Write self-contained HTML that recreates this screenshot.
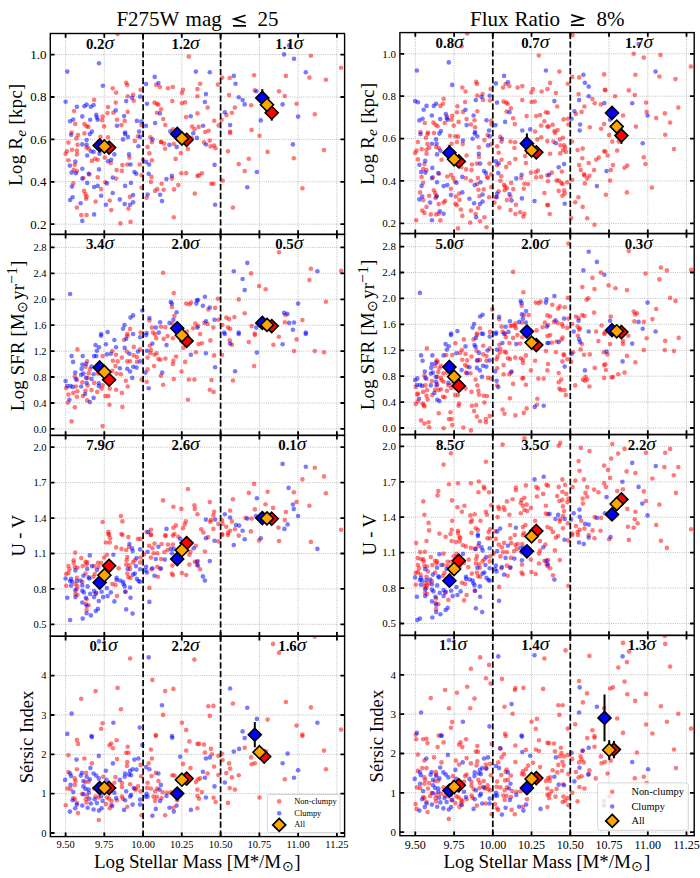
<!DOCTYPE html><html><head><meta charset="utf-8"><style>html,body{margin:0;padding:0;background:#fff}body{width:700px;height:878px;position:relative;overflow:hidden;font-family:"Liberation Serif",serif}</style></head><body><svg width="700" height="878" viewBox="0 0 700 878" style="position:absolute;left:0;top:0;font-family:'Liberation Serif',serif">
<rect width="700" height="878" fill="#fff"/>
<clipPath id="c00"><rect x="50.3" y="33.5" width="294.3" height="200.9"/></clipPath>
<path d="M65.6 33.5V234.4M104.3 33.5V234.4M143.1 33.5V234.4M181.8 33.5V234.4M220.6 33.5V234.4M259.4 33.5V234.4M298.1 33.5V234.4M336.9 33.5V234.4M50.3 224.2H344.6M50.3 181.8H344.6M50.3 139.4H344.6M50.3 97.0H344.6M50.3 54.6H344.6" stroke="#b0b0b0" stroke-width="0.9" stroke-dasharray="0.9 1.3" fill="none"/>
<g clip-path="url(#c00)">
<g fill="#ff0000" fill-opacity="0.52"><circle cx="117.6" cy="34.1" r="2.3"/><circle cx="126.2" cy="82.7" r="2.3"/><circle cx="127.3" cy="85.1" r="2.3"/><circle cx="112.7" cy="88.3" r="2.3"/><circle cx="116.1" cy="92.6" r="2.3"/><circle cx="140.6" cy="89.8" r="2.3"/><circle cx="127.7" cy="96.2" r="2.3"/><circle cx="133.1" cy="94.9" r="2.3"/><circle cx="133.7" cy="100.7" r="2.3"/><circle cx="115.7" cy="102.6" r="2.3"/><circle cx="94.1" cy="99.9" r="2.3"/><circle cx="108.0" cy="107.1" r="2.3"/><circle cx="74.1" cy="111.0" r="2.3"/><circle cx="113.4" cy="112.7" r="2.3"/><circle cx="107.4" cy="113.1" r="2.3"/><circle cx="127.7" cy="111.9" r="2.3"/><circle cx="102.6" cy="116.6" r="2.3"/><circle cx="102.2" cy="120.2" r="2.3"/><circle cx="117.0" cy="119.8" r="2.3"/><circle cx="124.7" cy="120.9" r="2.3"/><circle cx="75.2" cy="124.1" r="2.3"/><circle cx="84.4" cy="124.1" r="2.3"/><circle cx="86.6" cy="126.2" r="2.3"/><circle cx="88.3" cy="126.9" r="2.3"/><circle cx="104.1" cy="126.4" r="2.3"/><circle cx="121.5" cy="125.1" r="2.3"/><circle cx="141.4" cy="125.1" r="2.3"/><circle cx="71.6" cy="132.6" r="2.3"/><circle cx="188.8" cy="56.6" r="2.3"/><circle cx="156.2" cy="84.9" r="2.3"/><circle cx="159.9" cy="87.0" r="2.3"/><circle cx="168.0" cy="88.3" r="2.3"/><circle cx="172.7" cy="87.0" r="2.3"/><circle cx="183.0" cy="89.8" r="2.3"/><circle cx="181.9" cy="93.0" r="2.3"/><circle cx="197.4" cy="89.1" r="2.3"/><circle cx="197.4" cy="96.2" r="2.3"/><circle cx="154.5" cy="102.6" r="2.3"/><circle cx="156.9" cy="103.7" r="2.3"/><circle cx="158.4" cy="104.8" r="2.3"/><circle cx="172.3" cy="101.1" r="2.3"/><circle cx="181.9" cy="103.3" r="2.3"/><circle cx="185.1" cy="102.2" r="2.3"/><circle cx="161.1" cy="109.3" r="2.3"/><circle cx="156.9" cy="112.7" r="2.3"/><circle cx="310.9" cy="55.7" r="2.3"/><circle cx="341.1" cy="67.7" r="2.3"/><circle cx="254.1" cy="75.2" r="2.3"/><circle cx="285.9" cy="75.9" r="2.3"/><circle cx="309.4" cy="77.6" r="2.3"/><circle cx="325.9" cy="79.7" r="2.3"/><circle cx="229.7" cy="78.0" r="2.3"/><circle cx="222.2" cy="77.6" r="2.3"/><circle cx="200.1" cy="83.8" r="2.3"/><circle cx="217.9" cy="84.6" r="2.3"/><circle cx="254.8" cy="90.4" r="2.3"/><circle cx="279.0" cy="91.3" r="2.3"/><circle cx="284.8" cy="96.0" r="2.3"/><circle cx="229.1" cy="95.1" r="2.3"/><circle cx="251.1" cy="105.2" r="2.3"/><circle cx="296.6" cy="103.7" r="2.3"/><circle cx="207.6" cy="107.6" r="2.3"/><circle cx="234.9" cy="107.6" r="2.3"/><circle cx="231.9" cy="112.7" r="2.3"/><circle cx="226.5" cy="115.1" r="2.3"/><circle cx="314.8" cy="114.2" r="2.3"/><circle cx="221.6" cy="119.8" r="2.3"/><circle cx="251.6" cy="129.9" r="2.3"/><circle cx="230.1" cy="131.6" r="2.3"/><circle cx="78.0" cy="135.1" r="2.3"/><circle cx="84.4" cy="133.4" r="2.3"/><circle cx="76.3" cy="138.4" r="2.3"/><circle cx="100.5" cy="136.9" r="2.3"/><circle cx="108.0" cy="137.3" r="2.3"/><circle cx="138.0" cy="136.2" r="2.3"/><circle cx="68.4" cy="142.6" r="2.3"/><circle cx="77.6" cy="144.8" r="2.3"/><circle cx="134.8" cy="140.9" r="2.3"/><circle cx="86.6" cy="147.6" r="2.3"/><circle cx="88.7" cy="148.6" r="2.3"/><circle cx="72.0" cy="149.7" r="2.3"/><circle cx="76.9" cy="150.6" r="2.3"/><circle cx="66.9" cy="151.2" r="2.3"/><circle cx="65.6" cy="153.8" r="2.3"/><circle cx="76.9" cy="154.4" r="2.3"/><circle cx="129.4" cy="157.6" r="2.3"/><circle cx="104.8" cy="157.6" r="2.3"/><circle cx="95.1" cy="158.7" r="2.3"/><circle cx="97.7" cy="159.8" r="2.3"/><circle cx="91.9" cy="160.9" r="2.3"/><circle cx="110.8" cy="163.0" r="2.3"/><circle cx="68.4" cy="160.2" r="2.3"/><circle cx="74.8" cy="164.7" r="2.3"/><circle cx="122.4" cy="165.1" r="2.3"/><circle cx="127.3" cy="164.5" r="2.3"/><circle cx="139.7" cy="164.5" r="2.3"/><circle cx="73.7" cy="169.9" r="2.3"/><circle cx="76.9" cy="171.1" r="2.3"/><circle cx="116.6" cy="170.1" r="2.3"/><circle cx="121.9" cy="170.9" r="2.3"/><circle cx="89.4" cy="174.4" r="2.3"/><circle cx="97.7" cy="177.4" r="2.3"/><circle cx="83.4" cy="178.0" r="2.3"/><circle cx="116.1" cy="178.6" r="2.3"/><circle cx="141.6" cy="175.2" r="2.3"/><circle cx="73.3" cy="183.4" r="2.3"/><circle cx="105.4" cy="182.3" r="2.3"/><circle cx="101.1" cy="189.1" r="2.3"/><circle cx="141.6" cy="187.6" r="2.3"/><circle cx="84.0" cy="190.9" r="2.3"/><circle cx="85.5" cy="194.1" r="2.3"/><circle cx="86.6" cy="196.6" r="2.3"/><circle cx="86.1" cy="198.8" r="2.3"/><circle cx="129.9" cy="196.9" r="2.3"/><circle cx="109.7" cy="200.5" r="2.3"/><circle cx="95.6" cy="201.6" r="2.3"/><circle cx="76.9" cy="207.6" r="2.3"/><circle cx="128.4" cy="208.6" r="2.3"/><circle cx="111.2" cy="210.1" r="2.3"/><circle cx="81.2" cy="215.1" r="2.3"/><circle cx="86.6" cy="215.1" r="2.3"/><circle cx="120.4" cy="223.4" r="2.3"/><circle cx="130.5" cy="221.9" r="2.3"/><circle cx="150.4" cy="137.3" r="2.3"/><circle cx="151.9" cy="142.2" r="2.3"/><circle cx="160.9" cy="142.0" r="2.3"/><circle cx="147.6" cy="146.9" r="2.3"/><circle cx="149.4" cy="153.4" r="2.3"/><circle cx="142.9" cy="159.8" r="2.3"/><circle cx="151.9" cy="160.4" r="2.3"/><circle cx="186.2" cy="173.1" r="2.3"/><circle cx="181.3" cy="173.3" r="2.3"/><circle cx="151.5" cy="176.9" r="2.3"/><circle cx="171.9" cy="178.6" r="2.3"/><circle cx="150.9" cy="181.9" r="2.3"/><circle cx="161.6" cy="183.8" r="2.3"/><circle cx="178.3" cy="185.1" r="2.3"/><circle cx="157.3" cy="189.1" r="2.3"/><circle cx="155.1" cy="190.9" r="2.3"/><circle cx="163.7" cy="189.8" r="2.3"/><circle cx="174.0" cy="189.4" r="2.3"/><circle cx="194.8" cy="193.6" r="2.3"/><circle cx="146.6" cy="197.7" r="2.3"/><circle cx="173.8" cy="217.2" r="2.3"/><circle cx="197.4" cy="175.9" r="2.3"/><circle cx="230.1" cy="133.0" r="2.3"/><circle cx="259.5" cy="135.8" r="2.3"/><circle cx="228.0" cy="151.2" r="2.3"/><circle cx="267.6" cy="151.9" r="2.3"/><circle cx="324.0" cy="150.1" r="2.3"/><circle cx="248.8" cy="158.7" r="2.3"/><circle cx="293.8" cy="158.3" r="2.3"/><circle cx="238.7" cy="164.1" r="2.3"/><circle cx="244.7" cy="171.1" r="2.3"/><circle cx="201.9" cy="173.3" r="2.3"/><circle cx="199.1" cy="175.4" r="2.3"/><circle cx="222.6" cy="180.6" r="2.3"/><circle cx="211.3" cy="183.8" r="2.3"/><circle cx="213.4" cy="183.8" r="2.3"/><circle cx="302.4" cy="188.3" r="2.3"/><circle cx="232.9" cy="207.6" r="2.3"/><circle cx="197.5" cy="113.4" r="2.3"/><circle cx="186.1" cy="117.1" r="2.3"/><circle cx="163.2" cy="119.0" r="2.3"/><circle cx="214.2" cy="120.7" r="2.3"/><circle cx="165.3" cy="125.0" r="2.3"/><circle cx="192.1" cy="126.5" r="2.3"/><circle cx="198.6" cy="126.9" r="2.3"/><circle cx="218.7" cy="125.4" r="2.3"/><circle cx="194.5" cy="129.3" r="2.3"/><circle cx="208.6" cy="130.7" r="2.3"/><circle cx="205.2" cy="132.0" r="2.3"/><circle cx="172.9" cy="129.3" r="2.3"/><circle cx="191.7" cy="137.9" r="2.3"/><circle cx="209.7" cy="140.6" r="2.3"/><circle cx="204.0" cy="142.4" r="2.3"/><circle cx="161.3" cy="142.1" r="2.3"/><circle cx="164.1" cy="143.6" r="2.3"/><circle cx="173.7" cy="144.0" r="2.3"/><circle cx="210.6" cy="146.4" r="2.3"/><circle cx="214.0" cy="145.6" r="2.3"/><circle cx="215.5" cy="148.3" r="2.3"/><circle cx="165.1" cy="148.7" r="2.3"/><circle cx="187.9" cy="149.0" r="2.3"/><circle cx="180.8" cy="153.1" r="2.3"/><circle cx="175.6" cy="158.9" r="2.3"/></g>
<g fill="#0000ff" fill-opacity="0.52"><circle cx="99.0" cy="63.2" r="2.3"/><circle cx="67.3" cy="71.6" r="2.3"/><circle cx="102.9" cy="85.7" r="2.3"/><circle cx="140.1" cy="96.6" r="2.3"/><circle cx="132.0" cy="97.7" r="2.3"/><circle cx="126.2" cy="101.1" r="2.3"/><circle cx="65.6" cy="101.8" r="2.3"/><circle cx="86.6" cy="104.6" r="2.3"/><circle cx="84.4" cy="106.3" r="2.3"/><circle cx="76.9" cy="106.7" r="2.3"/><circle cx="93.6" cy="105.0" r="2.3"/><circle cx="90.9" cy="106.7" r="2.3"/><circle cx="115.7" cy="110.4" r="2.3"/><circle cx="124.1" cy="116.1" r="2.3"/><circle cx="96.2" cy="114.9" r="2.3"/><circle cx="82.3" cy="116.4" r="2.3"/><circle cx="96.9" cy="117.6" r="2.3"/><circle cx="97.7" cy="119.8" r="2.3"/><circle cx="90.2" cy="119.8" r="2.3"/><circle cx="73.1" cy="119.6" r="2.3"/><circle cx="70.1" cy="121.3" r="2.3"/><circle cx="136.9" cy="120.9" r="2.3"/><circle cx="117.0" cy="125.8" r="2.3"/><circle cx="141.4" cy="121.5" r="2.3"/><circle cx="91.9" cy="131.6" r="2.3"/><circle cx="125.1" cy="132.6" r="2.3"/><circle cx="139.1" cy="131.6" r="2.3"/><circle cx="195.9" cy="71.6" r="2.3"/><circle cx="154.7" cy="76.9" r="2.3"/><circle cx="146.1" cy="84.0" r="2.3"/><circle cx="158.4" cy="83.1" r="2.3"/><circle cx="147.0" cy="103.7" r="2.3"/><circle cx="159.9" cy="113.4" r="2.3"/><circle cx="155.1" cy="123.0" r="2.3"/><circle cx="145.9" cy="125.8" r="2.3"/><circle cx="289.1" cy="45.4" r="2.3"/><circle cx="284.1" cy="54.4" r="2.3"/><circle cx="294.0" cy="58.7" r="2.3"/><circle cx="305.8" cy="72.2" r="2.3"/><circle cx="209.8" cy="72.2" r="2.3"/><circle cx="233.8" cy="75.9" r="2.3"/><circle cx="235.5" cy="83.8" r="2.3"/><circle cx="256.3" cy="91.3" r="2.3"/><circle cx="205.9" cy="94.1" r="2.3"/><circle cx="238.7" cy="97.3" r="2.3"/><circle cx="242.6" cy="100.1" r="2.3"/><circle cx="204.9" cy="102.0" r="2.3"/><circle cx="244.7" cy="104.4" r="2.3"/><circle cx="282.6" cy="104.4" r="2.3"/><circle cx="224.8" cy="112.3" r="2.3"/><circle cx="298.1" cy="116.6" r="2.3"/><circle cx="260.8" cy="120.4" r="2.3"/><circle cx="230.1" cy="125.1" r="2.3"/><circle cx="71.1" cy="134.7" r="2.3"/><circle cx="89.8" cy="134.1" r="2.3"/><circle cx="125.1" cy="134.1" r="2.3"/><circle cx="127.9" cy="136.9" r="2.3"/><circle cx="140.1" cy="136.9" r="2.3"/><circle cx="86.6" cy="140.1" r="2.3"/><circle cx="82.3" cy="144.4" r="2.3"/><circle cx="86.6" cy="144.8" r="2.3"/><circle cx="123.0" cy="139.4" r="2.3"/><circle cx="138.4" cy="146.3" r="2.3"/><circle cx="90.9" cy="151.2" r="2.3"/><circle cx="93.6" cy="151.9" r="2.3"/><circle cx="87.2" cy="155.5" r="2.3"/><circle cx="99.4" cy="153.8" r="2.3"/><circle cx="114.4" cy="154.4" r="2.3"/><circle cx="129.0" cy="154.4" r="2.3"/><circle cx="111.2" cy="159.8" r="2.3"/><circle cx="108.0" cy="161.3" r="2.3"/><circle cx="75.4" cy="161.5" r="2.3"/><circle cx="69.9" cy="165.6" r="2.3"/><circle cx="130.5" cy="164.5" r="2.3"/><circle cx="82.3" cy="168.8" r="2.3"/><circle cx="99.0" cy="169.4" r="2.3"/><circle cx="71.6" cy="172.6" r="2.3"/><circle cx="75.9" cy="173.3" r="2.3"/><circle cx="134.4" cy="172.0" r="2.3"/><circle cx="136.3" cy="173.7" r="2.3"/><circle cx="88.7" cy="173.7" r="2.3"/><circle cx="82.3" cy="178.6" r="2.3"/><circle cx="112.7" cy="177.6" r="2.3"/><circle cx="87.2" cy="182.9" r="2.3"/><circle cx="72.0" cy="186.6" r="2.3"/><circle cx="106.9" cy="183.4" r="2.3"/><circle cx="130.9" cy="182.9" r="2.3"/><circle cx="125.1" cy="185.9" r="2.3"/><circle cx="97.7" cy="185.9" r="2.3"/><circle cx="94.1" cy="187.0" r="2.3"/><circle cx="112.7" cy="193.0" r="2.3"/><circle cx="101.1" cy="195.8" r="2.3"/><circle cx="133.1" cy="195.1" r="2.3"/><circle cx="72.6" cy="197.3" r="2.3"/><circle cx="70.1" cy="200.1" r="2.3"/><circle cx="119.8" cy="199.4" r="2.3"/><circle cx="133.1" cy="202.2" r="2.3"/><circle cx="80.6" cy="203.3" r="2.3"/><circle cx="124.7" cy="204.1" r="2.3"/><circle cx="130.1" cy="204.8" r="2.3"/><circle cx="105.9" cy="204.8" r="2.3"/><circle cx="94.1" cy="214.4" r="2.3"/><circle cx="82.3" cy="220.9" r="2.3"/><circle cx="152.4" cy="139.4" r="2.3"/><circle cx="146.1" cy="161.9" r="2.3"/><circle cx="149.1" cy="164.5" r="2.3"/><circle cx="148.7" cy="173.7" r="2.3"/><circle cx="171.9" cy="175.9" r="2.3"/><circle cx="166.5" cy="179.1" r="2.3"/><circle cx="147.6" cy="194.5" r="2.3"/><circle cx="160.1" cy="194.7" r="2.3"/><circle cx="162.0" cy="201.1" r="2.3"/><circle cx="292.9" cy="144.4" r="2.3"/><circle cx="256.9" cy="172.0" r="2.3"/><circle cx="247.3" cy="187.2" r="2.3"/><circle cx="215.1" cy="204.8" r="2.3"/><circle cx="190.7" cy="116.2" r="2.3"/><circle cx="203.1" cy="125.7" r="2.3"/><circle cx="193.3" cy="133.3" r="2.3"/><circle cx="170.3" cy="131.4" r="2.3"/><circle cx="196.9" cy="137.9" r="2.3"/><circle cx="169.4" cy="144.9" r="2.3"/><circle cx="206.0" cy="144.5" r="2.3"/><circle cx="176.7" cy="146.9" r="2.3"/><circle cx="214.6" cy="164.9" r="2.3"/></g>
</g>
<path d="M143.1 234.4V33.5" stroke="#000" stroke-width="1.7" stroke-dasharray="6.18 2.67" fill="none"/>
<path d="M220.6 234.4V33.5" stroke="#000" stroke-width="1.7" stroke-dasharray="6.18 2.67" fill="none"/>
<path d="M109.1 141.1l6.5 6.5l-6.5 6.5l-6.5 -6.5z" fill="#ff0000" stroke="#000" stroke-width="1.6" stroke-linejoin="miter"/>
<path d="M99.7 138.9l6.5 6.5l-6.5 6.5l-6.5 -6.5z" fill="#0000ff" stroke="#000" stroke-width="1.6" stroke-linejoin="miter"/>
<path d="M104.4 140.0l6.5 6.5l-6.5 6.5l-6.5 -6.5z" fill="#ffa500" stroke="#000" stroke-width="1.6" stroke-linejoin="miter"/>
<path d="M186.6 133.3l6.5 6.5l-6.5 6.5l-6.5 -6.5z" fill="#ff0000" stroke="#000" stroke-width="1.6" stroke-linejoin="miter"/>
<path d="M177.2 127.4l6.5 6.5l-6.5 6.5l-6.5 -6.5z" fill="#0000ff" stroke="#000" stroke-width="1.6" stroke-linejoin="miter"/>
<path d="M181.9 132.0l6.5 6.5l-6.5 6.5l-6.5 -6.5z" fill="#ffa500" stroke="#000" stroke-width="1.6" stroke-linejoin="miter"/>
<path d="M271.7 104.7V120.7" stroke="#000" stroke-width="2"/>
<path d="M271.7 106.2l6.5 6.5l-6.5 6.5l-6.5 -6.5z" fill="#ff0000" stroke="#000" stroke-width="1.6" stroke-linejoin="miter"/>
<path d="M262.3 89.1V106.7" stroke="#000" stroke-width="2"/>
<path d="M262.3 91.4l6.5 6.5l-6.5 6.5l-6.5 -6.5z" fill="#0000ff" stroke="#000" stroke-width="1.6" stroke-linejoin="miter"/>
<path d="M267.0 98.3l6.5 6.5l-6.5 6.5l-6.5 -6.5z" fill="#ffa500" stroke="#000" stroke-width="1.6" stroke-linejoin="miter"/>
<path d="M65.6 234.4v-4.2M65.6 33.5v4.2M104.3 234.4v-4.2M104.3 33.5v4.2M143.1 234.4v-4.2M143.1 33.5v4.2M181.8 234.4v-4.2M181.8 33.5v4.2M220.6 234.4v-4.2M220.6 33.5v4.2M259.4 234.4v-4.2M259.4 33.5v4.2M298.1 234.4v-4.2M298.1 33.5v4.2M336.9 234.4v-4.2M336.9 33.5v4.2M50.3 224.2h4.2M344.6 224.2h-4.2M50.3 181.8h4.2M344.6 181.8h-4.2M50.3 139.4h4.2M344.6 139.4h-4.2M50.3 97.0h4.2M344.6 97.0h-4.2M50.3 54.6h4.2M344.6 54.6h-4.2" stroke="#000" stroke-width="1.8" fill="none"/>
<rect x="50.3" y="33.5" width="294.3" height="200.9" fill="none" stroke="#000" stroke-width="1.4"/>
<text x="46.5" y="228.6" font-size="13" text-anchor="end">0.2</text>
<text x="46.5" y="186.2" font-size="13" text-anchor="end">0.4</text>
<text x="46.5" y="143.8" font-size="13" text-anchor="end">0.6</text>
<text x="46.5" y="101.4" font-size="13" text-anchor="end">0.8</text>
<text x="46.5" y="59.0" font-size="13" text-anchor="end">1.0</text>
<text x="100.0" y="48.5" font-size="14.8" font-weight="bold" text-anchor="middle">0.2<tspan font-style="italic" font-weight="normal" font-size="19.5">σ</tspan></text>
<text x="185.6" y="48.5" font-size="14.8" font-weight="bold" text-anchor="middle">1.2<tspan font-style="italic" font-weight="normal" font-size="19.5">σ</tspan></text>
<text x="289.4" y="48.5" font-size="14.8" font-weight="bold" text-anchor="middle">1.1<tspan font-style="italic" font-weight="normal" font-size="19.5">σ</tspan></text>
<clipPath id="c01"><rect x="50.3" y="234.4" width="294.3" height="201.0"/></clipPath>
<path d="M65.6 234.4V435.4M104.3 234.4V435.4M143.1 234.4V435.4M181.8 234.4V435.4M220.6 234.4V435.4M259.4 234.4V435.4M298.1 234.4V435.4M336.9 234.4V435.4M50.3 428.9H344.6M50.3 403.0H344.6M50.3 377.0H344.6M50.3 351.1H344.6M50.3 325.2H344.6M50.3 299.3H344.6M50.3 273.3H344.6M50.3 247.4H344.6" stroke="#b0b0b0" stroke-width="0.9" stroke-dasharray="0.9 1.3" fill="none"/>
<g clip-path="url(#c01)">
<g fill="#ff0000" fill-opacity="0.52"><circle cx="163.1" cy="272.8" r="2.3"/><circle cx="173.8" cy="293.1" r="2.3"/><circle cx="171.9" cy="306.9" r="2.3"/><circle cx="191.1" cy="302.6" r="2.3"/><circle cx="186.2" cy="303.6" r="2.3"/><circle cx="189.4" cy="304.3" r="2.3"/><circle cx="174.4" cy="315.9" r="2.3"/><circle cx="149.4" cy="320.4" r="2.3"/><circle cx="172.3" cy="323.6" r="2.3"/><circle cx="195.4" cy="323.6" r="2.3"/><circle cx="160.9" cy="326.8" r="2.3"/><circle cx="165.2" cy="327.2" r="2.3"/><circle cx="151.9" cy="327.6" r="2.3"/><circle cx="130.1" cy="328.9" r="2.3"/><circle cx="193.1" cy="328.3" r="2.3"/><circle cx="140.6" cy="332.6" r="2.3"/><circle cx="153.0" cy="332.6" r="2.3"/><circle cx="186.9" cy="331.5" r="2.3"/><circle cx="127.3" cy="334.1" r="2.3"/><circle cx="279.0" cy="252.2" r="2.3"/><circle cx="310.9" cy="268.7" r="2.3"/><circle cx="341.1" cy="270.9" r="2.3"/><circle cx="251.1" cy="273.4" r="2.3"/><circle cx="309.4" cy="280.1" r="2.3"/><circle cx="259.1" cy="286.1" r="2.3"/><circle cx="265.7" cy="289.3" r="2.3"/><circle cx="217.9" cy="298.7" r="2.3"/><circle cx="238.7" cy="299.4" r="2.3"/><circle cx="325.9" cy="301.7" r="2.3"/><circle cx="208.3" cy="309.4" r="2.3"/><circle cx="215.1" cy="307.9" r="2.3"/><circle cx="244.7" cy="313.3" r="2.3"/><circle cx="285.4" cy="315.0" r="2.3"/><circle cx="234.4" cy="317.1" r="2.3"/><circle cx="226.3" cy="317.6" r="2.3"/><circle cx="229.1" cy="319.1" r="2.3"/><circle cx="218.4" cy="319.7" r="2.3"/><circle cx="302.4" cy="320.1" r="2.3"/><circle cx="204.4" cy="322.9" r="2.3"/><circle cx="207.6" cy="324.0" r="2.3"/><circle cx="284.8" cy="322.3" r="2.3"/><circle cx="198.0" cy="326.1" r="2.3"/><circle cx="213.4" cy="327.6" r="2.3"/><circle cx="251.6" cy="326.1" r="2.3"/><circle cx="222.2" cy="325.1" r="2.3"/><circle cx="228.0" cy="327.6" r="2.3"/><circle cx="230.1" cy="328.9" r="2.3"/><circle cx="254.8" cy="333.6" r="2.3"/><circle cx="127.3" cy="335.7" r="2.3"/><circle cx="124.1" cy="340.0" r="2.3"/><circle cx="133.7" cy="346.9" r="2.3"/><circle cx="77.4" cy="349.4" r="2.3"/><circle cx="112.3" cy="351.1" r="2.3"/><circle cx="126.9" cy="351.6" r="2.3"/><circle cx="140.1" cy="349.4" r="2.3"/><circle cx="102.6" cy="356.1" r="2.3"/><circle cx="115.9" cy="354.8" r="2.3"/><circle cx="133.7" cy="355.4" r="2.3"/><circle cx="136.9" cy="357.1" r="2.3"/><circle cx="121.9" cy="357.6" r="2.3"/><circle cx="112.9" cy="360.8" r="2.3"/><circle cx="117.6" cy="361.4" r="2.3"/><circle cx="87.0" cy="361.4" r="2.3"/><circle cx="127.3" cy="361.4" r="2.3"/><circle cx="130.1" cy="361.2" r="2.3"/><circle cx="136.9" cy="361.9" r="2.3"/><circle cx="85.5" cy="366.8" r="2.3"/><circle cx="115.5" cy="366.1" r="2.3"/><circle cx="89.8" cy="369.4" r="2.3"/><circle cx="88.7" cy="373.2" r="2.3"/><circle cx="112.3" cy="370.9" r="2.3"/><circle cx="116.6" cy="373.6" r="2.3"/><circle cx="120.9" cy="374.3" r="2.3"/><circle cx="97.9" cy="373.6" r="2.3"/><circle cx="74.8" cy="376.4" r="2.3"/><circle cx="76.9" cy="380.1" r="2.3"/><circle cx="87.6" cy="377.9" r="2.3"/><circle cx="82.3" cy="382.2" r="2.3"/><circle cx="94.1" cy="382.9" r="2.3"/><circle cx="125.8" cy="380.7" r="2.3"/><circle cx="141.6" cy="379.6" r="2.3"/><circle cx="66.2" cy="388.0" r="2.3"/><circle cx="75.9" cy="386.5" r="2.3"/><circle cx="87.6" cy="385.4" r="2.3"/><circle cx="102.6" cy="385.4" r="2.3"/><circle cx="127.7" cy="386.5" r="2.3"/><circle cx="109.7" cy="388.6" r="2.3"/><circle cx="116.1" cy="389.7" r="2.3"/><circle cx="91.5" cy="390.1" r="2.3"/><circle cx="77.4" cy="391.2" r="2.3"/><circle cx="85.5" cy="390.8" r="2.3"/><circle cx="73.3" cy="392.9" r="2.3"/><circle cx="97.3" cy="391.9" r="2.3"/><circle cx="101.6" cy="388.6" r="2.3"/><circle cx="121.9" cy="392.9" r="2.3"/><circle cx="68.4" cy="394.6" r="2.3"/><circle cx="82.9" cy="396.1" r="2.3"/><circle cx="76.9" cy="396.8" r="2.3"/><circle cx="105.4" cy="396.1" r="2.3"/><circle cx="108.4" cy="396.1" r="2.3"/><circle cx="87.2" cy="400.4" r="2.3"/><circle cx="67.9" cy="402.6" r="2.3"/><circle cx="109.5" cy="404.7" r="2.3"/><circle cx="74.8" cy="407.3" r="2.3"/><circle cx="122.4" cy="406.9" r="2.3"/><circle cx="71.6" cy="421.4" r="2.3"/><circle cx="102.6" cy="426.1" r="2.3"/><circle cx="155.1" cy="334.4" r="2.3"/><circle cx="167.6" cy="336.1" r="2.3"/><circle cx="163.7" cy="338.9" r="2.3"/><circle cx="156.2" cy="338.3" r="2.3"/><circle cx="172.9" cy="338.3" r="2.3"/><circle cx="149.8" cy="345.8" r="2.3"/><circle cx="183.4" cy="347.9" r="2.3"/><circle cx="150.9" cy="350.1" r="2.3"/><circle cx="150.4" cy="353.3" r="2.3"/><circle cx="156.6" cy="353.3" r="2.3"/><circle cx="154.5" cy="354.8" r="2.3"/><circle cx="147.6" cy="357.6" r="2.3"/><circle cx="158.4" cy="359.1" r="2.3"/><circle cx="160.5" cy="359.7" r="2.3"/><circle cx="165.4" cy="358.6" r="2.3"/><circle cx="176.1" cy="356.5" r="2.3"/><circle cx="173.4" cy="360.8" r="2.3"/><circle cx="185.1" cy="361.9" r="2.3"/><circle cx="172.9" cy="364.0" r="2.3"/><circle cx="154.1" cy="366.1" r="2.3"/><circle cx="147.6" cy="369.4" r="2.3"/><circle cx="160.9" cy="375.8" r="2.3"/><circle cx="181.5" cy="371.5" r="2.3"/><circle cx="173.8" cy="379.0" r="2.3"/><circle cx="188.8" cy="379.6" r="2.3"/><circle cx="194.4" cy="379.6" r="2.3"/><circle cx="146.6" cy="381.8" r="2.3"/><circle cx="163.1" cy="384.8" r="2.3"/><circle cx="187.9" cy="399.8" r="2.3"/><circle cx="195.9" cy="352.2" r="2.3"/><circle cx="200.1" cy="334.0" r="2.3"/><circle cx="254.8" cy="335.1" r="2.3"/><circle cx="278.8" cy="336.8" r="2.3"/><circle cx="296.6" cy="339.4" r="2.3"/><circle cx="210.4" cy="340.4" r="2.3"/><circle cx="229.7" cy="340.4" r="2.3"/><circle cx="248.8" cy="342.1" r="2.3"/><circle cx="201.9" cy="343.2" r="2.3"/><circle cx="198.6" cy="344.1" r="2.3"/><circle cx="231.9" cy="344.7" r="2.3"/><circle cx="273.4" cy="344.7" r="2.3"/><circle cx="294.0" cy="351.1" r="2.3"/><circle cx="314.8" cy="351.1" r="2.3"/><circle cx="324.0" cy="352.2" r="2.3"/><circle cx="214.1" cy="355.4" r="2.3"/><circle cx="222.0" cy="355.0" r="2.3"/><circle cx="254.1" cy="366.1" r="2.3"/><circle cx="211.5" cy="380.1" r="2.3"/><circle cx="232.9" cy="380.5" r="2.3"/><circle cx="209.8" cy="389.7" r="2.3"/><circle cx="213.6" cy="391.9" r="2.3"/></g>
<g fill="#0000ff" fill-opacity="0.52"><circle cx="70.1" cy="294.0" r="2.3"/><circle cx="170.8" cy="302.1" r="2.3"/><circle cx="171.9" cy="303.6" r="2.3"/><circle cx="196.9" cy="300.4" r="2.3"/><circle cx="196.3" cy="303.6" r="2.3"/><circle cx="142.3" cy="310.5" r="2.3"/><circle cx="176.6" cy="312.2" r="2.3"/><circle cx="133.1" cy="315.4" r="2.3"/><circle cx="130.5" cy="317.6" r="2.3"/><circle cx="149.4" cy="318.0" r="2.3"/><circle cx="173.4" cy="319.7" r="2.3"/><circle cx="169.5" cy="322.9" r="2.3"/><circle cx="160.1" cy="322.3" r="2.3"/><circle cx="124.5" cy="325.1" r="2.3"/><circle cx="155.8" cy="327.6" r="2.3"/><circle cx="123.0" cy="328.7" r="2.3"/><circle cx="197.4" cy="327.6" r="2.3"/><circle cx="107.6" cy="332.1" r="2.3"/><circle cx="146.6" cy="333.0" r="2.3"/><circle cx="158.8" cy="332.6" r="2.3"/><circle cx="101.1" cy="334.1" r="2.3"/><circle cx="247.3" cy="262.9" r="2.3"/><circle cx="317.4" cy="271.3" r="2.3"/><circle cx="233.8" cy="271.3" r="2.3"/><circle cx="242.6" cy="279.0" r="2.3"/><circle cx="244.7" cy="290.1" r="2.3"/><circle cx="204.9" cy="296.8" r="2.3"/><circle cx="298.1" cy="303.6" r="2.3"/><circle cx="198.0" cy="300.0" r="2.3"/><circle cx="202.9" cy="305.8" r="2.3"/><circle cx="209.8" cy="307.5" r="2.3"/><circle cx="284.1" cy="312.9" r="2.3"/><circle cx="287.4" cy="313.9" r="2.3"/><circle cx="214.5" cy="319.7" r="2.3"/><circle cx="205.9" cy="321.2" r="2.3"/><circle cx="289.1" cy="322.9" r="2.3"/><circle cx="294.0" cy="322.5" r="2.3"/><circle cx="256.3" cy="327.6" r="2.3"/><circle cx="292.9" cy="329.8" r="2.3"/><circle cx="224.1" cy="332.6" r="2.3"/><circle cx="238.7" cy="332.6" r="2.3"/><circle cx="305.8" cy="332.6" r="2.3"/><circle cx="101.1" cy="335.7" r="2.3"/><circle cx="133.1" cy="334.0" r="2.3"/><circle cx="126.2" cy="338.7" r="2.3"/><circle cx="114.4" cy="340.0" r="2.3"/><circle cx="140.1" cy="337.2" r="2.3"/><circle cx="105.9" cy="344.3" r="2.3"/><circle cx="95.6" cy="345.1" r="2.3"/><circle cx="99.0" cy="347.3" r="2.3"/><circle cx="116.1" cy="347.3" r="2.3"/><circle cx="124.7" cy="347.9" r="2.3"/><circle cx="96.9" cy="350.7" r="2.3"/><circle cx="138.0" cy="351.6" r="2.3"/><circle cx="129.4" cy="353.7" r="2.3"/><circle cx="106.9" cy="354.4" r="2.3"/><circle cx="110.8" cy="353.7" r="2.3"/><circle cx="71.6" cy="356.1" r="2.3"/><circle cx="82.7" cy="356.1" r="2.3"/><circle cx="94.1" cy="356.1" r="2.3"/><circle cx="96.2" cy="356.1" r="2.3"/><circle cx="73.1" cy="361.9" r="2.3"/><circle cx="86.1" cy="364.0" r="2.3"/><circle cx="82.3" cy="364.6" r="2.3"/><circle cx="140.1" cy="361.4" r="2.3"/><circle cx="91.5" cy="366.6" r="2.3"/><circle cx="119.8" cy="368.3" r="2.3"/><circle cx="133.3" cy="366.8" r="2.3"/><circle cx="136.5" cy="367.6" r="2.3"/><circle cx="127.3" cy="368.7" r="2.3"/><circle cx="130.1" cy="371.5" r="2.3"/><circle cx="81.6" cy="368.9" r="2.3"/><circle cx="75.2" cy="372.6" r="2.3"/><circle cx="83.4" cy="373.6" r="2.3"/><circle cx="81.2" cy="374.7" r="2.3"/><circle cx="93.6" cy="374.3" r="2.3"/><circle cx="65.6" cy="381.1" r="2.3"/><circle cx="75.9" cy="379.0" r="2.3"/><circle cx="86.1" cy="377.9" r="2.3"/><circle cx="91.5" cy="379.0" r="2.3"/><circle cx="86.6" cy="382.9" r="2.3"/><circle cx="98.8" cy="383.3" r="2.3"/><circle cx="132.2" cy="377.9" r="2.3"/><circle cx="67.3" cy="386.1" r="2.3"/><circle cx="70.5" cy="386.1" r="2.3"/><circle cx="72.6" cy="386.9" r="2.3"/><circle cx="81.2" cy="386.5" r="2.3"/><circle cx="98.8" cy="386.1" r="2.3"/><circle cx="85.1" cy="394.0" r="2.3"/><circle cx="93.6" cy="397.9" r="2.3"/><circle cx="69.4" cy="399.8" r="2.3"/><circle cx="89.8" cy="402.1" r="2.3"/><circle cx="146.1" cy="335.1" r="2.3"/><circle cx="152.4" cy="343.6" r="2.3"/><circle cx="166.5" cy="345.1" r="2.3"/><circle cx="147.0" cy="350.7" r="2.3"/><circle cx="190.9" cy="354.8" r="2.3"/><circle cx="145.5" cy="372.6" r="2.3"/><circle cx="162.2" cy="372.6" r="2.3"/><circle cx="148.7" cy="388.2" r="2.3"/><circle cx="224.8" cy="334.0" r="2.3"/><circle cx="238.7" cy="334.0" r="2.3"/><circle cx="305.8" cy="334.0" r="2.3"/><circle cx="230.1" cy="343.6" r="2.3"/><circle cx="282.6" cy="344.3" r="2.3"/><circle cx="205.9" cy="353.3" r="2.3"/><circle cx="256.9" cy="352.6" r="2.3"/><circle cx="215.1" cy="367.2" r="2.3"/><circle cx="235.1" cy="371.3" r="2.3"/></g>
</g>
<path d="M143.1 435.4V234.4" stroke="#000" stroke-width="1.7" stroke-dasharray="6.18 2.67" fill="none"/>
<path d="M220.6 435.4V234.4" stroke="#000" stroke-width="1.7" stroke-dasharray="6.18 2.67" fill="none"/>
<path d="M109.1 373.2l6.5 6.5l-6.5 6.5l-6.5 -6.5z" fill="#ff0000" stroke="#000" stroke-width="1.6" stroke-linejoin="miter"/>
<path d="M99.7 361.0l6.5 6.5l-6.5 6.5l-6.5 -6.5z" fill="#0000ff" stroke="#000" stroke-width="1.6" stroke-linejoin="miter"/>
<path d="M104.4 365.5l6.5 6.5l-6.5 6.5l-6.5 -6.5z" fill="#ffa500" stroke="#000" stroke-width="1.6" stroke-linejoin="miter"/>
<path d="M186.6 334.4l6.5 6.5l-6.5 6.5l-6.5 -6.5z" fill="#ff0000" stroke="#000" stroke-width="1.6" stroke-linejoin="miter"/>
<path d="M177.2 321.8l6.5 6.5l-6.5 6.5l-6.5 -6.5z" fill="#0000ff" stroke="#000" stroke-width="1.6" stroke-linejoin="miter"/>
<path d="M181.9 328.8l6.5 6.5l-6.5 6.5l-6.5 -6.5z" fill="#ffa500" stroke="#000" stroke-width="1.6" stroke-linejoin="miter"/>
<path d="M271.7 319.6l6.5 6.5l-6.5 6.5l-6.5 -6.5z" fill="#ff0000" stroke="#000" stroke-width="1.6" stroke-linejoin="miter"/>
<path d="M262.3 316.4l6.5 6.5l-6.5 6.5l-6.5 -6.5z" fill="#0000ff" stroke="#000" stroke-width="1.6" stroke-linejoin="miter"/>
<path d="M267.0 318.4l6.5 6.5l-6.5 6.5l-6.5 -6.5z" fill="#ffa500" stroke="#000" stroke-width="1.6" stroke-linejoin="miter"/>
<path d="M65.6 435.4v-4.2M65.6 234.4v4.2M104.3 435.4v-4.2M104.3 234.4v4.2M143.1 435.4v-4.2M143.1 234.4v4.2M181.8 435.4v-4.2M181.8 234.4v4.2M220.6 435.4v-4.2M220.6 234.4v4.2M259.4 435.4v-4.2M259.4 234.4v4.2M298.1 435.4v-4.2M298.1 234.4v4.2M336.9 435.4v-4.2M336.9 234.4v4.2M50.3 428.9h4.2M344.6 428.9h-4.2M50.3 403.0h4.2M344.6 403.0h-4.2M50.3 377.0h4.2M344.6 377.0h-4.2M50.3 351.1h4.2M344.6 351.1h-4.2M50.3 325.2h4.2M344.6 325.2h-4.2M50.3 299.3h4.2M344.6 299.3h-4.2M50.3 273.3h4.2M344.6 273.3h-4.2M50.3 247.4h4.2M344.6 247.4h-4.2" stroke="#000" stroke-width="1.8" fill="none"/>
<rect x="50.3" y="234.4" width="294.3" height="201.0" fill="none" stroke="#000" stroke-width="1.4"/>
<text x="46.5" y="432.5" font-size="10.5" text-anchor="end">0.0</text>
<text x="46.5" y="406.5" font-size="10.5" text-anchor="end">0.4</text>
<text x="46.5" y="380.6" font-size="10.5" text-anchor="end">0.8</text>
<text x="46.5" y="354.7" font-size="10.5" text-anchor="end">1.2</text>
<text x="46.5" y="328.8" font-size="10.5" text-anchor="end">1.6</text>
<text x="46.5" y="302.8" font-size="10.5" text-anchor="end">2.0</text>
<text x="46.5" y="276.9" font-size="10.5" text-anchor="end">2.4</text>
<text x="46.5" y="251.0" font-size="10.5" text-anchor="end">2.8</text>
<text x="100.0" y="249.4" font-size="14.8" font-weight="bold" text-anchor="middle">3.4<tspan font-style="italic" font-weight="normal" font-size="19.5">σ</tspan></text>
<text x="185.6" y="249.4" font-size="14.8" font-weight="bold" text-anchor="middle">2.0<tspan font-style="italic" font-weight="normal" font-size="19.5">σ</tspan></text>
<text x="289.2" y="249.4" font-size="14.8" font-weight="bold" text-anchor="middle">0.5<tspan font-style="italic" font-weight="normal" font-size="19.5">σ</tspan></text>
<clipPath id="c02"><rect x="50.3" y="435.4" width="294.3" height="200.9"/></clipPath>
<path d="M65.6 435.4V636.3M104.3 435.4V636.3M143.1 435.4V636.3M181.8 435.4V636.3M220.6 435.4V636.3M259.4 435.4V636.3M298.1 435.4V636.3M336.9 435.4V636.3M50.3 624.3H344.6M50.3 588.9H344.6M50.3 553.5H344.6M50.3 518.1H344.6M50.3 482.6H344.6M50.3 447.2H344.6" stroke="#b0b0b0" stroke-width="0.9" stroke-dasharray="0.9 1.3" fill="none"/>
<g clip-path="url(#c02)">
<g fill="#ff0000" fill-opacity="0.52"><circle cx="187.9" cy="489.0" r="2.3"/><circle cx="163.1" cy="500.4" r="2.3"/><circle cx="173.4" cy="506.8" r="2.3"/><circle cx="181.3" cy="508.9" r="2.3"/><circle cx="194.4" cy="505.3" r="2.3"/><circle cx="194.8" cy="508.9" r="2.3"/><circle cx="197.4" cy="514.3" r="2.3"/><circle cx="120.9" cy="516.0" r="2.3"/><circle cx="122.4" cy="521.4" r="2.3"/><circle cx="102.6" cy="522.0" r="2.3"/><circle cx="185.8" cy="521.4" r="2.3"/><circle cx="184.7" cy="524.4" r="2.3"/><circle cx="175.9" cy="525.4" r="2.3"/><circle cx="173.4" cy="527.8" r="2.3"/><circle cx="183.0" cy="528.2" r="2.3"/><circle cx="150.9" cy="529.7" r="2.3"/><circle cx="146.6" cy="532.1" r="2.3"/><circle cx="108.4" cy="531.9" r="2.3"/><circle cx="108.4" cy="534.0" r="2.3"/><circle cx="121.5" cy="534.0" r="2.3"/><circle cx="174.4" cy="534.0" r="2.3"/><circle cx="150.9" cy="534.6" r="2.3"/><circle cx="165.4" cy="535.1" r="2.3"/><circle cx="314.8" cy="467.8" r="2.3"/><circle cx="324.0" cy="476.4" r="2.3"/><circle cx="302.4" cy="479.4" r="2.3"/><circle cx="254.1" cy="483.9" r="2.3"/><circle cx="293.8" cy="492.2" r="2.3"/><circle cx="325.9" cy="493.3" r="2.3"/><circle cx="248.8" cy="492.9" r="2.3"/><circle cx="267.6" cy="491.8" r="2.3"/><circle cx="232.9" cy="499.3" r="2.3"/><circle cx="209.8" cy="502.1" r="2.3"/><circle cx="296.6" cy="501.9" r="2.3"/><circle cx="309.4" cy="505.7" r="2.3"/><circle cx="265.5" cy="504.2" r="2.3"/><circle cx="273.0" cy="507.9" r="2.3"/><circle cx="254.8" cy="509.4" r="2.3"/><circle cx="230.1" cy="510.6" r="2.3"/><circle cx="214.1" cy="511.7" r="2.3"/><circle cx="285.9" cy="512.1" r="2.3"/><circle cx="213.4" cy="515.4" r="2.3"/><circle cx="245.6" cy="517.9" r="2.3"/><circle cx="251.6" cy="518.6" r="2.3"/><circle cx="210.9" cy="520.1" r="2.3"/><circle cx="210.2" cy="521.8" r="2.3"/><circle cx="222.0" cy="520.3" r="2.3"/><circle cx="231.9" cy="521.4" r="2.3"/><circle cx="284.8" cy="520.1" r="2.3"/><circle cx="218.4" cy="523.9" r="2.3"/><circle cx="222.6" cy="523.9" r="2.3"/><circle cx="226.3" cy="526.7" r="2.3"/><circle cx="278.4" cy="527.6" r="2.3"/><circle cx="201.2" cy="529.3" r="2.3"/><circle cx="213.4" cy="528.9" r="2.3"/><circle cx="234.9" cy="529.3" r="2.3"/><circle cx="230.1" cy="530.8" r="2.3"/><circle cx="250.9" cy="531.4" r="2.3"/><circle cx="203.4" cy="532.5" r="2.3"/><circle cx="228.0" cy="532.9" r="2.3"/><circle cx="341.1" cy="529.7" r="2.3"/><circle cx="222.2" cy="534.0" r="2.3"/><circle cx="109.1" cy="535.0" r="2.3"/><circle cx="122.4" cy="535.0" r="2.3"/><circle cx="110.1" cy="538.2" r="2.3"/><circle cx="128.4" cy="537.1" r="2.3"/><circle cx="138.0" cy="538.9" r="2.3"/><circle cx="140.6" cy="538.9" r="2.3"/><circle cx="105.9" cy="542.5" r="2.3"/><circle cx="109.7" cy="542.5" r="2.3"/><circle cx="129.0" cy="546.8" r="2.3"/><circle cx="116.1" cy="547.4" r="2.3"/><circle cx="121.5" cy="548.9" r="2.3"/><circle cx="126.2" cy="550.0" r="2.3"/><circle cx="75.2" cy="552.6" r="2.3"/><circle cx="81.2" cy="558.1" r="2.3"/><circle cx="73.7" cy="560.3" r="2.3"/><circle cx="73.7" cy="562.9" r="2.3"/><circle cx="106.9" cy="554.7" r="2.3"/><circle cx="104.1" cy="557.5" r="2.3"/><circle cx="127.3" cy="557.1" r="2.3"/><circle cx="140.6" cy="557.5" r="2.3"/><circle cx="134.8" cy="560.3" r="2.3"/><circle cx="85.5" cy="561.8" r="2.3"/><circle cx="87.2" cy="562.4" r="2.3"/><circle cx="86.6" cy="564.4" r="2.3"/><circle cx="97.9" cy="562.9" r="2.3"/><circle cx="101.1" cy="562.9" r="2.3"/><circle cx="126.6" cy="560.3" r="2.3"/><circle cx="133.1" cy="562.4" r="2.3"/><circle cx="140.1" cy="562.4" r="2.3"/><circle cx="68.4" cy="566.1" r="2.3"/><circle cx="74.8" cy="567.1" r="2.3"/><circle cx="77.4" cy="567.6" r="2.3"/><circle cx="82.7" cy="566.1" r="2.3"/><circle cx="94.1" cy="566.1" r="2.3"/><circle cx="98.4" cy="567.1" r="2.3"/><circle cx="126.2" cy="564.6" r="2.3"/><circle cx="129.4" cy="565.4" r="2.3"/><circle cx="69.4" cy="569.3" r="2.3"/><circle cx="118.7" cy="568.2" r="2.3"/><circle cx="130.1" cy="568.9" r="2.3"/><circle cx="68.4" cy="572.9" r="2.3"/><circle cx="85.5" cy="573.6" r="2.3"/><circle cx="94.7" cy="574.0" r="2.3"/><circle cx="93.4" cy="576.8" r="2.3"/><circle cx="127.3" cy="573.6" r="2.3"/><circle cx="66.2" cy="574.0" r="2.3"/><circle cx="128.4" cy="577.2" r="2.3"/><circle cx="76.9" cy="577.9" r="2.3"/><circle cx="130.5" cy="577.9" r="2.3"/><circle cx="82.3" cy="582.1" r="2.3"/><circle cx="66.2" cy="585.8" r="2.3"/><circle cx="75.4" cy="584.3" r="2.3"/><circle cx="77.4" cy="586.4" r="2.3"/><circle cx="112.3" cy="583.9" r="2.3"/><circle cx="115.5" cy="584.9" r="2.3"/><circle cx="76.5" cy="589.0" r="2.3"/><circle cx="125.1" cy="591.8" r="2.3"/><circle cx="75.4" cy="593.9" r="2.3"/><circle cx="77.4" cy="595.0" r="2.3"/><circle cx="95.6" cy="593.9" r="2.3"/><circle cx="86.6" cy="599.3" r="2.3"/><circle cx="117.0" cy="596.1" r="2.3"/><circle cx="85.9" cy="604.0" r="2.3"/><circle cx="88.7" cy="605.3" r="2.3"/><circle cx="86.6" cy="610.0" r="2.3"/><circle cx="150.9" cy="535.0" r="2.3"/><circle cx="165.4" cy="536.1" r="2.3"/><circle cx="172.9" cy="535.6" r="2.3"/><circle cx="178.3" cy="536.7" r="2.3"/><circle cx="154.5" cy="543.6" r="2.3"/><circle cx="149.1" cy="545.7" r="2.3"/><circle cx="161.6" cy="544.0" r="2.3"/><circle cx="168.0" cy="544.6" r="2.3"/><circle cx="172.9" cy="544.6" r="2.3"/><circle cx="152.4" cy="548.3" r="2.3"/><circle cx="167.6" cy="550.0" r="2.3"/><circle cx="164.4" cy="552.1" r="2.3"/><circle cx="153.6" cy="553.2" r="2.3"/><circle cx="157.3" cy="553.2" r="2.3"/><circle cx="144.0" cy="554.3" r="2.3"/><circle cx="150.9" cy="557.5" r="2.3"/><circle cx="161.1" cy="559.0" r="2.3"/><circle cx="195.9" cy="545.7" r="2.3"/><circle cx="190.5" cy="551.7" r="2.3"/><circle cx="189.4" cy="554.7" r="2.3"/><circle cx="194.8" cy="561.8" r="2.3"/><circle cx="189.4" cy="564.6" r="2.3"/><circle cx="196.9" cy="565.0" r="2.3"/><circle cx="172.3" cy="565.6" r="2.3"/><circle cx="157.3" cy="566.7" r="2.3"/><circle cx="160.1" cy="568.6" r="2.3"/><circle cx="151.5" cy="569.3" r="2.3"/><circle cx="171.9" cy="573.6" r="2.3"/><circle cx="172.9" cy="575.3" r="2.3"/><circle cx="181.9" cy="573.1" r="2.3"/><circle cx="186.2" cy="575.1" r="2.3"/><circle cx="157.9" cy="576.8" r="2.3"/><circle cx="149.4" cy="587.9" r="2.3"/><circle cx="222.2" cy="535.0" r="2.3"/><circle cx="228.0" cy="535.0" r="2.3"/><circle cx="238.7" cy="535.6" r="2.3"/><circle cx="208.1" cy="537.1" r="2.3"/><circle cx="259.1" cy="540.4" r="2.3"/><circle cx="218.4" cy="541.4" r="2.3"/><circle cx="279.0" cy="541.0" r="2.3"/><circle cx="310.9" cy="541.9" r="2.3"/><circle cx="204.9" cy="551.5" r="2.3"/><circle cx="198.0" cy="561.1" r="2.3"/><circle cx="200.1" cy="569.3" r="2.3"/></g>
<g fill="#0000ff" fill-opacity="0.52"><circle cx="166.5" cy="528.9" r="2.3"/><circle cx="148.3" cy="532.1" r="2.3"/><circle cx="282.6" cy="463.9" r="2.3"/><circle cx="305.8" cy="466.7" r="2.3"/><circle cx="288.6" cy="487.9" r="2.3"/><circle cx="256.9" cy="498.2" r="2.3"/><circle cx="292.9" cy="504.6" r="2.3"/><circle cx="293.8" cy="509.1" r="2.3"/><circle cx="224.8" cy="514.3" r="2.3"/><circle cx="298.1" cy="516.0" r="2.3"/><circle cx="230.1" cy="517.5" r="2.3"/><circle cx="247.3" cy="518.6" r="2.3"/><circle cx="255.9" cy="516.0" r="2.3"/><circle cx="205.9" cy="519.6" r="2.3"/><circle cx="215.1" cy="519.6" r="2.3"/><circle cx="235.9" cy="525.0" r="2.3"/><circle cx="239.1" cy="525.6" r="2.3"/><circle cx="287.6" cy="524.4" r="2.3"/><circle cx="284.4" cy="528.9" r="2.3"/><circle cx="242.6" cy="530.8" r="2.3"/><circle cx="129.4" cy="544.0" r="2.3"/><circle cx="132.0" cy="548.3" r="2.3"/><circle cx="132.6" cy="551.1" r="2.3"/><circle cx="140.1" cy="549.4" r="2.3"/><circle cx="89.8" cy="555.4" r="2.3"/><circle cx="113.4" cy="554.7" r="2.3"/><circle cx="136.5" cy="558.1" r="2.3"/><circle cx="91.9" cy="566.1" r="2.3"/><circle cx="135.9" cy="566.1" r="2.3"/><circle cx="75.4" cy="570.4" r="2.3"/><circle cx="87.2" cy="568.9" r="2.3"/><circle cx="96.9" cy="569.9" r="2.3"/><circle cx="127.7" cy="568.9" r="2.3"/><circle cx="140.1" cy="569.3" r="2.3"/><circle cx="83.4" cy="575.7" r="2.3"/><circle cx="88.7" cy="577.4" r="2.3"/><circle cx="134.8" cy="573.6" r="2.3"/><circle cx="133.1" cy="574.6" r="2.3"/><circle cx="65.6" cy="578.5" r="2.3"/><circle cx="71.1" cy="578.9" r="2.3"/><circle cx="89.4" cy="578.5" r="2.3"/><circle cx="116.6" cy="577.9" r="2.3"/><circle cx="116.6" cy="580.0" r="2.3"/><circle cx="136.9" cy="578.9" r="2.3"/><circle cx="70.1" cy="581.1" r="2.3"/><circle cx="72.2" cy="581.7" r="2.3"/><circle cx="76.9" cy="581.1" r="2.3"/><circle cx="80.6" cy="580.6" r="2.3"/><circle cx="120.2" cy="580.6" r="2.3"/><circle cx="123.0" cy="581.7" r="2.3"/><circle cx="138.6" cy="581.1" r="2.3"/><circle cx="140.1" cy="581.7" r="2.3"/><circle cx="71.1" cy="585.8" r="2.3"/><circle cx="82.3" cy="585.4" r="2.3"/><circle cx="87.6" cy="586.4" r="2.3"/><circle cx="123.6" cy="584.3" r="2.3"/><circle cx="124.7" cy="586.4" r="2.3"/><circle cx="75.4" cy="590.3" r="2.3"/><circle cx="82.3" cy="590.7" r="2.3"/><circle cx="83.8" cy="592.4" r="2.3"/><circle cx="94.1" cy="591.1" r="2.3"/><circle cx="96.2" cy="592.9" r="2.3"/><circle cx="101.6" cy="591.8" r="2.3"/><circle cx="106.9" cy="588.1" r="2.3"/><circle cx="110.8" cy="592.4" r="2.3"/><circle cx="130.1" cy="587.5" r="2.3"/><circle cx="125.6" cy="591.8" r="2.3"/><circle cx="90.2" cy="593.9" r="2.3"/><circle cx="75.4" cy="597.1" r="2.3"/><circle cx="67.3" cy="597.8" r="2.3"/><circle cx="85.9" cy="597.8" r="2.3"/><circle cx="94.1" cy="597.1" r="2.3"/><circle cx="98.8" cy="601.0" r="2.3"/><circle cx="103.1" cy="597.1" r="2.3"/><circle cx="107.6" cy="596.1" r="2.3"/><circle cx="130.5" cy="597.8" r="2.3"/><circle cx="114.4" cy="601.4" r="2.3"/><circle cx="82.3" cy="602.5" r="2.3"/><circle cx="86.6" cy="605.7" r="2.3"/><circle cx="97.9" cy="608.9" r="2.3"/><circle cx="95.8" cy="611.1" r="2.3"/><circle cx="86.6" cy="613.2" r="2.3"/><circle cx="90.9" cy="615.4" r="2.3"/><circle cx="82.7" cy="618.6" r="2.3"/><circle cx="70.1" cy="620.1" r="2.3"/><circle cx="126.2" cy="609.4" r="2.3"/><circle cx="132.6" cy="613.6" r="2.3"/><circle cx="180.2" cy="538.9" r="2.3"/><circle cx="158.4" cy="546.8" r="2.3"/><circle cx="170.8" cy="548.9" r="2.3"/><circle cx="173.8" cy="548.9" r="2.3"/><circle cx="147.6" cy="551.7" r="2.3"/><circle cx="171.9" cy="553.2" r="2.3"/><circle cx="155.8" cy="559.0" r="2.3"/><circle cx="164.8" cy="559.6" r="2.3"/><circle cx="193.7" cy="548.3" r="2.3"/><circle cx="196.9" cy="561.8" r="2.3"/><circle cx="146.1" cy="566.7" r="2.3"/><circle cx="152.4" cy="568.2" r="2.3"/><circle cx="160.9" cy="568.6" r="2.3"/><circle cx="145.5" cy="570.4" r="2.3"/><circle cx="147.0" cy="572.5" r="2.3"/><circle cx="154.5" cy="575.7" r="2.3"/><circle cx="149.4" cy="601.9" r="2.3"/><circle cx="205.9" cy="538.2" r="2.3"/><circle cx="260.8" cy="538.2" r="2.3"/><circle cx="244.7" cy="539.3" r="2.3"/><circle cx="214.5" cy="540.8" r="2.3"/><circle cx="233.8" cy="545.1" r="2.3"/><circle cx="317.4" cy="548.9" r="2.3"/><circle cx="209.8" cy="561.1" r="2.3"/><circle cx="198.0" cy="565.6" r="2.3"/><circle cx="202.9" cy="576.4" r="2.3"/><circle cx="204.9" cy="580.6" r="2.3"/></g>
</g>
<path d="M143.1 636.3V435.4" stroke="#000" stroke-width="1.7" stroke-dasharray="6.18 2.67" fill="none"/>
<path d="M220.6 636.3V435.4" stroke="#000" stroke-width="1.7" stroke-dasharray="6.18 2.67" fill="none"/>
<path d="M109.1 559.3l6.5 6.5l-6.5 6.5l-6.5 -6.5z" fill="#ff0000" stroke="#000" stroke-width="1.6" stroke-linejoin="miter"/>
<path d="M99.7 576.0l6.5 6.5l-6.5 6.5l-6.5 -6.5z" fill="#0000ff" stroke="#000" stroke-width="1.6" stroke-linejoin="miter"/>
<path d="M104.4 568.7l6.5 6.5l-6.5 6.5l-6.5 -6.5z" fill="#ffa500" stroke="#000" stroke-width="1.6" stroke-linejoin="miter"/>
<path d="M186.6 536.6l6.5 6.5l-6.5 6.5l-6.5 -6.5z" fill="#ff0000" stroke="#000" stroke-width="1.6" stroke-linejoin="miter"/>
<path d="M177.2 552.5l6.5 6.5l-6.5 6.5l-6.5 -6.5z" fill="#0000ff" stroke="#000" stroke-width="1.6" stroke-linejoin="miter"/>
<path d="M181.9 543.7l6.5 6.5l-6.5 6.5l-6.5 -6.5z" fill="#ffa500" stroke="#000" stroke-width="1.6" stroke-linejoin="miter"/>
<path d="M271.7 512.2l6.5 6.5l-6.5 6.5l-6.5 -6.5z" fill="#ff0000" stroke="#000" stroke-width="1.6" stroke-linejoin="miter"/>
<path d="M262.3 511.6l6.5 6.5l-6.5 6.5l-6.5 -6.5z" fill="#0000ff" stroke="#000" stroke-width="1.6" stroke-linejoin="miter"/>
<path d="M267.0 511.9l6.5 6.5l-6.5 6.5l-6.5 -6.5z" fill="#ffa500" stroke="#000" stroke-width="1.6" stroke-linejoin="miter"/>
<path d="M65.6 636.3v-4.2M65.6 435.4v4.2M104.3 636.3v-4.2M104.3 435.4v4.2M143.1 636.3v-4.2M143.1 435.4v4.2M181.8 636.3v-4.2M181.8 435.4v4.2M220.6 636.3v-4.2M220.6 435.4v4.2M259.4 636.3v-4.2M259.4 435.4v4.2M298.1 636.3v-4.2M298.1 435.4v4.2M336.9 636.3v-4.2M336.9 435.4v4.2M50.3 624.3h4.2M344.6 624.3h-4.2M50.3 588.9h4.2M344.6 588.9h-4.2M50.3 553.5h4.2M344.6 553.5h-4.2M50.3 518.1h4.2M344.6 518.1h-4.2M50.3 482.6h4.2M344.6 482.6h-4.2M50.3 447.2h4.2M344.6 447.2h-4.2" stroke="#000" stroke-width="1.8" fill="none"/>
<rect x="50.3" y="435.4" width="294.3" height="200.9" fill="none" stroke="#000" stroke-width="1.4"/>
<text x="46.5" y="627.9" font-size="10.5" text-anchor="end">0.5</text>
<text x="46.5" y="592.5" font-size="10.5" text-anchor="end">0.8</text>
<text x="46.5" y="557.1" font-size="10.5" text-anchor="end">1.1</text>
<text x="46.5" y="521.6" font-size="10.5" text-anchor="end">1.4</text>
<text x="46.5" y="486.2" font-size="10.5" text-anchor="end">1.7</text>
<text x="46.5" y="450.8" font-size="10.5" text-anchor="end">2.0</text>
<text x="100.4" y="450.4" font-size="14.8" font-weight="bold" text-anchor="middle">7.9<tspan font-style="italic" font-weight="normal" font-size="19.5">σ</tspan></text>
<text x="185.6" y="450.4" font-size="14.8" font-weight="bold" text-anchor="middle">2.6<tspan font-style="italic" font-weight="normal" font-size="19.5">σ</tspan></text>
<text x="292.3" y="450.4" font-size="14.8" font-weight="bold" text-anchor="middle">0.1<tspan font-style="italic" font-weight="normal" font-size="19.5">σ</tspan></text>
<clipPath id="c03"><rect x="50.3" y="636.3" width="294.3" height="200.3"/></clipPath>
<path d="M65.6 636.3V836.6M104.3 636.3V836.6M143.1 636.3V836.6M181.8 636.3V836.6M220.6 636.3V836.6M259.4 636.3V836.6M298.1 636.3V836.6M336.9 636.3V836.6M50.3 833.0H344.6M50.3 793.7H344.6M50.3 754.3H344.6M50.3 715.0H344.6M50.3 675.6H344.6" stroke="#b0b0b0" stroke-width="0.9" stroke-dasharray="0.9 1.3" fill="none"/>
<g clip-path="url(#c03)">
<g fill="#ff0000" fill-opacity="0.52"><circle cx="130.1" cy="658.5" r="2.3"/><circle cx="194.4" cy="659.6" r="2.3"/><circle cx="152.4" cy="679.9" r="2.3"/><circle cx="117.6" cy="687.9" r="2.3"/><circle cx="95.6" cy="691.1" r="2.3"/><circle cx="173.4" cy="688.9" r="2.3"/><circle cx="165.2" cy="691.1" r="2.3"/><circle cx="81.2" cy="698.8" r="2.3"/><circle cx="120.9" cy="709.3" r="2.3"/><circle cx="163.1" cy="714.9" r="2.3"/><circle cx="102.6" cy="723.2" r="2.3"/><circle cx="181.9" cy="722.8" r="2.3"/><circle cx="101.1" cy="728.8" r="2.3"/><circle cx="186.2" cy="729.9" r="2.3"/><circle cx="155.8" cy="735.0" r="2.3"/><circle cx="314.8" cy="636.6" r="2.3"/><circle cx="273.0" cy="643.9" r="2.3"/><circle cx="279.0" cy="652.7" r="2.3"/><circle cx="285.9" cy="702.0" r="2.3"/><circle cx="232.9" cy="703.5" r="2.3"/><circle cx="208.3" cy="706.3" r="2.3"/><circle cx="213.4" cy="705.9" r="2.3"/><circle cx="310.9" cy="707.4" r="2.3"/><circle cx="209.8" cy="715.9" r="2.3"/><circle cx="267.6" cy="719.6" r="2.3"/><circle cx="296.6" cy="725.6" r="2.3"/><circle cx="341.1" cy="729.6" r="2.3"/><circle cx="302.4" cy="734.6" r="2.3"/><circle cx="76.9" cy="739.9" r="2.3"/><circle cx="116.6" cy="740.3" r="2.3"/><circle cx="78.0" cy="743.9" r="2.3"/><circle cx="111.2" cy="743.5" r="2.3"/><circle cx="109.5" cy="745.2" r="2.3"/><circle cx="112.9" cy="748.2" r="2.3"/><circle cx="127.7" cy="746.7" r="2.3"/><circle cx="126.2" cy="752.7" r="2.3"/><circle cx="128.4" cy="752.7" r="2.3"/><circle cx="68.4" cy="755.3" r="2.3"/><circle cx="84.4" cy="758.5" r="2.3"/><circle cx="117.0" cy="759.1" r="2.3"/><circle cx="127.3" cy="762.1" r="2.3"/><circle cx="91.9" cy="763.4" r="2.3"/><circle cx="140.6" cy="764.9" r="2.3"/><circle cx="126.9" cy="766.0" r="2.3"/><circle cx="76.9" cy="769.2" r="2.3"/><circle cx="68.4" cy="772.0" r="2.3"/><circle cx="86.1" cy="772.9" r="2.3"/><circle cx="103.3" cy="776.7" r="2.3"/><circle cx="115.5" cy="777.1" r="2.3"/><circle cx="141.2" cy="776.3" r="2.3"/><circle cx="74.8" cy="778.4" r="2.3"/><circle cx="75.4" cy="781.0" r="2.3"/><circle cx="88.7" cy="781.6" r="2.3"/><circle cx="85.5" cy="782.1" r="2.3"/><circle cx="114.4" cy="782.7" r="2.3"/><circle cx="121.9" cy="783.1" r="2.3"/><circle cx="130.1" cy="784.2" r="2.3"/><circle cx="138.0" cy="786.4" r="2.3"/><circle cx="74.8" cy="784.9" r="2.3"/><circle cx="121.9" cy="787.0" r="2.3"/><circle cx="134.8" cy="788.9" r="2.3"/><circle cx="67.3" cy="788.5" r="2.3"/><circle cx="70.5" cy="789.1" r="2.3"/><circle cx="94.1" cy="788.5" r="2.3"/><circle cx="82.3" cy="793.9" r="2.3"/><circle cx="135.9" cy="789.6" r="2.3"/><circle cx="140.6" cy="791.3" r="2.3"/><circle cx="87.0" cy="796.0" r="2.3"/><circle cx="95.6" cy="796.6" r="2.3"/><circle cx="98.8" cy="797.5" r="2.3"/><circle cx="106.9" cy="797.5" r="2.3"/><circle cx="109.1" cy="798.6" r="2.3"/><circle cx="121.9" cy="796.6" r="2.3"/><circle cx="123.0" cy="798.8" r="2.3"/><circle cx="73.3" cy="798.1" r="2.3"/><circle cx="74.8" cy="799.2" r="2.3"/><circle cx="85.9" cy="799.2" r="2.3"/><circle cx="111.6" cy="800.9" r="2.3"/><circle cx="117.0" cy="800.3" r="2.3"/><circle cx="86.6" cy="802.4" r="2.3"/><circle cx="76.9" cy="803.1" r="2.3"/><circle cx="65.8" cy="805.2" r="2.3"/><circle cx="105.9" cy="804.1" r="2.3"/><circle cx="111.2" cy="805.0" r="2.3"/><circle cx="127.3" cy="806.7" r="2.3"/><circle cx="109.7" cy="808.2" r="2.3"/><circle cx="78.0" cy="813.1" r="2.3"/><circle cx="98.8" cy="820.0" r="2.3"/><circle cx="141.6" cy="815.3" r="2.3"/><circle cx="155.8" cy="736.0" r="2.3"/><circle cx="189.4" cy="741.4" r="2.3"/><circle cx="197.4" cy="743.9" r="2.3"/><circle cx="150.9" cy="749.5" r="2.3"/><circle cx="186.2" cy="750.6" r="2.3"/><circle cx="151.9" cy="758.5" r="2.3"/><circle cx="148.7" cy="763.4" r="2.3"/><circle cx="183.0" cy="763.9" r="2.3"/><circle cx="190.5" cy="768.1" r="2.3"/><circle cx="155.8" cy="772.9" r="2.3"/><circle cx="151.5" cy="776.1" r="2.3"/><circle cx="172.3" cy="775.2" r="2.3"/><circle cx="174.4" cy="775.6" r="2.3"/><circle cx="147.6" cy="782.7" r="2.3"/><circle cx="158.4" cy="781.0" r="2.3"/><circle cx="195.9" cy="782.1" r="2.3"/><circle cx="147.0" cy="787.9" r="2.3"/><circle cx="150.9" cy="788.5" r="2.3"/><circle cx="157.3" cy="788.5" r="2.3"/><circle cx="155.1" cy="791.3" r="2.3"/><circle cx="162.6" cy="792.1" r="2.3"/><circle cx="166.9" cy="792.8" r="2.3"/><circle cx="170.8" cy="792.4" r="2.3"/><circle cx="197.4" cy="789.6" r="2.3"/><circle cx="153.6" cy="796.6" r="2.3"/><circle cx="156.9" cy="797.1" r="2.3"/><circle cx="161.6" cy="798.1" r="2.3"/><circle cx="197.4" cy="796.0" r="2.3"/><circle cx="155.1" cy="800.9" r="2.3"/><circle cx="177.2" cy="800.3" r="2.3"/><circle cx="173.4" cy="807.8" r="2.3"/><circle cx="197.4" cy="808.2" r="2.3"/><circle cx="165.2" cy="815.3" r="2.3"/><circle cx="302.4" cy="736.0" r="2.3"/><circle cx="199.1" cy="743.9" r="2.3"/><circle cx="204.0" cy="744.6" r="2.3"/><circle cx="210.9" cy="748.9" r="2.3"/><circle cx="244.7" cy="747.8" r="2.3"/><circle cx="204.9" cy="752.5" r="2.3"/><circle cx="211.9" cy="754.2" r="2.3"/><circle cx="222.0" cy="753.8" r="2.3"/><circle cx="218.4" cy="755.9" r="2.3"/><circle cx="324.0" cy="750.6" r="2.3"/><circle cx="266.1" cy="751.4" r="2.3"/><circle cx="251.1" cy="757.4" r="2.3"/><circle cx="222.6" cy="760.0" r="2.3"/><circle cx="229.1" cy="763.4" r="2.3"/><circle cx="254.8" cy="763.2" r="2.3"/><circle cx="251.6" cy="764.3" r="2.3"/><circle cx="214.1" cy="766.6" r="2.3"/><circle cx="230.1" cy="768.6" r="2.3"/><circle cx="325.9" cy="769.2" r="2.3"/><circle cx="207.6" cy="773.5" r="2.3"/><circle cx="226.3" cy="773.1" r="2.3"/><circle cx="218.4" cy="775.0" r="2.3"/><circle cx="238.7" cy="775.2" r="2.3"/><circle cx="231.9" cy="777.4" r="2.3"/><circle cx="200.1" cy="778.4" r="2.3"/><circle cx="198.0" cy="779.3" r="2.3"/><circle cx="284.8" cy="779.3" r="2.3"/><circle cx="229.7" cy="788.1" r="2.3"/><circle cx="234.9" cy="789.6" r="2.3"/><circle cx="201.9" cy="792.1" r="2.3"/><circle cx="259.5" cy="797.5" r="2.3"/><circle cx="213.6" cy="797.7" r="2.3"/><circle cx="199.1" cy="798.8" r="2.3"/><circle cx="215.6" cy="802.0" r="2.3"/><circle cx="228.0" cy="802.9" r="2.3"/></g>
<g fill="#0000ff" fill-opacity="0.52"><circle cx="99.0" cy="641.4" r="2.3"/><circle cx="148.7" cy="657.4" r="2.3"/><circle cx="162.0" cy="705.2" r="2.3"/><circle cx="71.6" cy="713.6" r="2.3"/><circle cx="113.4" cy="722.8" r="2.3"/><circle cx="139.7" cy="727.5" r="2.3"/><circle cx="67.3" cy="733.9" r="2.3"/><circle cx="91.5" cy="736.1" r="2.3"/><circle cx="171.9" cy="736.1" r="2.3"/><circle cx="230.1" cy="688.5" r="2.3"/><circle cx="247.3" cy="707.8" r="2.3"/><circle cx="256.9" cy="718.9" r="2.3"/><circle cx="317.4" cy="722.8" r="2.3"/><circle cx="242.6" cy="731.4" r="2.3"/><circle cx="91.9" cy="737.1" r="2.3"/><circle cx="142.3" cy="745.0" r="2.3"/><circle cx="98.8" cy="755.9" r="2.3"/><circle cx="76.5" cy="759.6" r="2.3"/><circle cx="138.4" cy="758.5" r="2.3"/><circle cx="134.4" cy="759.6" r="2.3"/><circle cx="112.9" cy="763.4" r="2.3"/><circle cx="90.4" cy="768.1" r="2.3"/><circle cx="105.9" cy="770.7" r="2.3"/><circle cx="132.6" cy="769.2" r="2.3"/><circle cx="136.5" cy="769.6" r="2.3"/><circle cx="130.1" cy="770.9" r="2.3"/><circle cx="70.1" cy="773.5" r="2.3"/><circle cx="81.9" cy="772.9" r="2.3"/><circle cx="93.6" cy="773.5" r="2.3"/><circle cx="125.1" cy="773.5" r="2.3"/><circle cx="71.1" cy="776.1" r="2.3"/><circle cx="80.8" cy="775.6" r="2.3"/><circle cx="86.6" cy="776.7" r="2.3"/><circle cx="96.2" cy="775.6" r="2.3"/><circle cx="124.7" cy="776.7" r="2.3"/><circle cx="129.0" cy="774.6" r="2.3"/><circle cx="65.1" cy="779.9" r="2.3"/><circle cx="89.8" cy="779.3" r="2.3"/><circle cx="98.8" cy="778.4" r="2.3"/><circle cx="119.8" cy="779.9" r="2.3"/><circle cx="131.1" cy="775.2" r="2.3"/><circle cx="83.4" cy="781.0" r="2.3"/><circle cx="106.5" cy="779.9" r="2.3"/><circle cx="70.5" cy="784.9" r="2.3"/><circle cx="83.4" cy="786.4" r="2.3"/><circle cx="133.7" cy="788.1" r="2.3"/><circle cx="85.5" cy="788.9" r="2.3"/><circle cx="88.7" cy="789.6" r="2.3"/><circle cx="73.3" cy="792.1" r="2.3"/><circle cx="88.7" cy="792.8" r="2.3"/><circle cx="83.4" cy="794.3" r="2.3"/><circle cx="114.4" cy="792.8" r="2.3"/><circle cx="126.2" cy="791.3" r="2.3"/><circle cx="131.1" cy="794.9" r="2.3"/><circle cx="101.1" cy="796.0" r="2.3"/><circle cx="116.1" cy="798.1" r="2.3"/><circle cx="130.1" cy="796.6" r="2.3"/><circle cx="72.6" cy="800.3" r="2.3"/><circle cx="89.4" cy="798.8" r="2.3"/><circle cx="94.7" cy="799.2" r="2.3"/><circle cx="102.6" cy="800.9" r="2.3"/><circle cx="125.1" cy="800.3" r="2.3"/><circle cx="140.1" cy="799.6" r="2.3"/><circle cx="96.9" cy="803.1" r="2.3"/><circle cx="90.9" cy="803.5" r="2.3"/><circle cx="76.9" cy="804.6" r="2.3"/><circle cx="82.3" cy="805.6" r="2.3"/><circle cx="87.6" cy="807.8" r="2.3"/><circle cx="112.3" cy="806.1" r="2.3"/><circle cx="132.6" cy="804.6" r="2.3"/><circle cx="140.1" cy="804.6" r="2.3"/><circle cx="75.2" cy="808.2" r="2.3"/><circle cx="93.6" cy="809.5" r="2.3"/><circle cx="101.6" cy="808.2" r="2.3"/><circle cx="99.0" cy="810.6" r="2.3"/><circle cx="124.1" cy="809.9" r="2.3"/><circle cx="69.9" cy="811.6" r="2.3"/><circle cx="172.3" cy="737.7" r="2.3"/><circle cx="180.2" cy="756.8" r="2.3"/><circle cx="146.1" cy="767.1" r="2.3"/><circle cx="149.4" cy="769.2" r="2.3"/><circle cx="158.4" cy="773.5" r="2.3"/><circle cx="160.9" cy="784.9" r="2.3"/><circle cx="159.4" cy="789.6" r="2.3"/><circle cx="146.6" cy="793.9" r="2.3"/><circle cx="145.5" cy="796.6" r="2.3"/><circle cx="147.6" cy="796.6" r="2.3"/><circle cx="166.5" cy="796.0" r="2.3"/><circle cx="160.1" cy="800.9" r="2.3"/><circle cx="176.6" cy="805.6" r="2.3"/><circle cx="169.5" cy="807.8" r="2.3"/><circle cx="155.8" cy="808.9" r="2.3"/><circle cx="173.8" cy="811.6" r="2.3"/><circle cx="190.9" cy="809.9" r="2.3"/><circle cx="152.4" cy="815.7" r="2.3"/><circle cx="244.7" cy="738.1" r="2.3"/><circle cx="239.1" cy="748.9" r="2.3"/><circle cx="233.8" cy="751.6" r="2.3"/><circle cx="287.6" cy="753.6" r="2.3"/><circle cx="209.8" cy="757.4" r="2.3"/><circle cx="205.9" cy="758.5" r="2.3"/><circle cx="282.6" cy="763.2" r="2.3"/><circle cx="298.1" cy="770.3" r="2.3"/><circle cx="202.9" cy="771.8" r="2.3"/><circle cx="204.9" cy="777.8" r="2.3"/><circle cx="294.0" cy="777.8" r="2.3"/><circle cx="224.8" cy="782.5" r="2.3"/><circle cx="214.5" cy="786.4" r="2.3"/><circle cx="205.9" cy="797.5" r="2.3"/></g>
</g>
<path d="M143.1 836.6V636.3" stroke="#000" stroke-width="1.7" stroke-dasharray="6.18 2.67" fill="none"/>
<path d="M220.6 836.6V636.3" stroke="#000" stroke-width="1.7" stroke-dasharray="6.18 2.67" fill="none"/>
<path d="M109.1 781.5l6.5 6.5l-6.5 6.5l-6.5 -6.5z" fill="#ff0000" stroke="#000" stroke-width="1.6" stroke-linejoin="miter"/>
<path d="M99.7 781.5l6.5 6.5l-6.5 6.5l-6.5 -6.5z" fill="#0000ff" stroke="#000" stroke-width="1.6" stroke-linejoin="miter"/>
<path d="M104.4 781.5l6.5 6.5l-6.5 6.5l-6.5 -6.5z" fill="#ffa500" stroke="#000" stroke-width="1.6" stroke-linejoin="miter"/>
<path d="M186.6 772.1l6.5 6.5l-6.5 6.5l-6.5 -6.5z" fill="#ff0000" stroke="#000" stroke-width="1.6" stroke-linejoin="miter"/>
<path d="M177.2 787.1l6.5 6.5l-6.5 6.5l-6.5 -6.5z" fill="#0000ff" stroke="#000" stroke-width="1.6" stroke-linejoin="miter"/>
<path d="M181.9 773.2l6.5 6.5l-6.5 6.5l-6.5 -6.5z" fill="#ffa500" stroke="#000" stroke-width="1.6" stroke-linejoin="miter"/>
<path d="M264.2 750.0l6.5 6.5l-6.5 6.5l-6.5 -6.5z" fill="#ff0000" stroke="#000" stroke-width="1.6" stroke-linejoin="miter"/>
<path d="M254.8 722.1V747.3" stroke="#000" stroke-width="2"/>
<path d="M254.8 728.2l6.5 6.5l-6.5 6.5l-6.5 -6.5z" fill="#0000ff" stroke="#000" stroke-width="1.6" stroke-linejoin="miter"/>
<path d="M259.5 745.7l6.5 6.5l-6.5 6.5l-6.5 -6.5z" fill="#ffa500" stroke="#000" stroke-width="1.6" stroke-linejoin="miter"/>
<path d="M65.6 836.6v-4.2M65.6 636.3v4.2M104.3 836.6v-4.2M104.3 636.3v4.2M143.1 836.6v-4.2M143.1 636.3v4.2M181.8 836.6v-4.2M181.8 636.3v4.2M220.6 836.6v-4.2M220.6 636.3v4.2M259.4 836.6v-4.2M259.4 636.3v4.2M298.1 836.6v-4.2M298.1 636.3v4.2M336.9 836.6v-4.2M336.9 636.3v4.2M50.3 833.0h4.2M344.6 833.0h-4.2M50.3 793.7h4.2M344.6 793.7h-4.2M50.3 754.3h4.2M344.6 754.3h-4.2M50.3 715.0h4.2M344.6 715.0h-4.2M50.3 675.6h4.2M344.6 675.6h-4.2" stroke="#000" stroke-width="1.8" fill="none"/>
<rect x="50.3" y="636.3" width="294.3" height="200.3" fill="none" stroke="#000" stroke-width="1.4"/>
<text x="46.5" y="836.6" font-size="10.5" text-anchor="end">0</text>
<text x="46.5" y="797.2" font-size="10.5" text-anchor="end">1</text>
<text x="46.5" y="757.9" font-size="10.5" text-anchor="end">2</text>
<text x="46.5" y="718.5" font-size="10.5" text-anchor="end">3</text>
<text x="46.5" y="679.2" font-size="10.5" text-anchor="end">4</text>
<text x="103.5" y="651.3" font-size="14.8" font-weight="bold" text-anchor="middle">0.1<tspan font-style="italic" font-weight="normal" font-size="19.5">σ</tspan></text>
<text x="185.6" y="651.3" font-size="14.8" font-weight="bold" text-anchor="middle">2.2<tspan font-style="italic" font-weight="normal" font-size="19.5">σ</tspan></text>
<text x="292.3" y="651.3" font-size="14.8" font-weight="bold" text-anchor="middle">1.6<tspan font-style="italic" font-weight="normal" font-size="19.5">σ</tspan></text>
<text x="65.6" y="848.2" font-size="10.5" text-anchor="middle">9.50</text>
<text x="104.3" y="848.2" font-size="10.5" text-anchor="middle">9.75</text>
<text x="143.1" y="848.2" font-size="10.5" text-anchor="middle">10.00</text>
<text x="181.8" y="848.2" font-size="10.5" text-anchor="middle">10.25</text>
<text x="220.6" y="848.2" font-size="10.5" text-anchor="middle">10.50</text>
<text x="259.4" y="848.2" font-size="10.5" text-anchor="middle">10.75</text>
<text x="298.1" y="848.2" font-size="10.5" text-anchor="middle">11.00</text>
<text x="336.9" y="848.2" font-size="10.5" text-anchor="middle">11.25</text>
<text x="94.0" y="867.5" font-size="19" textLength="206.7" lengthAdjust="spacing">Log Stellar Mass [M*/M<tspan font-size="13.5" dy="3.2" dx="0.8">⊙</tspan><tspan dy="-3.2" dx="0.6">]</tspan></text>
<text transform="translate(21.9 185.7) rotate(-90)" font-size="18.6" textLength="102.0" lengthAdjust="spacing">Log R<tspan font-size="15.5" font-style="italic" dy="3.7">e</tspan><tspan dy="-3.7"> [kpc]</tspan></text>
<text transform="translate(23.9 410.9) rotate(-90)" font-size="18.6" textLength="150.4" lengthAdjust="spacing">Log SFR [M<tspan font-size="13.5" dy="3.2" dx="0.6">⊙</tspan><tspan dy="-3.2" dx="0.6">yr</tspan><tspan font-size="15.5" dy="-6.6">−1</tspan><tspan dy="6.6">]</tspan></text>
<text transform="translate(25.3 556.5) rotate(-90)" font-size="18.6" textLength="41.6" lengthAdjust="spacing">U - V</text>
<text transform="translate(32.9 783.3) rotate(-90)" font-size="18.6" textLength="92.6" lengthAdjust="spacing">Sérsic Index</text>
<clipPath id="c10"><rect x="399.9" y="32.6" width="294.3" height="200.9"/></clipPath>
<path d="M415.3 32.6V233.6M454.1 32.6V233.6M492.8 32.6V233.6M531.5 32.6V233.6M570.3 32.6V233.6M609.0 32.6V233.6M647.8 32.6V233.6M686.5 32.6V233.6M399.9 223.4H694.2M399.9 180.9H694.2M399.9 138.6H694.2M399.9 96.2H694.2M399.9 53.8H694.2" stroke="#b0b0b0" stroke-width="0.9" stroke-dasharray="0.9 1.3" fill="none"/>
<g clip-path="url(#c10)">
<g fill="#ff0000" fill-opacity="0.52"><circle cx="467.2" cy="33.4" r="2.3"/><circle cx="461.6" cy="46.3" r="2.3"/><circle cx="538.8" cy="55.5" r="2.3"/><circle cx="476.2" cy="81.9" r="2.3"/><circle cx="476.9" cy="84.0" r="2.3"/><circle cx="505.6" cy="84.0" r="2.3"/><circle cx="509.4" cy="86.1" r="2.3"/><circle cx="503.0" cy="87.6" r="2.3"/><circle cx="517.6" cy="87.6" r="2.3"/><circle cx="522.3" cy="86.1" r="2.3"/><circle cx="462.3" cy="87.6" r="2.3"/><circle cx="465.5" cy="91.5" r="2.3"/><circle cx="490.6" cy="89.1" r="2.3"/><circle cx="533.0" cy="89.1" r="2.3"/><circle cx="531.3" cy="92.4" r="2.3"/><circle cx="541.6" cy="91.5" r="2.3"/><circle cx="547.4" cy="89.1" r="2.3"/><circle cx="477.3" cy="95.6" r="2.3"/><circle cx="482.6" cy="94.1" r="2.3"/><circle cx="483.1" cy="99.9" r="2.3"/><circle cx="490.1" cy="100.5" r="2.3"/><circle cx="522.3" cy="100.1" r="2.3"/><circle cx="465.1" cy="102.0" r="2.3"/><circle cx="443.6" cy="98.8" r="2.3"/><circle cx="503.6" cy="101.6" r="2.3"/><circle cx="506.2" cy="102.6" r="2.3"/><circle cx="507.7" cy="103.7" r="2.3"/><circle cx="531.5" cy="102.0" r="2.3"/><circle cx="534.7" cy="101.6" r="2.3"/><circle cx="443.0" cy="103.7" r="2.3"/><circle cx="440.4" cy="105.9" r="2.3"/><circle cx="457.4" cy="106.3" r="2.3"/><circle cx="510.9" cy="108.4" r="2.3"/><circle cx="462.9" cy="111.9" r="2.3"/><circle cx="456.9" cy="112.3" r="2.3"/><circle cx="477.3" cy="111.2" r="2.3"/><circle cx="506.6" cy="111.6" r="2.3"/><circle cx="545.9" cy="112.3" r="2.3"/><circle cx="452.2" cy="115.9" r="2.3"/><circle cx="446.9" cy="116.6" r="2.3"/><circle cx="451.6" cy="119.8" r="2.3"/><circle cx="466.6" cy="119.1" r="2.3"/><circle cx="474.5" cy="120.2" r="2.3"/><circle cx="513.1" cy="118.3" r="2.3"/><circle cx="526.6" cy="116.1" r="2.3"/><circle cx="536.2" cy="116.1" r="2.3"/><circle cx="540.1" cy="115.1" r="2.3"/><circle cx="424.8" cy="123.0" r="2.3"/><circle cx="433.4" cy="122.6" r="2.3"/><circle cx="435.5" cy="124.7" r="2.3"/><circle cx="437.6" cy="126.2" r="2.3"/><circle cx="444.7" cy="123.0" r="2.3"/><circle cx="453.7" cy="125.6" r="2.3"/><circle cx="458.6" cy="121.9" r="2.3"/><circle cx="470.9" cy="124.5" r="2.3"/><circle cx="491.2" cy="120.9" r="2.3"/><circle cx="491.6" cy="124.5" r="2.3"/><circle cx="514.8" cy="124.1" r="2.3"/><circle cx="544.4" cy="121.3" r="2.3"/><circle cx="475.1" cy="127.3" r="2.3"/><circle cx="420.5" cy="132.0" r="2.3"/><circle cx="428.0" cy="132.6" r="2.3"/><circle cx="541.1" cy="125.6" r="2.3"/><circle cx="547.4" cy="126.6" r="2.3"/><circle cx="535.1" cy="131.6" r="2.3"/><circle cx="572.6" cy="35.1" r="2.3"/><circle cx="633.7" cy="53.8" r="2.3"/><circle cx="643.8" cy="57.6" r="2.3"/><circle cx="660.5" cy="54.9" r="2.3"/><circle cx="690.9" cy="66.6" r="2.3"/><circle cx="559.4" cy="71.6" r="2.3"/><circle cx="604.1" cy="74.4" r="2.3"/><circle cx="635.4" cy="74.8" r="2.3"/><circle cx="659.4" cy="76.5" r="2.3"/><circle cx="675.5" cy="79.1" r="2.3"/><circle cx="579.1" cy="77.4" r="2.3"/><circle cx="572.2" cy="76.9" r="2.3"/><circle cx="550.1" cy="82.9" r="2.3"/><circle cx="567.9" cy="83.8" r="2.3"/><circle cx="604.8" cy="89.8" r="2.3"/><circle cx="605.4" cy="90.2" r="2.3"/><circle cx="628.8" cy="90.4" r="2.3"/><circle cx="634.8" cy="95.1" r="2.3"/><circle cx="555.9" cy="93.0" r="2.3"/><circle cx="578.6" cy="94.1" r="2.3"/><circle cx="615.1" cy="96.2" r="2.3"/><circle cx="592.4" cy="99.0" r="2.3"/><circle cx="594.7" cy="103.3" r="2.3"/><circle cx="600.9" cy="104.4" r="2.3"/><circle cx="646.1" cy="102.6" r="2.3"/><circle cx="557.2" cy="106.5" r="2.3"/><circle cx="584.4" cy="106.5" r="2.3"/><circle cx="678.3" cy="107.6" r="2.3"/><circle cx="581.6" cy="111.9" r="2.3"/><circle cx="575.9" cy="114.0" r="2.3"/><circle cx="548.0" cy="112.7" r="2.3"/><circle cx="646.6" cy="111.9" r="2.3"/><circle cx="664.8" cy="113.4" r="2.3"/><circle cx="623.0" cy="115.5" r="2.3"/><circle cx="563.6" cy="119.4" r="2.3"/><circle cx="567.9" cy="118.7" r="2.3"/><circle cx="656.2" cy="118.1" r="2.3"/><circle cx="670.1" cy="122.6" r="2.3"/><circle cx="552.7" cy="124.7" r="2.3"/><circle cx="568.4" cy="124.5" r="2.3"/><circle cx="604.1" cy="124.1" r="2.3"/><circle cx="548.6" cy="126.6" r="2.3"/><circle cx="589.8" cy="127.3" r="2.3"/><circle cx="635.9" cy="126.6" r="2.3"/><circle cx="601.1" cy="128.8" r="2.3"/><circle cx="557.6" cy="130.1" r="2.3"/><circle cx="554.4" cy="131.1" r="2.3"/><circle cx="427.6" cy="134.1" r="2.3"/><circle cx="434.0" cy="133.0" r="2.3"/><circle cx="425.9" cy="137.7" r="2.3"/><circle cx="450.1" cy="135.8" r="2.3"/><circle cx="455.4" cy="136.2" r="2.3"/><circle cx="458.0" cy="136.6" r="2.3"/><circle cx="487.6" cy="135.1" r="2.3"/><circle cx="417.9" cy="142.0" r="2.3"/><circle cx="427.4" cy="144.1" r="2.3"/><circle cx="484.4" cy="140.1" r="2.3"/><circle cx="462.7" cy="144.1" r="2.3"/><circle cx="456.9" cy="142.0" r="2.3"/><circle cx="451.6" cy="143.7" r="2.3"/><circle cx="491.2" cy="144.4" r="2.3"/><circle cx="478.8" cy="147.4" r="2.3"/><circle cx="436.1" cy="146.9" r="2.3"/><circle cx="438.7" cy="148.0" r="2.3"/><circle cx="421.6" cy="149.1" r="2.3"/><circle cx="426.5" cy="149.7" r="2.3"/><circle cx="429.1" cy="147.6" r="2.3"/><circle cx="416.6" cy="150.6" r="2.3"/><circle cx="415.1" cy="152.9" r="2.3"/><circle cx="426.5" cy="153.8" r="2.3"/><circle cx="479.0" cy="157.0" r="2.3"/><circle cx="466.6" cy="155.5" r="2.3"/><circle cx="441.5" cy="159.8" r="2.3"/><circle cx="417.9" cy="159.4" r="2.3"/><circle cx="424.4" cy="164.1" r="2.3"/><circle cx="471.9" cy="164.5" r="2.3"/><circle cx="476.9" cy="163.6" r="2.3"/><circle cx="489.5" cy="163.6" r="2.3"/><circle cx="423.3" cy="169.0" r="2.3"/><circle cx="426.5" cy="170.1" r="2.3"/><circle cx="466.1" cy="169.4" r="2.3"/><circle cx="471.5" cy="170.1" r="2.3"/><circle cx="461.2" cy="167.3" r="2.3"/><circle cx="439.1" cy="173.7" r="2.3"/><circle cx="447.3" cy="176.5" r="2.3"/><circle cx="432.9" cy="177.4" r="2.3"/><circle cx="465.9" cy="178.0" r="2.3"/><circle cx="491.2" cy="174.4" r="2.3"/><circle cx="451.1" cy="174.8" r="2.3"/><circle cx="453.1" cy="178.0" r="2.3"/><circle cx="477.9" cy="178.0" r="2.3"/><circle cx="486.9" cy="176.9" r="2.3"/><circle cx="488.0" cy="178.0" r="2.3"/><circle cx="421.6" cy="176.9" r="2.3"/><circle cx="423.1" cy="182.7" r="2.3"/><circle cx="454.8" cy="181.6" r="2.3"/><circle cx="470.9" cy="180.8" r="2.3"/><circle cx="477.3" cy="184.0" r="2.3"/><circle cx="450.9" cy="188.7" r="2.3"/><circle cx="491.2" cy="187.0" r="2.3"/><circle cx="433.8" cy="190.2" r="2.3"/><circle cx="435.1" cy="193.0" r="2.3"/><circle cx="436.6" cy="195.8" r="2.3"/><circle cx="435.5" cy="197.9" r="2.3"/><circle cx="420.1" cy="192.4" r="2.3"/><circle cx="429.1" cy="195.8" r="2.3"/><circle cx="459.1" cy="193.6" r="2.3"/><circle cx="455.9" cy="196.6" r="2.3"/><circle cx="479.4" cy="196.2" r="2.3"/><circle cx="478.4" cy="189.8" r="2.3"/><circle cx="483.7" cy="189.4" r="2.3"/><circle cx="489.1" cy="197.3" r="2.3"/><circle cx="423.3" cy="200.1" r="2.3"/><circle cx="459.5" cy="199.9" r="2.3"/><circle cx="445.1" cy="200.9" r="2.3"/><circle cx="443.6" cy="202.6" r="2.3"/><circle cx="438.7" cy="204.1" r="2.3"/><circle cx="455.4" cy="203.7" r="2.3"/><circle cx="456.9" cy="205.2" r="2.3"/><circle cx="426.5" cy="206.9" r="2.3"/><circle cx="477.9" cy="208.0" r="2.3"/><circle cx="460.8" cy="209.5" r="2.3"/><circle cx="470.9" cy="210.6" r="2.3"/><circle cx="422.2" cy="210.6" r="2.3"/><circle cx="424.4" cy="212.9" r="2.3"/><circle cx="430.8" cy="214.4" r="2.3"/><circle cx="436.1" cy="214.4" r="2.3"/><circle cx="438.7" cy="213.8" r="2.3"/><circle cx="462.3" cy="215.9" r="2.3"/><circle cx="484.4" cy="217.2" r="2.3"/><circle cx="416.2" cy="220.2" r="2.3"/><circle cx="440.4" cy="220.4" r="2.3"/><circle cx="470.2" cy="222.6" r="2.3"/><circle cx="480.1" cy="221.3" r="2.3"/><circle cx="486.5" cy="227.3" r="2.3"/><circle cx="458.0" cy="228.4" r="2.3"/><circle cx="475.6" cy="214.0" r="2.3"/><circle cx="500.2" cy="136.9" r="2.3"/><circle cx="501.5" cy="141.6" r="2.3"/><circle cx="510.5" cy="141.6" r="2.3"/><circle cx="515.2" cy="142.2" r="2.3"/><circle cx="497.2" cy="146.3" r="2.3"/><circle cx="514.4" cy="148.0" r="2.3"/><circle cx="541.1" cy="137.3" r="2.3"/><circle cx="537.3" cy="139.4" r="2.3"/><circle cx="547.4" cy="141.1" r="2.3"/><circle cx="530.2" cy="152.7" r="2.3"/><circle cx="498.7" cy="152.7" r="2.3"/><circle cx="525.1" cy="156.1" r="2.3"/><circle cx="515.4" cy="159.1" r="2.3"/><circle cx="501.5" cy="159.8" r="2.3"/><circle cx="497.0" cy="165.1" r="2.3"/><circle cx="525.9" cy="163.0" r="2.3"/><circle cx="509.4" cy="163.0" r="2.3"/><circle cx="506.2" cy="166.9" r="2.3"/><circle cx="535.8" cy="172.2" r="2.3"/><circle cx="530.9" cy="172.6" r="2.3"/><circle cx="537.9" cy="170.5" r="2.3"/><circle cx="501.3" cy="176.3" r="2.3"/><circle cx="521.2" cy="178.0" r="2.3"/><circle cx="536.2" cy="177.4" r="2.3"/><circle cx="541.1" cy="176.9" r="2.3"/><circle cx="547.4" cy="175.4" r="2.3"/><circle cx="500.4" cy="180.8" r="2.3"/><circle cx="511.1" cy="182.9" r="2.3"/><circle cx="524.4" cy="183.8" r="2.3"/><circle cx="528.1" cy="184.0" r="2.3"/><circle cx="504.1" cy="184.9" r="2.3"/><circle cx="505.1" cy="186.6" r="2.3"/><circle cx="506.9" cy="188.3" r="2.3"/><circle cx="504.7" cy="190.2" r="2.3"/><circle cx="513.3" cy="189.1" r="2.3"/><circle cx="523.8" cy="188.7" r="2.3"/><circle cx="498.7" cy="191.3" r="2.3"/><circle cx="544.4" cy="193.0" r="2.3"/><circle cx="496.1" cy="196.9" r="2.3"/><circle cx="510.5" cy="196.6" r="2.3"/><circle cx="506.9" cy="200.1" r="2.3"/><circle cx="494.4" cy="202.6" r="2.3"/><circle cx="515.9" cy="204.8" r="2.3"/><circle cx="499.4" cy="207.6" r="2.3"/><circle cx="510.5" cy="210.1" r="2.3"/><circle cx="547.4" cy="204.8" r="2.3"/><circle cx="515.4" cy="214.0" r="2.3"/><circle cx="520.1" cy="212.3" r="2.3"/><circle cx="524.4" cy="213.8" r="2.3"/><circle cx="523.4" cy="216.6" r="2.3"/><circle cx="555.1" cy="133.0" r="2.3"/><circle cx="609.1" cy="135.1" r="2.3"/><circle cx="665.2" cy="134.7" r="2.3"/><circle cx="563.0" cy="137.7" r="2.3"/><circle cx="559.8" cy="139.4" r="2.3"/><circle cx="553.4" cy="141.6" r="2.3"/><circle cx="572.0" cy="141.6" r="2.3"/><circle cx="612.3" cy="141.6" r="2.3"/><circle cx="618.7" cy="141.6" r="2.3"/><circle cx="560.4" cy="145.4" r="2.3"/><circle cx="564.1" cy="145.2" r="2.3"/><circle cx="565.1" cy="147.6" r="2.3"/><circle cx="563.0" cy="150.1" r="2.3"/><circle cx="565.8" cy="151.9" r="2.3"/><circle cx="560.2" cy="153.4" r="2.3"/><circle cx="550.1" cy="153.8" r="2.3"/><circle cx="577.6" cy="150.1" r="2.3"/><circle cx="582.7" cy="148.6" r="2.3"/><circle cx="674.0" cy="149.1" r="2.3"/><circle cx="604.1" cy="151.2" r="2.3"/><circle cx="605.4" cy="151.6" r="2.3"/><circle cx="617.2" cy="150.6" r="2.3"/><circle cx="607.6" cy="155.5" r="2.3"/><circle cx="582.3" cy="158.3" r="2.3"/><circle cx="598.8" cy="157.6" r="2.3"/><circle cx="596.2" cy="159.8" r="2.3"/><circle cx="643.8" cy="157.2" r="2.3"/><circle cx="588.7" cy="163.0" r="2.3"/><circle cx="579.1" cy="165.1" r="2.3"/><circle cx="612.9" cy="165.1" r="2.3"/><circle cx="645.5" cy="164.1" r="2.3"/><circle cx="627.3" cy="165.6" r="2.3"/><circle cx="624.5" cy="167.7" r="2.3"/><circle cx="580.8" cy="170.1" r="2.3"/><circle cx="594.1" cy="170.1" r="2.3"/><circle cx="610.8" cy="170.1" r="2.3"/><circle cx="561.9" cy="171.6" r="2.3"/><circle cx="551.9" cy="172.6" r="2.3"/><circle cx="584.0" cy="174.4" r="2.3"/><circle cx="584.4" cy="175.4" r="2.3"/><circle cx="589.4" cy="175.9" r="2.3"/><circle cx="587.2" cy="178.6" r="2.3"/><circle cx="572.2" cy="179.7" r="2.3"/><circle cx="610.1" cy="180.6" r="2.3"/><circle cx="556.6" cy="180.6" r="2.3"/><circle cx="558.7" cy="180.6" r="2.3"/><circle cx="548.0" cy="181.2" r="2.3"/><circle cx="561.3" cy="182.9" r="2.3"/><circle cx="562.6" cy="184.0" r="2.3"/><circle cx="567.3" cy="182.3" r="2.3"/><circle cx="584.9" cy="183.4" r="2.3"/><circle cx="651.9" cy="187.6" r="2.3"/><circle cx="558.7" cy="190.9" r="2.3"/><circle cx="564.1" cy="190.4" r="2.3"/><circle cx="564.7" cy="193.6" r="2.3"/><circle cx="562.4" cy="195.8" r="2.3"/><circle cx="626.9" cy="192.4" r="2.3"/><circle cx="605.9" cy="194.7" r="2.3"/><circle cx="578.4" cy="197.3" r="2.3"/><circle cx="575.2" cy="202.2" r="2.3"/><circle cx="548.0" cy="205.2" r="2.3"/><circle cx="582.7" cy="206.9" r="2.3"/><circle cx="549.7" cy="214.0" r="2.3"/><circle cx="587.2" cy="218.3" r="2.3"/><circle cx="571.1" cy="218.1" r="2.3"/><circle cx="594.5" cy="224.7" r="2.3"/></g>
<g fill="#0000ff" fill-opacity="0.52"><circle cx="448.8" cy="62.4" r="2.3"/><circle cx="416.9" cy="70.5" r="2.3"/><circle cx="545.9" cy="70.5" r="2.3"/><circle cx="504.1" cy="75.9" r="2.3"/><circle cx="452.2" cy="84.9" r="2.3"/><circle cx="495.9" cy="83.4" r="2.3"/><circle cx="507.9" cy="82.3" r="2.3"/><circle cx="489.7" cy="95.8" r="2.3"/><circle cx="481.6" cy="96.9" r="2.3"/><circle cx="475.8" cy="100.1" r="2.3"/><circle cx="415.1" cy="101.1" r="2.3"/><circle cx="417.9" cy="102.2" r="2.3"/><circle cx="497.0" cy="102.6" r="2.3"/><circle cx="436.1" cy="103.7" r="2.3"/><circle cx="433.8" cy="105.9" r="2.3"/><circle cx="426.5" cy="105.9" r="2.3"/><circle cx="423.7" cy="109.7" r="2.3"/><circle cx="465.5" cy="109.7" r="2.3"/><circle cx="509.4" cy="112.3" r="2.3"/><circle cx="473.6" cy="115.5" r="2.3"/><circle cx="445.8" cy="114.0" r="2.3"/><circle cx="431.9" cy="115.5" r="2.3"/><circle cx="446.9" cy="118.3" r="2.3"/><circle cx="447.7" cy="119.8" r="2.3"/><circle cx="440.2" cy="119.1" r="2.3"/><circle cx="422.6" cy="118.7" r="2.3"/><circle cx="419.4" cy="120.4" r="2.3"/><circle cx="486.5" cy="120.2" r="2.3"/><circle cx="466.6" cy="125.1" r="2.3"/><circle cx="505.1" cy="121.9" r="2.3"/><circle cx="495.5" cy="125.1" r="2.3"/><circle cx="440.9" cy="131.1" r="2.3"/><circle cx="489.1" cy="130.5" r="2.3"/><circle cx="475.1" cy="132.0" r="2.3"/><circle cx="522.3" cy="130.5" r="2.3"/><circle cx="530.2" cy="129.4" r="2.3"/><circle cx="638.6" cy="44.1" r="2.3"/><circle cx="655.6" cy="71.6" r="2.3"/><circle cx="583.4" cy="74.8" r="2.3"/><circle cx="584.9" cy="82.7" r="2.3"/><circle cx="588.7" cy="86.6" r="2.3"/><circle cx="588.7" cy="96.2" r="2.3"/><circle cx="579.1" cy="100.1" r="2.3"/><circle cx="554.4" cy="101.1" r="2.3"/><circle cx="604.4" cy="103.1" r="2.3"/><circle cx="632.2" cy="103.3" r="2.3"/><circle cx="574.4" cy="111.2" r="2.3"/><circle cx="647.6" cy="115.5" r="2.3"/><circle cx="610.1" cy="119.8" r="2.3"/><circle cx="571.6" cy="118.7" r="2.3"/><circle cx="580.1" cy="124.5" r="2.3"/><circle cx="579.7" cy="130.5" r="2.3"/><circle cx="420.5" cy="134.1" r="2.3"/><circle cx="439.4" cy="133.6" r="2.3"/><circle cx="474.7" cy="133.6" r="2.3"/><circle cx="477.3" cy="136.2" r="2.3"/><circle cx="489.7" cy="136.2" r="2.3"/><circle cx="436.1" cy="139.4" r="2.3"/><circle cx="431.9" cy="143.7" r="2.3"/><circle cx="436.6" cy="143.7" r="2.3"/><circle cx="472.6" cy="138.8" r="2.3"/><circle cx="462.9" cy="140.5" r="2.3"/><circle cx="488.0" cy="145.4" r="2.3"/><circle cx="440.4" cy="150.6" r="2.3"/><circle cx="437.0" cy="154.4" r="2.3"/><circle cx="478.8" cy="153.8" r="2.3"/><circle cx="425.2" cy="160.9" r="2.3"/><circle cx="419.4" cy="164.7" r="2.3"/><circle cx="480.1" cy="163.6" r="2.3"/><circle cx="432.3" cy="167.9" r="2.3"/><circle cx="421.1" cy="172.0" r="2.3"/><circle cx="425.4" cy="172.6" r="2.3"/><circle cx="484.1" cy="171.1" r="2.3"/><circle cx="485.9" cy="173.1" r="2.3"/><circle cx="438.3" cy="173.1" r="2.3"/><circle cx="431.9" cy="178.0" r="2.3"/><circle cx="462.3" cy="176.9" r="2.3"/><circle cx="437.0" cy="182.3" r="2.3"/><circle cx="421.6" cy="185.9" r="2.3"/><circle cx="456.5" cy="182.7" r="2.3"/><circle cx="480.5" cy="182.3" r="2.3"/><circle cx="474.7" cy="185.1" r="2.3"/><circle cx="447.3" cy="185.1" r="2.3"/><circle cx="443.6" cy="186.1" r="2.3"/><circle cx="436.6" cy="196.6" r="2.3"/><circle cx="462.3" cy="192.4" r="2.3"/><circle cx="450.9" cy="195.1" r="2.3"/><circle cx="482.6" cy="194.5" r="2.3"/><circle cx="422.2" cy="196.6" r="2.3"/><circle cx="419.4" cy="199.4" r="2.3"/><circle cx="469.4" cy="198.8" r="2.3"/><circle cx="482.6" cy="201.6" r="2.3"/><circle cx="430.1" cy="202.6" r="2.3"/><circle cx="474.1" cy="203.3" r="2.3"/><circle cx="479.9" cy="204.1" r="2.3"/><circle cx="439.8" cy="211.2" r="2.3"/><circle cx="443.6" cy="213.8" r="2.3"/><circle cx="476.2" cy="217.2" r="2.3"/><circle cx="431.9" cy="220.2" r="2.3"/><circle cx="501.9" cy="138.8" r="2.3"/><circle cx="495.9" cy="161.3" r="2.3"/><circle cx="498.7" cy="163.6" r="2.3"/><circle cx="498.3" cy="173.1" r="2.3"/><circle cx="521.6" cy="174.8" r="2.3"/><circle cx="516.3" cy="178.4" r="2.3"/><circle cx="497.2" cy="193.6" r="2.3"/><circle cx="509.4" cy="194.1" r="2.3"/><circle cx="496.6" cy="197.3" r="2.3"/><circle cx="521.9" cy="198.4" r="2.3"/><circle cx="511.6" cy="200.5" r="2.3"/><circle cx="534.5" cy="201.1" r="2.3"/><circle cx="555.9" cy="143.3" r="2.3"/><circle cx="642.7" cy="143.3" r="2.3"/><circle cx="564.1" cy="164.1" r="2.3"/><circle cx="558.7" cy="167.3" r="2.3"/><circle cx="606.5" cy="171.1" r="2.3"/><circle cx="549.1" cy="174.8" r="2.3"/><circle cx="596.9" cy="186.1" r="2.3"/><circle cx="564.7" cy="203.7" r="2.3"/></g>
</g>
<path d="M492.8 233.6V32.6" stroke="#000" stroke-width="1.7" stroke-dasharray="6.18 2.67" fill="none"/>
<path d="M570.3 233.6V32.6" stroke="#000" stroke-width="1.7" stroke-dasharray="6.18 2.67" fill="none"/>
<path d="M458.8 154.9l6.5 6.5l-6.5 6.5l-6.5 -6.5z" fill="#ff0000" stroke="#000" stroke-width="1.6" stroke-linejoin="miter"/>
<path d="M449.4 144.8V160.8" stroke="#000" stroke-width="2"/>
<path d="M449.4 146.3l6.5 6.5l-6.5 6.5l-6.5 -6.5z" fill="#0000ff" stroke="#000" stroke-width="1.6" stroke-linejoin="miter"/>
<path d="M454.1 152.8l6.5 6.5l-6.5 6.5l-6.5 -6.5z" fill="#ffa500" stroke="#000" stroke-width="1.6" stroke-linejoin="miter"/>
<path d="M536.3 145.8l6.5 6.5l-6.5 6.5l-6.5 -6.5z" fill="#ff0000" stroke="#000" stroke-width="1.6" stroke-linejoin="miter"/>
<path d="M526.9 133.4V153.6" stroke="#000" stroke-width="2"/>
<path d="M526.9 137.0l6.5 6.5l-6.5 6.5l-6.5 -6.5z" fill="#0000ff" stroke="#000" stroke-width="1.6" stroke-linejoin="miter"/>
<path d="M531.6 143.9l6.5 6.5l-6.5 6.5l-6.5 -6.5z" fill="#ffa500" stroke="#000" stroke-width="1.6" stroke-linejoin="miter"/>
<path d="M621.4 127.3V143.9" stroke="#000" stroke-width="2"/>
<path d="M621.4 129.1l6.5 6.5l-6.5 6.5l-6.5 -6.5z" fill="#ff0000" stroke="#000" stroke-width="1.6" stroke-linejoin="miter"/>
<path d="M612.0 106.4l6.5 6.5l-6.5 6.5l-6.5 -6.5z" fill="#0000ff" stroke="#000" stroke-width="1.6" stroke-linejoin="miter"/>
<path d="M616.7 120.1l6.5 6.5l-6.5 6.5l-6.5 -6.5z" fill="#ffa500" stroke="#000" stroke-width="1.6" stroke-linejoin="miter"/>
<path d="M415.3 233.6v-4.2M415.3 32.6v4.2M454.1 233.6v-4.2M454.1 32.6v4.2M492.8 233.6v-4.2M492.8 32.6v4.2M531.5 233.6v-4.2M531.5 32.6v4.2M570.3 233.6v-4.2M570.3 32.6v4.2M609.0 233.6v-4.2M609.0 32.6v4.2M647.8 233.6v-4.2M647.8 32.6v4.2M686.5 233.6v-4.2M686.5 32.6v4.2M399.9 223.4h4.2M694.2 223.4h-4.2M399.9 180.9h4.2M694.2 180.9h-4.2M399.9 138.6h4.2M694.2 138.6h-4.2M399.9 96.2h4.2M694.2 96.2h-4.2M399.9 53.8h4.2M694.2 53.8h-4.2" stroke="#000" stroke-width="1.8" fill="none"/>
<rect x="399.9" y="32.6" width="294.3" height="200.9" fill="none" stroke="#000" stroke-width="1.4"/>
<text x="396.1" y="227.1" font-size="11" text-anchor="end">0.2</text>
<text x="396.1" y="184.7" font-size="11" text-anchor="end">0.4</text>
<text x="396.1" y="142.3" font-size="11" text-anchor="end">0.6</text>
<text x="396.1" y="99.9" font-size="11" text-anchor="end">0.8</text>
<text x="396.1" y="57.5" font-size="11" text-anchor="end">1.0</text>
<text x="449.6" y="47.6" font-size="14.8" font-weight="bold" text-anchor="middle">0.8<tspan font-style="italic" font-weight="normal" font-size="19.5">σ</tspan></text>
<text x="535.2" y="47.6" font-size="14.8" font-weight="bold" text-anchor="middle">0.7<tspan font-style="italic" font-weight="normal" font-size="19.5">σ</tspan></text>
<text x="639.0" y="47.6" font-size="14.8" font-weight="bold" text-anchor="middle">1.7<tspan font-style="italic" font-weight="normal" font-size="19.5">σ</tspan></text>
<clipPath id="c11"><rect x="399.9" y="233.6" width="294.3" height="201.0"/></clipPath>
<path d="M415.3 233.6V434.5M454.1 233.6V434.5M492.8 233.6V434.5M531.5 233.6V434.5M570.3 233.6V434.5M609.0 233.6V434.5M647.8 233.6V434.5M686.5 233.6V434.5M399.9 428.0H694.2M399.9 402.1H694.2M399.9 376.2H694.2M399.9 350.3H694.2M399.9 324.3H694.2M399.9 298.4H694.2M399.9 272.5H694.2M399.9 246.6H694.2" stroke="#b0b0b0" stroke-width="0.9" stroke-dasharray="0.9 1.3" fill="none"/>
<g clip-path="url(#c11)">
<g fill="#ff0000" fill-opacity="0.52"><circle cx="513.1" cy="271.9" r="2.3"/><circle cx="523.4" cy="292.3" r="2.3"/><circle cx="521.6" cy="305.8" r="2.3"/><circle cx="540.5" cy="301.5" r="2.3"/><circle cx="535.8" cy="302.6" r="2.3"/><circle cx="538.8" cy="303.2" r="2.3"/><circle cx="492.3" cy="309.4" r="2.3"/><circle cx="524.0" cy="315.0" r="2.3"/><circle cx="528.7" cy="315.0" r="2.3"/><circle cx="499.1" cy="319.3" r="2.3"/><circle cx="521.9" cy="322.5" r="2.3"/><circle cx="544.8" cy="322.5" r="2.3"/><circle cx="547.4" cy="315.4" r="2.3"/><circle cx="515.4" cy="323.6" r="2.3"/><circle cx="510.5" cy="326.1" r="2.3"/><circle cx="514.8" cy="326.1" r="2.3"/><circle cx="512.2" cy="325.5" r="2.3"/><circle cx="501.5" cy="326.6" r="2.3"/><circle cx="479.9" cy="328.3" r="2.3"/><circle cx="542.6" cy="327.2" r="2.3"/><circle cx="515.9" cy="328.3" r="2.3"/><circle cx="490.1" cy="331.9" r="2.3"/><circle cx="502.6" cy="331.9" r="2.3"/><circle cx="536.6" cy="330.4" r="2.3"/><circle cx="476.9" cy="333.6" r="2.3"/><circle cx="568.4" cy="243.6" r="2.3"/><circle cx="628.8" cy="251.1" r="2.3"/><circle cx="660.9" cy="267.6" r="2.3"/><circle cx="666.9" cy="270.4" r="2.3"/><circle cx="691.1" cy="269.8" r="2.3"/><circle cx="600.9" cy="272.6" r="2.3"/><circle cx="645.5" cy="273.6" r="2.3"/><circle cx="592.4" cy="277.9" r="2.3"/><circle cx="659.4" cy="279.4" r="2.3"/><circle cx="608.6" cy="285.4" r="2.3"/><circle cx="615.5" cy="288.2" r="2.3"/><circle cx="582.3" cy="287.1" r="2.3"/><circle cx="594.5" cy="289.1" r="2.3"/><circle cx="626.9" cy="290.1" r="2.3"/><circle cx="567.9" cy="297.9" r="2.3"/><circle cx="588.3" cy="298.3" r="2.3"/><circle cx="586.6" cy="299.8" r="2.3"/><circle cx="670.1" cy="297.9" r="2.3"/><circle cx="675.5" cy="300.9" r="2.3"/><circle cx="552.3" cy="304.7" r="2.3"/><circle cx="559.8" cy="306.4" r="2.3"/><circle cx="558.1" cy="308.6" r="2.3"/><circle cx="564.7" cy="307.3" r="2.3"/><circle cx="656.2" cy="309.0" r="2.3"/><circle cx="594.1" cy="312.6" r="2.3"/><circle cx="633.7" cy="311.6" r="2.3"/><circle cx="636.9" cy="313.3" r="2.3"/><circle cx="635.2" cy="314.4" r="2.3"/><circle cx="582.3" cy="315.0" r="2.3"/><circle cx="584.4" cy="316.1" r="2.3"/><circle cx="575.9" cy="316.5" r="2.3"/><circle cx="578.6" cy="318.0" r="2.3"/><circle cx="610.8" cy="316.5" r="2.3"/><circle cx="550.1" cy="316.5" r="2.3"/><circle cx="568.4" cy="318.6" r="2.3"/><circle cx="652.4" cy="319.1" r="2.3"/><circle cx="554.0" cy="321.9" r="2.3"/><circle cx="557.6" cy="322.9" r="2.3"/><circle cx="634.4" cy="321.4" r="2.3"/><circle cx="643.8" cy="321.9" r="2.3"/><circle cx="561.9" cy="324.0" r="2.3"/><circle cx="548.0" cy="325.1" r="2.3"/><circle cx="563.0" cy="326.6" r="2.3"/><circle cx="601.6" cy="325.5" r="2.3"/><circle cx="572.2" cy="324.0" r="2.3"/><circle cx="577.6" cy="326.6" r="2.3"/><circle cx="567.3" cy="327.9" r="2.3"/><circle cx="579.7" cy="328.3" r="2.3"/><circle cx="579.1" cy="329.8" r="2.3"/><circle cx="596.2" cy="331.5" r="2.3"/><circle cx="604.8" cy="332.6" r="2.3"/><circle cx="476.9" cy="335.1" r="2.3"/><circle cx="473.6" cy="339.4" r="2.3"/><circle cx="463.8" cy="339.4" r="2.3"/><circle cx="455.4" cy="343.2" r="2.3"/><circle cx="483.3" cy="345.8" r="2.3"/><circle cx="426.9" cy="348.4" r="2.3"/><circle cx="461.9" cy="350.1" r="2.3"/><circle cx="476.6" cy="350.7" r="2.3"/><circle cx="489.7" cy="348.4" r="2.3"/><circle cx="460.1" cy="352.9" r="2.3"/><circle cx="452.2" cy="355.0" r="2.3"/><circle cx="465.5" cy="353.9" r="2.3"/><circle cx="446.2" cy="355.0" r="2.3"/><circle cx="483.3" cy="354.4" r="2.3"/><circle cx="486.5" cy="356.1" r="2.3"/><circle cx="471.5" cy="356.5" r="2.3"/><circle cx="462.3" cy="359.7" r="2.3"/><circle cx="467.2" cy="360.4" r="2.3"/><circle cx="436.6" cy="360.4" r="2.3"/><circle cx="437.6" cy="361.9" r="2.3"/><circle cx="476.9" cy="360.4" r="2.3"/><circle cx="479.9" cy="360.1" r="2.3"/><circle cx="486.5" cy="360.8" r="2.3"/><circle cx="435.1" cy="366.1" r="2.3"/><circle cx="440.9" cy="365.7" r="2.3"/><circle cx="465.1" cy="365.1" r="2.3"/><circle cx="467.2" cy="366.6" r="2.3"/><circle cx="439.4" cy="368.3" r="2.3"/><circle cx="438.3" cy="372.1" r="2.3"/><circle cx="466.1" cy="372.6" r="2.3"/><circle cx="470.4" cy="373.2" r="2.3"/><circle cx="443.4" cy="373.2" r="2.3"/><circle cx="447.3" cy="372.6" r="2.3"/><circle cx="424.4" cy="375.4" r="2.3"/><circle cx="426.5" cy="379.0" r="2.3"/><circle cx="437.2" cy="376.9" r="2.3"/><circle cx="440.9" cy="377.9" r="2.3"/><circle cx="431.9" cy="381.1" r="2.3"/><circle cx="443.6" cy="381.8" r="2.3"/><circle cx="441.5" cy="380.1" r="2.3"/><circle cx="475.6" cy="379.6" r="2.3"/><circle cx="491.2" cy="378.6" r="2.3"/><circle cx="488.0" cy="377.9" r="2.3"/><circle cx="415.8" cy="386.9" r="2.3"/><circle cx="425.4" cy="385.4" r="2.3"/><circle cx="437.2" cy="384.4" r="2.3"/><circle cx="448.4" cy="385.4" r="2.3"/><circle cx="452.2" cy="384.4" r="2.3"/><circle cx="477.3" cy="385.4" r="2.3"/><circle cx="465.5" cy="388.6" r="2.3"/><circle cx="440.9" cy="389.3" r="2.3"/><circle cx="438.7" cy="390.1" r="2.3"/><circle cx="426.9" cy="390.1" r="2.3"/><circle cx="435.1" cy="389.7" r="2.3"/><circle cx="423.1" cy="391.9" r="2.3"/><circle cx="446.9" cy="390.8" r="2.3"/><circle cx="451.1" cy="388.0" r="2.3"/><circle cx="471.5" cy="391.9" r="2.3"/><circle cx="478.4" cy="390.8" r="2.3"/><circle cx="417.9" cy="393.6" r="2.3"/><circle cx="432.3" cy="395.1" r="2.3"/><circle cx="426.5" cy="395.7" r="2.3"/><circle cx="417.3" cy="394.6" r="2.3"/><circle cx="455.2" cy="395.1" r="2.3"/><circle cx="458.0" cy="395.1" r="2.3"/><circle cx="443.0" cy="396.8" r="2.3"/><circle cx="444.7" cy="397.2" r="2.3"/><circle cx="479.0" cy="394.6" r="2.3"/><circle cx="483.7" cy="395.7" r="2.3"/><circle cx="486.9" cy="396.1" r="2.3"/><circle cx="427.6" cy="399.4" r="2.3"/><circle cx="417.7" cy="401.5" r="2.3"/><circle cx="422.6" cy="403.6" r="2.3"/><circle cx="423.7" cy="405.1" r="2.3"/><circle cx="415.8" cy="404.1" r="2.3"/><circle cx="459.1" cy="403.6" r="2.3"/><circle cx="458.6" cy="405.8" r="2.3"/><circle cx="424.4" cy="406.2" r="2.3"/><circle cx="471.9" cy="405.8" r="2.3"/><circle cx="476.2" cy="405.1" r="2.3"/><circle cx="484.4" cy="402.6" r="2.3"/><circle cx="474.1" cy="411.1" r="2.3"/><circle cx="438.7" cy="413.3" r="2.3"/><circle cx="450.5" cy="412.2" r="2.3"/><circle cx="476.9" cy="416.5" r="2.3"/><circle cx="489.7" cy="416.1" r="2.3"/><circle cx="449.0" cy="419.1" r="2.3"/><circle cx="451.6" cy="419.1" r="2.3"/><circle cx="485.9" cy="419.1" r="2.3"/><circle cx="421.1" cy="420.4" r="2.3"/><circle cx="428.6" cy="422.3" r="2.3"/><circle cx="480.1" cy="421.2" r="2.3"/><circle cx="485.9" cy="422.3" r="2.3"/><circle cx="424.4" cy="423.6" r="2.3"/><circle cx="452.2" cy="425.1" r="2.3"/><circle cx="429.1" cy="427.2" r="2.3"/><circle cx="443.6" cy="428.3" r="2.3"/><circle cx="463.4" cy="427.6" r="2.3"/><circle cx="470.9" cy="430.4" r="2.3"/><circle cx="505.1" cy="334.0" r="2.3"/><circle cx="517.4" cy="335.1" r="2.3"/><circle cx="513.1" cy="337.9" r="2.3"/><circle cx="505.8" cy="337.2" r="2.3"/><circle cx="522.3" cy="337.2" r="2.3"/><circle cx="547.4" cy="336.1" r="2.3"/><circle cx="509.4" cy="343.0" r="2.3"/><circle cx="499.4" cy="344.7" r="2.3"/><circle cx="520.1" cy="343.6" r="2.3"/><circle cx="533.0" cy="346.9" r="2.3"/><circle cx="500.4" cy="349.0" r="2.3"/><circle cx="504.5" cy="351.8" r="2.3"/><circle cx="499.8" cy="352.6" r="2.3"/><circle cx="506.2" cy="352.6" r="2.3"/><circle cx="497.6" cy="356.5" r="2.3"/><circle cx="496.6" cy="359.3" r="2.3"/><circle cx="507.9" cy="358.2" r="2.3"/><circle cx="510.1" cy="359.1" r="2.3"/><circle cx="515.2" cy="357.6" r="2.3"/><circle cx="525.9" cy="355.4" r="2.3"/><circle cx="520.8" cy="358.2" r="2.3"/><circle cx="522.9" cy="359.7" r="2.3"/><circle cx="535.1" cy="360.8" r="2.3"/><circle cx="545.9" cy="351.1" r="2.3"/><circle cx="522.9" cy="362.9" r="2.3"/><circle cx="503.6" cy="365.1" r="2.3"/><circle cx="497.2" cy="368.3" r="2.3"/><circle cx="510.9" cy="372.6" r="2.3"/><circle cx="530.9" cy="370.4" r="2.3"/><circle cx="503.6" cy="374.3" r="2.3"/><circle cx="509.4" cy="374.3" r="2.3"/><circle cx="523.4" cy="377.9" r="2.3"/><circle cx="522.3" cy="378.4" r="2.3"/><circle cx="538.4" cy="378.6" r="2.3"/><circle cx="543.7" cy="378.6" r="2.3"/><circle cx="547.4" cy="370.4" r="2.3"/><circle cx="513.1" cy="383.9" r="2.3"/><circle cx="525.9" cy="384.8" r="2.3"/><circle cx="497.2" cy="385.4" r="2.3"/><circle cx="509.9" cy="398.3" r="2.3"/><circle cx="537.3" cy="398.7" r="2.3"/><circle cx="536.9" cy="404.7" r="2.3"/><circle cx="526.6" cy="408.4" r="2.3"/><circle cx="502.6" cy="409.6" r="2.3"/><circle cx="504.5" cy="413.7" r="2.3"/><circle cx="523.8" cy="412.9" r="2.3"/><circle cx="515.4" cy="415.4" r="2.3"/><circle cx="550.1" cy="335.1" r="2.3"/><circle cx="578.0" cy="335.7" r="2.3"/><circle cx="604.4" cy="334.0" r="2.3"/><circle cx="628.4" cy="335.7" r="2.3"/><circle cx="562.6" cy="337.6" r="2.3"/><circle cx="561.5" cy="339.8" r="2.3"/><circle cx="646.6" cy="338.3" r="2.3"/><circle cx="678.7" cy="337.9" r="2.3"/><circle cx="556.6" cy="341.5" r="2.3"/><circle cx="551.9" cy="342.6" r="2.3"/><circle cx="598.4" cy="341.1" r="2.3"/><circle cx="623.0" cy="341.1" r="2.3"/><circle cx="665.2" cy="340.9" r="2.3"/><circle cx="581.9" cy="344.1" r="2.3"/><circle cx="610.1" cy="344.1" r="2.3"/><circle cx="623.0" cy="344.1" r="2.3"/><circle cx="580.6" cy="349.4" r="2.3"/><circle cx="643.8" cy="350.1" r="2.3"/><circle cx="664.8" cy="350.1" r="2.3"/><circle cx="674.0" cy="351.1" r="2.3"/><circle cx="555.9" cy="352.2" r="2.3"/><circle cx="573.1" cy="352.2" r="2.3"/><circle cx="563.6" cy="354.4" r="2.3"/><circle cx="564.1" cy="355.4" r="2.3"/><circle cx="603.7" cy="352.2" r="2.3"/><circle cx="607.4" cy="354.4" r="2.3"/><circle cx="584.0" cy="354.8" r="2.3"/><circle cx="589.8" cy="354.4" r="2.3"/><circle cx="626.9" cy="355.9" r="2.3"/><circle cx="567.3" cy="359.3" r="2.3"/><circle cx="562.4" cy="361.4" r="2.3"/><circle cx="571.1" cy="361.9" r="2.3"/><circle cx="635.4" cy="362.3" r="2.3"/><circle cx="548.0" cy="364.0" r="2.3"/><circle cx="604.1" cy="365.1" r="2.3"/><circle cx="605.4" cy="364.4" r="2.3"/><circle cx="594.7" cy="367.9" r="2.3"/><circle cx="605.9" cy="370.0" r="2.3"/><circle cx="558.7" cy="373.0" r="2.3"/><circle cx="624.5" cy="372.6" r="2.3"/><circle cx="618.3" cy="374.3" r="2.3"/><circle cx="612.9" cy="376.9" r="2.3"/><circle cx="611.6" cy="377.5" r="2.3"/><circle cx="604.1" cy="377.9" r="2.3"/><circle cx="585.5" cy="376.9" r="2.3"/><circle cx="561.3" cy="379.6" r="2.3"/><circle cx="582.9" cy="379.6" r="2.3"/><circle cx="587.2" cy="379.6" r="2.3"/><circle cx="584.9" cy="380.7" r="2.3"/><circle cx="558.7" cy="382.2" r="2.3"/><circle cx="575.2" cy="385.4" r="2.3"/><circle cx="589.4" cy="386.5" r="2.3"/><circle cx="559.4" cy="388.6" r="2.3"/><circle cx="560.9" cy="390.1" r="2.3"/><circle cx="564.5" cy="390.1" r="2.3"/><circle cx="565.8" cy="395.1" r="2.3"/></g>
<g fill="#0000ff" fill-opacity="0.52"><circle cx="419.9" cy="292.9" r="2.3"/><circle cx="520.6" cy="301.1" r="2.3"/><circle cx="521.6" cy="303.0" r="2.3"/><circle cx="546.5" cy="299.4" r="2.3"/><circle cx="545.9" cy="302.6" r="2.3"/><circle cx="526.1" cy="311.1" r="2.3"/><circle cx="521.9" cy="314.4" r="2.3"/><circle cx="482.6" cy="314.8" r="2.3"/><circle cx="480.1" cy="316.5" r="2.3"/><circle cx="499.1" cy="316.9" r="2.3"/><circle cx="522.9" cy="318.6" r="2.3"/><circle cx="519.1" cy="321.9" r="2.3"/><circle cx="525.9" cy="322.5" r="2.3"/><circle cx="509.9" cy="321.2" r="2.3"/><circle cx="474.1" cy="324.0" r="2.3"/><circle cx="505.6" cy="326.8" r="2.3"/><circle cx="472.6" cy="327.6" r="2.3"/><circle cx="546.9" cy="326.6" r="2.3"/><circle cx="457.4" cy="331.1" r="2.3"/><circle cx="496.1" cy="332.6" r="2.3"/><circle cx="508.4" cy="331.9" r="2.3"/><circle cx="504.1" cy="333.6" r="2.3"/><circle cx="451.1" cy="333.6" r="2.3"/><circle cx="481.6" cy="333.6" r="2.3"/><circle cx="588.7" cy="251.8" r="2.3"/><circle cx="596.9" cy="261.9" r="2.3"/><circle cx="583.4" cy="270.4" r="2.3"/><circle cx="604.4" cy="274.7" r="2.3"/><circle cx="554.4" cy="296.1" r="2.3"/><circle cx="647.6" cy="302.6" r="2.3"/><circle cx="564.1" cy="318.6" r="2.3"/><circle cx="555.5" cy="320.4" r="2.3"/><circle cx="578.6" cy="320.8" r="2.3"/><circle cx="610.1" cy="320.8" r="2.3"/><circle cx="638.6" cy="321.9" r="2.3"/><circle cx="642.7" cy="328.7" r="2.3"/><circle cx="573.7" cy="331.5" r="2.3"/><circle cx="588.7" cy="331.5" r="2.3"/><circle cx="655.6" cy="331.5" r="2.3"/><circle cx="450.9" cy="335.1" r="2.3"/><circle cx="483.1" cy="334.0" r="2.3"/><circle cx="475.8" cy="337.9" r="2.3"/><circle cx="489.7" cy="336.6" r="2.3"/><circle cx="445.6" cy="344.1" r="2.3"/><circle cx="448.8" cy="346.2" r="2.3"/><circle cx="465.5" cy="346.4" r="2.3"/><circle cx="474.5" cy="345.1" r="2.3"/><circle cx="475.6" cy="346.9" r="2.3"/><circle cx="446.9" cy="349.6" r="2.3"/><circle cx="487.6" cy="350.5" r="2.3"/><circle cx="479.0" cy="352.9" r="2.3"/><circle cx="456.5" cy="353.3" r="2.3"/><circle cx="421.1" cy="355.4" r="2.3"/><circle cx="432.3" cy="355.4" r="2.3"/><circle cx="443.6" cy="355.4" r="2.3"/><circle cx="422.6" cy="360.8" r="2.3"/><circle cx="435.9" cy="362.9" r="2.3"/><circle cx="431.9" cy="364.0" r="2.3"/><circle cx="477.7" cy="360.4" r="2.3"/><circle cx="489.7" cy="360.4" r="2.3"/><circle cx="469.4" cy="367.2" r="2.3"/><circle cx="483.1" cy="365.7" r="2.3"/><circle cx="486.3" cy="366.6" r="2.3"/><circle cx="476.9" cy="367.9" r="2.3"/><circle cx="479.9" cy="370.4" r="2.3"/><circle cx="431.2" cy="367.9" r="2.3"/><circle cx="424.8" cy="371.5" r="2.3"/><circle cx="432.9" cy="372.6" r="2.3"/><circle cx="430.8" cy="373.6" r="2.3"/><circle cx="461.6" cy="370.0" r="2.3"/><circle cx="467.0" cy="373.2" r="2.3"/><circle cx="415.1" cy="380.1" r="2.3"/><circle cx="425.4" cy="377.9" r="2.3"/><circle cx="417.3" cy="378.4" r="2.3"/><circle cx="435.9" cy="376.9" r="2.3"/><circle cx="436.1" cy="381.8" r="2.3"/><circle cx="448.4" cy="382.9" r="2.3"/><circle cx="482.0" cy="376.9" r="2.3"/><circle cx="416.9" cy="385.0" r="2.3"/><circle cx="420.1" cy="385.0" r="2.3"/><circle cx="422.2" cy="385.9" r="2.3"/><circle cx="430.8" cy="385.4" r="2.3"/><circle cx="436.6" cy="385.4" r="2.3"/><circle cx="434.4" cy="392.9" r="2.3"/><circle cx="419.0" cy="398.7" r="2.3"/><circle cx="437.2" cy="399.8" r="2.3"/><circle cx="439.4" cy="401.1" r="2.3"/><circle cx="495.9" cy="334.0" r="2.3"/><circle cx="502.4" cy="343.0" r="2.3"/><circle cx="516.3" cy="344.1" r="2.3"/><circle cx="547.4" cy="343.0" r="2.3"/><circle cx="497.0" cy="349.6" r="2.3"/><circle cx="495.1" cy="371.5" r="2.3"/><circle cx="511.6" cy="371.5" r="2.3"/><circle cx="496.6" cy="380.7" r="2.3"/><circle cx="498.3" cy="387.1" r="2.3"/><circle cx="543.7" cy="405.8" r="2.3"/><circle cx="534.7" cy="406.9" r="2.3"/><circle cx="579.1" cy="339.4" r="2.3"/><circle cx="558.7" cy="342.1" r="2.3"/><circle cx="580.1" cy="342.1" r="2.3"/><circle cx="548.6" cy="343.0" r="2.3"/><circle cx="632.2" cy="343.6" r="2.3"/><circle cx="571.6" cy="353.9" r="2.3"/><circle cx="606.5" cy="351.6" r="2.3"/><circle cx="622.6" cy="361.4" r="2.3"/><circle cx="564.7" cy="366.6" r="2.3"/><circle cx="584.9" cy="370.4" r="2.3"/></g>
</g>
<path d="M492.8 434.5V233.6" stroke="#000" stroke-width="1.7" stroke-dasharray="6.18 2.67" fill="none"/>
<path d="M570.3 434.5V233.6" stroke="#000" stroke-width="1.7" stroke-dasharray="6.18 2.67" fill="none"/>
<path d="M458.8 379.4l6.5 6.5l-6.5 6.5l-6.5 -6.5z" fill="#ff0000" stroke="#000" stroke-width="1.6" stroke-linejoin="miter"/>
<path d="M449.4 360.5l6.5 6.5l-6.5 6.5l-6.5 -6.5z" fill="#0000ff" stroke="#000" stroke-width="1.6" stroke-linejoin="miter"/>
<path d="M454.1 370.2l6.5 6.5l-6.5 6.5l-6.5 -6.5z" fill="#ffa500" stroke="#000" stroke-width="1.6" stroke-linejoin="miter"/>
<path d="M536.3 338.6l6.5 6.5l-6.5 6.5l-6.5 -6.5z" fill="#ff0000" stroke="#000" stroke-width="1.6" stroke-linejoin="miter"/>
<path d="M526.9 325.1l6.5 6.5l-6.5 6.5l-6.5 -6.5z" fill="#0000ff" stroke="#000" stroke-width="1.6" stroke-linejoin="miter"/>
<path d="M531.6 336.1l6.5 6.5l-6.5 6.5l-6.5 -6.5z" fill="#ffa500" stroke="#000" stroke-width="1.6" stroke-linejoin="miter"/>
<path d="M621.4 325.6l6.5 6.5l-6.5 6.5l-6.5 -6.5z" fill="#ff0000" stroke="#000" stroke-width="1.6" stroke-linejoin="miter"/>
<path d="M612.0 323.7l6.5 6.5l-6.5 6.5l-6.5 -6.5z" fill="#0000ff" stroke="#000" stroke-width="1.6" stroke-linejoin="miter"/>
<path d="M616.7 324.8l6.5 6.5l-6.5 6.5l-6.5 -6.5z" fill="#ffa500" stroke="#000" stroke-width="1.6" stroke-linejoin="miter"/>
<path d="M415.3 434.5v-4.2M415.3 233.6v4.2M454.1 434.5v-4.2M454.1 233.6v4.2M492.8 434.5v-4.2M492.8 233.6v4.2M531.5 434.5v-4.2M531.5 233.6v4.2M570.3 434.5v-4.2M570.3 233.6v4.2M609.0 434.5v-4.2M609.0 233.6v4.2M647.8 434.5v-4.2M647.8 233.6v4.2M686.5 434.5v-4.2M686.5 233.6v4.2M399.9 428.0h4.2M694.2 428.0h-4.2M399.9 402.1h4.2M694.2 402.1h-4.2M399.9 376.2h4.2M694.2 376.2h-4.2M399.9 350.3h4.2M694.2 350.3h-4.2M399.9 324.3h4.2M694.2 324.3h-4.2M399.9 298.4h4.2M694.2 298.4h-4.2M399.9 272.5h4.2M694.2 272.5h-4.2M399.9 246.6h4.2M694.2 246.6h-4.2" stroke="#000" stroke-width="1.8" fill="none"/>
<rect x="399.9" y="233.6" width="294.3" height="201.0" fill="none" stroke="#000" stroke-width="1.4"/>
<text x="396.1" y="431.8" font-size="11" text-anchor="end">0.0</text>
<text x="396.1" y="405.9" font-size="11" text-anchor="end">0.4</text>
<text x="396.1" y="379.9" font-size="11" text-anchor="end">0.8</text>
<text x="396.1" y="354.0" font-size="11" text-anchor="end">1.2</text>
<text x="396.1" y="328.1" font-size="11" text-anchor="end">1.6</text>
<text x="396.1" y="302.1" font-size="11" text-anchor="end">2.0</text>
<text x="396.1" y="276.2" font-size="11" text-anchor="end">2.4</text>
<text x="396.1" y="250.3" font-size="11" text-anchor="end">2.8</text>
<text x="449.6" y="248.6" font-size="14.8" font-weight="bold" text-anchor="middle">5.0<tspan font-style="italic" font-weight="normal" font-size="19.5">σ</tspan></text>
<text x="535.2" y="248.6" font-size="14.8" font-weight="bold" text-anchor="middle">2.0<tspan font-style="italic" font-weight="normal" font-size="19.5">σ</tspan></text>
<text x="638.8" y="248.6" font-size="14.8" font-weight="bold" text-anchor="middle">0.3<tspan font-style="italic" font-weight="normal" font-size="19.5">σ</tspan></text>
<clipPath id="c12"><rect x="399.9" y="434.5" width="294.3" height="200.9"/></clipPath>
<path d="M415.3 434.5V635.4M454.1 434.5V635.4M492.8 434.5V635.4M531.5 434.5V635.4M570.3 434.5V635.4M609.0 434.5V635.4M647.8 434.5V635.4M686.5 434.5V635.4M399.9 623.5H694.2M399.9 588.1H694.2M399.9 552.6H694.2M399.9 517.2H694.2M399.9 481.8H694.2M399.9 446.3H694.2" stroke="#b0b0b0" stroke-width="0.9" stroke-dasharray="0.9 1.3" fill="none"/>
<g clip-path="url(#c12)">
<g fill="#ff0000" fill-opacity="0.52"><circle cx="524.4" cy="438.2" r="2.3"/><circle cx="502.6" cy="444.6" r="2.3"/><circle cx="450.9" cy="453.2" r="2.3"/><circle cx="485.9" cy="461.8" r="2.3"/><circle cx="443.6" cy="464.6" r="2.3"/><circle cx="478.8" cy="481.5" r="2.3"/><circle cx="449.0" cy="484.3" r="2.3"/><circle cx="458.0" cy="483.2" r="2.3"/><circle cx="470.9" cy="483.2" r="2.3"/><circle cx="525.9" cy="485.4" r="2.3"/><circle cx="546.5" cy="484.7" r="2.3"/><circle cx="483.7" cy="486.9" r="2.3"/><circle cx="484.4" cy="488.6" r="2.3"/><circle cx="515.9" cy="487.5" r="2.3"/><circle cx="536.2" cy="487.1" r="2.3"/><circle cx="515.9" cy="490.3" r="2.3"/><circle cx="537.9" cy="488.6" r="2.3"/><circle cx="438.3" cy="491.1" r="2.3"/><circle cx="478.4" cy="492.2" r="2.3"/><circle cx="489.1" cy="492.2" r="2.3"/><circle cx="437.6" cy="495.4" r="2.3"/><circle cx="543.1" cy="493.9" r="2.3"/><circle cx="536.9" cy="496.5" r="2.3"/><circle cx="524.4" cy="497.8" r="2.3"/><circle cx="512.6" cy="499.3" r="2.3"/><circle cx="521.6" cy="499.9" r="2.3"/><circle cx="452.0" cy="500.4" r="2.3"/><circle cx="423.3" cy="501.4" r="2.3"/><circle cx="506.9" cy="501.4" r="2.3"/><circle cx="520.8" cy="502.9" r="2.3"/><circle cx="526.6" cy="504.6" r="2.3"/><circle cx="545.9" cy="505.7" r="2.3"/><circle cx="464.4" cy="505.7" r="2.3"/><circle cx="491.2" cy="505.3" r="2.3"/><circle cx="522.9" cy="505.7" r="2.3"/><circle cx="498.3" cy="506.8" r="2.3"/><circle cx="503.6" cy="507.2" r="2.3"/><circle cx="457.4" cy="507.2" r="2.3"/><circle cx="530.9" cy="507.9" r="2.3"/><circle cx="499.1" cy="508.9" r="2.3"/><circle cx="504.5" cy="510.0" r="2.3"/><circle cx="524.4" cy="510.0" r="2.3"/><circle cx="527.2" cy="511.1" r="2.3"/><circle cx="461.9" cy="511.7" r="2.3"/><circle cx="485.9" cy="511.7" r="2.3"/><circle cx="520.8" cy="513.2" r="2.3"/><circle cx="424.4" cy="514.7" r="2.3"/><circle cx="470.4" cy="515.4" r="2.3"/><circle cx="474.7" cy="514.3" r="2.3"/><circle cx="486.9" cy="514.7" r="2.3"/><circle cx="509.4" cy="514.7" r="2.3"/><circle cx="497.6" cy="517.1" r="2.3"/><circle cx="545.9" cy="513.6" r="2.3"/><circle cx="471.9" cy="520.3" r="2.3"/><circle cx="480.5" cy="520.7" r="2.3"/><circle cx="452.2" cy="520.7" r="2.3"/><circle cx="470.9" cy="522.2" r="2.3"/><circle cx="428.6" cy="522.9" r="2.3"/><circle cx="535.1" cy="520.7" r="2.3"/><circle cx="510.1" cy="525.0" r="2.3"/><circle cx="525.5" cy="525.0" r="2.3"/><circle cx="522.9" cy="527.1" r="2.3"/><circle cx="475.8" cy="528.2" r="2.3"/><circle cx="477.9" cy="529.9" r="2.3"/><circle cx="490.1" cy="529.3" r="2.3"/><circle cx="429.1" cy="530.4" r="2.3"/><circle cx="451.6" cy="529.9" r="2.3"/><circle cx="458.0" cy="530.8" r="2.3"/><circle cx="495.5" cy="531.4" r="2.3"/><circle cx="471.5" cy="532.9" r="2.3"/><circle cx="488.6" cy="532.1" r="2.3"/><circle cx="439.4" cy="533.6" r="2.3"/><circle cx="450.5" cy="534.0" r="2.3"/><circle cx="458.0" cy="532.9" r="2.3"/><circle cx="524.0" cy="533.1" r="2.3"/><circle cx="547.4" cy="527.1" r="2.3"/><circle cx="560.2" cy="442.9" r="2.3"/><circle cx="558.7" cy="445.7" r="2.3"/><circle cx="612.3" cy="444.0" r="2.3"/><circle cx="580.8" cy="447.9" r="2.3"/><circle cx="624.5" cy="448.9" r="2.3"/><circle cx="670.1" cy="448.9" r="2.3"/><circle cx="589.4" cy="451.1" r="2.3"/><circle cx="618.1" cy="453.6" r="2.3"/><circle cx="645.9" cy="452.8" r="2.3"/><circle cx="665.2" cy="452.8" r="2.3"/><circle cx="611.2" cy="458.6" r="2.3"/><circle cx="578.6" cy="461.1" r="2.3"/><circle cx="604.1" cy="465.6" r="2.3"/><circle cx="664.4" cy="467.1" r="2.3"/><circle cx="678.3" cy="467.1" r="2.3"/><circle cx="608.0" cy="469.9" r="2.3"/><circle cx="579.5" cy="470.8" r="2.3"/><circle cx="626.6" cy="471.4" r="2.3"/><circle cx="635.4" cy="473.1" r="2.3"/><circle cx="673.8" cy="475.3" r="2.3"/><circle cx="562.4" cy="479.4" r="2.3"/><circle cx="575.4" cy="480.6" r="2.3"/><circle cx="584.0" cy="479.4" r="2.3"/><circle cx="610.1" cy="477.9" r="2.3"/><circle cx="652.4" cy="478.5" r="2.3"/><circle cx="604.1" cy="483.2" r="2.3"/><circle cx="565.1" cy="484.9" r="2.3"/><circle cx="558.7" cy="486.9" r="2.3"/><circle cx="605.9" cy="486.9" r="2.3"/><circle cx="572.6" cy="487.1" r="2.3"/><circle cx="587.2" cy="487.1" r="2.3"/><circle cx="548.0" cy="485.8" r="2.3"/><circle cx="594.1" cy="489.6" r="2.3"/><circle cx="598.4" cy="492.2" r="2.3"/><circle cx="617.2" cy="491.1" r="2.3"/><circle cx="623.0" cy="489.2" r="2.3"/><circle cx="562.4" cy="491.8" r="2.3"/><circle cx="643.8" cy="491.4" r="2.3"/><circle cx="585.5" cy="492.9" r="2.3"/><circle cx="675.9" cy="492.9" r="2.3"/><circle cx="566.2" cy="493.9" r="2.3"/><circle cx="557.2" cy="496.1" r="2.3"/><circle cx="587.2" cy="496.7" r="2.3"/><circle cx="582.7" cy="498.6" r="2.3"/><circle cx="568.4" cy="498.6" r="2.3"/><circle cx="562.4" cy="499.9" r="2.3"/><circle cx="559.4" cy="501.0" r="2.3"/><circle cx="645.9" cy="501.0" r="2.3"/><circle cx="567.3" cy="502.1" r="2.3"/><circle cx="582.9" cy="503.6" r="2.3"/><circle cx="659.4" cy="504.6" r="2.3"/><circle cx="563.0" cy="506.4" r="2.3"/><circle cx="627.3" cy="508.9" r="2.3"/><circle cx="564.1" cy="511.1" r="2.3"/><circle cx="635.4" cy="511.7" r="2.3"/><circle cx="548.0" cy="514.3" r="2.3"/><circle cx="563.0" cy="516.0" r="2.3"/><circle cx="594.7" cy="517.1" r="2.3"/><circle cx="601.1" cy="517.9" r="2.3"/><circle cx="560.2" cy="519.2" r="2.3"/><circle cx="559.8" cy="521.4" r="2.3"/><circle cx="581.2" cy="520.7" r="2.3"/><circle cx="634.8" cy="519.2" r="2.3"/><circle cx="567.9" cy="523.3" r="2.3"/><circle cx="637.6" cy="523.3" r="2.3"/><circle cx="656.2" cy="525.0" r="2.3"/><circle cx="575.9" cy="526.1" r="2.3"/><circle cx="627.9" cy="526.7" r="2.3"/><circle cx="633.7" cy="527.8" r="2.3"/><circle cx="550.8" cy="528.6" r="2.3"/><circle cx="563.0" cy="528.2" r="2.3"/><circle cx="584.4" cy="528.6" r="2.3"/><circle cx="579.7" cy="529.9" r="2.3"/><circle cx="592.6" cy="530.4" r="2.3"/><circle cx="600.5" cy="530.8" r="2.3"/><circle cx="552.9" cy="532.1" r="2.3"/><circle cx="577.6" cy="532.1" r="2.3"/><circle cx="691.1" cy="529.3" r="2.3"/><circle cx="572.2" cy="533.6" r="2.3"/><circle cx="445.6" cy="536.7" r="2.3"/><circle cx="459.5" cy="536.7" r="2.3"/><circle cx="460.1" cy="538.2" r="2.3"/><circle cx="487.4" cy="538.2" r="2.3"/><circle cx="490.1" cy="538.2" r="2.3"/><circle cx="426.5" cy="541.0" r="2.3"/><circle cx="451.6" cy="541.0" r="2.3"/><circle cx="455.9" cy="541.9" r="2.3"/><circle cx="459.7" cy="541.4" r="2.3"/><circle cx="416.2" cy="543.1" r="2.3"/><circle cx="478.4" cy="545.7" r="2.3"/><circle cx="462.9" cy="545.3" r="2.3"/><circle cx="465.9" cy="546.4" r="2.3"/><circle cx="470.9" cy="547.9" r="2.3"/><circle cx="475.8" cy="548.9" r="2.3"/><circle cx="420.1" cy="552.1" r="2.3"/><circle cx="424.8" cy="551.7" r="2.3"/><circle cx="443.6" cy="553.6" r="2.3"/><circle cx="430.8" cy="557.1" r="2.3"/><circle cx="423.3" cy="559.2" r="2.3"/><circle cx="421.1" cy="559.2" r="2.3"/><circle cx="423.7" cy="561.8" r="2.3"/><circle cx="417.7" cy="558.1" r="2.3"/><circle cx="456.5" cy="553.9" r="2.3"/><circle cx="453.7" cy="556.4" r="2.3"/><circle cx="476.9" cy="556.0" r="2.3"/><circle cx="490.1" cy="556.4" r="2.3"/><circle cx="484.4" cy="559.2" r="2.3"/><circle cx="435.1" cy="560.7" r="2.3"/><circle cx="437.0" cy="561.4" r="2.3"/><circle cx="436.6" cy="563.5" r="2.3"/><circle cx="447.7" cy="561.8" r="2.3"/><circle cx="450.9" cy="561.8" r="2.3"/><circle cx="476.2" cy="559.2" r="2.3"/><circle cx="482.6" cy="561.4" r="2.3"/><circle cx="489.7" cy="561.4" r="2.3"/><circle cx="417.9" cy="565.0" r="2.3"/><circle cx="424.4" cy="566.1" r="2.3"/><circle cx="426.9" cy="566.5" r="2.3"/><circle cx="432.3" cy="565.0" r="2.3"/><circle cx="443.6" cy="565.0" r="2.3"/><circle cx="447.9" cy="566.1" r="2.3"/><circle cx="475.8" cy="563.5" r="2.3"/><circle cx="479.0" cy="564.4" r="2.3"/><circle cx="419.0" cy="568.2" r="2.3"/><circle cx="468.3" cy="567.1" r="2.3"/><circle cx="479.9" cy="567.8" r="2.3"/><circle cx="417.9" cy="571.9" r="2.3"/><circle cx="435.1" cy="572.5" r="2.3"/><circle cx="444.5" cy="572.9" r="2.3"/><circle cx="443.0" cy="575.7" r="2.3"/><circle cx="476.9" cy="572.5" r="2.3"/><circle cx="415.8" cy="572.9" r="2.3"/><circle cx="477.9" cy="576.1" r="2.3"/><circle cx="426.5" cy="576.8" r="2.3"/><circle cx="480.1" cy="576.8" r="2.3"/><circle cx="431.9" cy="581.1" r="2.3"/><circle cx="415.8" cy="584.7" r="2.3"/><circle cx="425.2" cy="583.2" r="2.3"/><circle cx="426.9" cy="585.4" r="2.3"/><circle cx="461.9" cy="582.8" r="2.3"/><circle cx="465.1" cy="583.9" r="2.3"/><circle cx="426.3" cy="587.9" r="2.3"/><circle cx="474.7" cy="590.7" r="2.3"/><circle cx="425.2" cy="592.9" r="2.3"/><circle cx="426.9" cy="593.9" r="2.3"/><circle cx="445.1" cy="592.9" r="2.3"/><circle cx="436.1" cy="598.2" r="2.3"/><circle cx="448.4" cy="599.9" r="2.3"/><circle cx="466.6" cy="595.0" r="2.3"/><circle cx="464.0" cy="600.4" r="2.3"/><circle cx="435.5" cy="602.9" r="2.3"/><circle cx="438.3" cy="604.2" r="2.3"/><circle cx="436.1" cy="608.9" r="2.3"/><circle cx="428.0" cy="571.4" r="2.3"/><circle cx="420.5" cy="574.6" r="2.3"/><circle cx="424.8" cy="586.4" r="2.3"/><circle cx="429.1" cy="583.2" r="2.3"/><circle cx="460.1" cy="566.1" r="2.3"/><circle cx="464.0" cy="562.9" r="2.3"/><circle cx="468.7" cy="559.6" r="2.3"/><circle cx="471.9" cy="573.6" r="2.3"/><circle cx="451.6" cy="573.1" r="2.3"/><circle cx="495.9" cy="538.9" r="2.3"/><circle cx="510.5" cy="538.2" r="2.3"/><circle cx="514.8" cy="535.0" r="2.3"/><circle cx="522.9" cy="535.0" r="2.3"/><circle cx="504.1" cy="542.9" r="2.3"/><circle cx="498.7" cy="544.6" r="2.3"/><circle cx="511.1" cy="543.1" r="2.3"/><circle cx="517.6" cy="544.0" r="2.3"/><circle cx="515.4" cy="545.1" r="2.3"/><circle cx="522.3" cy="544.0" r="2.3"/><circle cx="501.9" cy="547.2" r="2.3"/><circle cx="516.9" cy="548.9" r="2.3"/><circle cx="514.1" cy="551.1" r="2.3"/><circle cx="503.0" cy="552.1" r="2.3"/><circle cx="506.9" cy="552.1" r="2.3"/><circle cx="493.8" cy="553.2" r="2.3"/><circle cx="500.4" cy="556.4" r="2.3"/><circle cx="510.9" cy="557.9" r="2.3"/><circle cx="539.9" cy="541.0" r="2.3"/><circle cx="545.4" cy="544.6" r="2.3"/><circle cx="540.1" cy="550.6" r="2.3"/><circle cx="539.0" cy="553.6" r="2.3"/><circle cx="544.4" cy="560.7" r="2.3"/><circle cx="539.0" cy="563.5" r="2.3"/><circle cx="546.5" cy="563.9" r="2.3"/><circle cx="547.4" cy="566.1" r="2.3"/><circle cx="521.9" cy="564.6" r="2.3"/><circle cx="506.9" cy="565.6" r="2.3"/><circle cx="509.9" cy="567.6" r="2.3"/><circle cx="501.3" cy="568.2" r="2.3"/><circle cx="521.6" cy="572.5" r="2.3"/><circle cx="522.7" cy="574.2" r="2.3"/><circle cx="531.5" cy="572.1" r="2.3"/><circle cx="535.8" cy="574.0" r="2.3"/><circle cx="507.7" cy="575.7" r="2.3"/><circle cx="499.1" cy="586.9" r="2.3"/><circle cx="530.9" cy="559.6" r="2.3"/><circle cx="572.2" cy="535.0" r="2.3"/><circle cx="578.0" cy="535.0" r="2.3"/><circle cx="588.7" cy="535.0" r="2.3"/><circle cx="558.1" cy="536.1" r="2.3"/><circle cx="555.9" cy="537.6" r="2.3"/><circle cx="594.5" cy="538.2" r="2.3"/><circle cx="609.1" cy="539.3" r="2.3"/><circle cx="568.4" cy="540.4" r="2.3"/><circle cx="628.8" cy="539.9" r="2.3"/><circle cx="660.9" cy="540.8" r="2.3"/><circle cx="666.9" cy="547.9" r="2.3"/><circle cx="554.9" cy="550.4" r="2.3"/><circle cx="559.8" cy="560.1" r="2.3"/><circle cx="548.0" cy="560.1" r="2.3"/><circle cx="550.1" cy="568.2" r="2.3"/><circle cx="552.9" cy="575.3" r="2.3"/><circle cx="568.4" cy="585.8" r="2.3"/></g>
<g fill="#0000ff" fill-opacity="0.52"><circle cx="543.7" cy="476.8" r="2.3"/><circle cx="534.5" cy="479.4" r="2.3"/><circle cx="515.9" cy="527.8" r="2.3"/><circle cx="500.2" cy="528.6" r="2.3"/><circle cx="497.2" cy="531.4" r="2.3"/><circle cx="477.9" cy="534.6" r="2.3"/><circle cx="632.2" cy="462.9" r="2.3"/><circle cx="655.8" cy="466.1" r="2.3"/><circle cx="622.4" cy="481.7" r="2.3"/><circle cx="638.6" cy="486.9" r="2.3"/><circle cx="606.5" cy="497.1" r="2.3"/><circle cx="642.3" cy="503.6" r="2.3"/><circle cx="579.5" cy="509.6" r="2.3"/><circle cx="573.7" cy="513.2" r="2.3"/><circle cx="549.5" cy="513.9" r="2.3"/><circle cx="604.8" cy="513.2" r="2.3"/><circle cx="558.1" cy="514.9" r="2.3"/><circle cx="647.6" cy="515.4" r="2.3"/><circle cx="579.7" cy="516.9" r="2.3"/><circle cx="596.9" cy="517.9" r="2.3"/><circle cx="555.5" cy="519.0" r="2.3"/><circle cx="564.7" cy="519.0" r="2.3"/><circle cx="571.1" cy="519.6" r="2.3"/><circle cx="585.1" cy="523.9" r="2.3"/><circle cx="588.7" cy="524.6" r="2.3"/><circle cx="477.9" cy="536.1" r="2.3"/><circle cx="479.0" cy="543.1" r="2.3"/><circle cx="475.1" cy="548.9" r="2.3"/><circle cx="481.6" cy="547.4" r="2.3"/><circle cx="482.6" cy="550.4" r="2.3"/><circle cx="489.7" cy="548.3" r="2.3"/><circle cx="439.4" cy="554.3" r="2.3"/><circle cx="462.9" cy="553.9" r="2.3"/><circle cx="486.3" cy="557.1" r="2.3"/><circle cx="441.5" cy="565.0" r="2.3"/><circle cx="485.4" cy="565.0" r="2.3"/><circle cx="425.2" cy="569.3" r="2.3"/><circle cx="437.0" cy="567.8" r="2.3"/><circle cx="446.6" cy="568.9" r="2.3"/><circle cx="477.3" cy="567.8" r="2.3"/><circle cx="489.7" cy="568.2" r="2.3"/><circle cx="432.9" cy="574.6" r="2.3"/><circle cx="438.3" cy="576.4" r="2.3"/><circle cx="484.4" cy="572.5" r="2.3"/><circle cx="482.6" cy="573.6" r="2.3"/><circle cx="415.1" cy="577.4" r="2.3"/><circle cx="420.9" cy="577.9" r="2.3"/><circle cx="439.1" cy="577.4" r="2.3"/><circle cx="466.1" cy="576.8" r="2.3"/><circle cx="466.1" cy="578.9" r="2.3"/><circle cx="486.5" cy="577.9" r="2.3"/><circle cx="419.9" cy="580.0" r="2.3"/><circle cx="422.0" cy="580.6" r="2.3"/><circle cx="426.5" cy="580.0" r="2.3"/><circle cx="430.1" cy="579.6" r="2.3"/><circle cx="469.8" cy="579.6" r="2.3"/><circle cx="472.6" cy="580.6" r="2.3"/><circle cx="488.4" cy="580.0" r="2.3"/><circle cx="489.7" cy="580.6" r="2.3"/><circle cx="420.9" cy="584.7" r="2.3"/><circle cx="431.9" cy="584.3" r="2.3"/><circle cx="437.2" cy="585.4" r="2.3"/><circle cx="473.4" cy="583.2" r="2.3"/><circle cx="474.5" cy="585.4" r="2.3"/><circle cx="425.2" cy="589.2" r="2.3"/><circle cx="431.9" cy="589.6" r="2.3"/><circle cx="433.4" cy="591.4" r="2.3"/><circle cx="443.6" cy="590.1" r="2.3"/><circle cx="445.8" cy="591.8" r="2.3"/><circle cx="451.1" cy="590.7" r="2.3"/><circle cx="456.5" cy="587.1" r="2.3"/><circle cx="460.6" cy="591.4" r="2.3"/><circle cx="479.9" cy="586.4" r="2.3"/><circle cx="475.1" cy="590.7" r="2.3"/><circle cx="439.8" cy="592.9" r="2.3"/><circle cx="425.2" cy="596.1" r="2.3"/><circle cx="416.9" cy="596.7" r="2.3"/><circle cx="435.5" cy="596.7" r="2.3"/><circle cx="443.6" cy="596.1" r="2.3"/><circle cx="452.6" cy="596.1" r="2.3"/><circle cx="457.4" cy="595.0" r="2.3"/><circle cx="480.1" cy="596.7" r="2.3"/><circle cx="431.9" cy="601.4" r="2.3"/><circle cx="436.1" cy="604.6" r="2.3"/><circle cx="447.7" cy="607.9" r="2.3"/><circle cx="445.6" cy="610.0" r="2.3"/><circle cx="436.1" cy="612.1" r="2.3"/><circle cx="440.4" cy="614.3" r="2.3"/><circle cx="432.3" cy="617.5" r="2.3"/><circle cx="419.9" cy="618.6" r="2.3"/><circle cx="417.3" cy="620.1" r="2.3"/><circle cx="475.8" cy="608.3" r="2.3"/><circle cx="482.2" cy="612.1" r="2.3"/><circle cx="507.9" cy="545.7" r="2.3"/><circle cx="520.6" cy="547.9" r="2.3"/><circle cx="523.4" cy="547.9" r="2.3"/><circle cx="497.2" cy="551.1" r="2.3"/><circle cx="521.6" cy="552.1" r="2.3"/><circle cx="505.6" cy="557.9" r="2.3"/><circle cx="514.4" cy="558.6" r="2.3"/><circle cx="543.3" cy="547.2" r="2.3"/><circle cx="546.5" cy="560.7" r="2.3"/><circle cx="495.9" cy="565.6" r="2.3"/><circle cx="501.9" cy="567.1" r="2.3"/><circle cx="510.5" cy="567.6" r="2.3"/><circle cx="495.1" cy="569.3" r="2.3"/><circle cx="496.6" cy="571.4" r="2.3"/><circle cx="504.1" cy="574.6" r="2.3"/><circle cx="499.1" cy="600.8" r="2.3"/><circle cx="521.9" cy="560.3" r="2.3"/><circle cx="588.7" cy="537.6" r="2.3"/><circle cx="610.6" cy="537.1" r="2.3"/><circle cx="564.5" cy="539.7" r="2.3"/><circle cx="579.1" cy="542.5" r="2.3"/><circle cx="583.8" cy="544.0" r="2.3"/><circle cx="548.0" cy="564.6" r="2.3"/><circle cx="554.4" cy="579.6" r="2.3"/></g>
</g>
<path d="M492.8 635.4V434.5" stroke="#000" stroke-width="1.7" stroke-dasharray="6.18 2.67" fill="none"/>
<path d="M570.3 635.4V434.5" stroke="#000" stroke-width="1.7" stroke-dasharray="6.18 2.67" fill="none"/>
<path d="M458.8 554.2l6.5 6.5l-6.5 6.5l-6.5 -6.5z" fill="#ff0000" stroke="#000" stroke-width="1.6" stroke-linejoin="miter"/>
<path d="M449.4 574.2l6.5 6.5l-6.5 6.5l-6.5 -6.5z" fill="#0000ff" stroke="#000" stroke-width="1.6" stroke-linejoin="miter"/>
<path d="M454.1 562.5l6.5 6.5l-6.5 6.5l-6.5 -6.5z" fill="#ffa500" stroke="#000" stroke-width="1.6" stroke-linejoin="miter"/>
<path d="M536.3 524.5l6.5 6.5l-6.5 6.5l-6.5 -6.5z" fill="#ff0000" stroke="#000" stroke-width="1.6" stroke-linejoin="miter"/>
<path d="M526.9 544.8l6.5 6.5l-6.5 6.5l-6.5 -6.5z" fill="#0000ff" stroke="#000" stroke-width="1.6" stroke-linejoin="miter"/>
<path d="M531.6 529.9l6.5 6.5l-6.5 6.5l-6.5 -6.5z" fill="#ffa500" stroke="#000" stroke-width="1.6" stroke-linejoin="miter"/>
<path d="M621.4 492.9l6.5 6.5l-6.5 6.5l-6.5 -6.5z" fill="#ff0000" stroke="#000" stroke-width="1.6" stroke-linejoin="miter"/>
<path d="M612.0 507.9l6.5 6.5l-6.5 6.5l-6.5 -6.5z" fill="#0000ff" stroke="#000" stroke-width="1.6" stroke-linejoin="miter"/>
<path d="M616.7 497.5l6.5 6.5l-6.5 6.5l-6.5 -6.5z" fill="#ffa500" stroke="#000" stroke-width="1.6" stroke-linejoin="miter"/>
<path d="M415.3 635.4v-4.2M415.3 434.5v4.2M454.1 635.4v-4.2M454.1 434.5v4.2M492.8 635.4v-4.2M492.8 434.5v4.2M531.5 635.4v-4.2M531.5 434.5v4.2M570.3 635.4v-4.2M570.3 434.5v4.2M609.0 635.4v-4.2M609.0 434.5v4.2M647.8 635.4v-4.2M647.8 434.5v4.2M686.5 635.4v-4.2M686.5 434.5v4.2M399.9 623.5h4.2M694.2 623.5h-4.2M399.9 588.1h4.2M694.2 588.1h-4.2M399.9 552.6h4.2M694.2 552.6h-4.2M399.9 517.2h4.2M694.2 517.2h-4.2M399.9 481.8h4.2M694.2 481.8h-4.2M399.9 446.3h4.2M694.2 446.3h-4.2" stroke="#000" stroke-width="1.8" fill="none"/>
<rect x="399.9" y="434.5" width="294.3" height="200.9" fill="none" stroke="#000" stroke-width="1.4"/>
<text x="396.1" y="627.2" font-size="11" text-anchor="end">0.5</text>
<text x="396.1" y="591.8" font-size="11" text-anchor="end">0.8</text>
<text x="396.1" y="556.4" font-size="11" text-anchor="end">1.1</text>
<text x="396.1" y="520.9" font-size="11" text-anchor="end">1.4</text>
<text x="396.1" y="485.5" font-size="11" text-anchor="end">1.7</text>
<text x="396.1" y="450.1" font-size="11" text-anchor="end">2.0</text>
<text x="450.0" y="449.5" font-size="14.8" font-weight="bold" text-anchor="middle">8.5<tspan font-style="italic" font-weight="normal" font-size="19.5">σ</tspan></text>
<text x="535.2" y="449.5" font-size="14.8" font-weight="bold" text-anchor="middle">3.5<tspan font-style="italic" font-weight="normal" font-size="19.5">σ</tspan></text>
<text x="641.9" y="449.5" font-size="14.8" font-weight="bold" text-anchor="middle">2.2<tspan font-style="italic" font-weight="normal" font-size="19.5">σ</tspan></text>
<clipPath id="c13"><rect x="399.9" y="635.4" width="294.3" height="200.3"/></clipPath>
<path d="M415.3 635.4V835.8M454.1 635.4V835.8M492.8 635.4V835.8M531.5 635.4V835.8M570.3 635.4V835.8M609.0 635.4V835.8M647.8 635.4V835.8M686.5 635.4V835.8M399.9 832.1H694.2M399.9 792.8H694.2M399.9 753.5H694.2M399.9 714.1H694.2M399.9 674.8H694.2" stroke="#b0b0b0" stroke-width="0.9" stroke-dasharray="0.9 1.3" fill="none"/>
<g clip-path="url(#c13)">
<g fill="#ff0000" fill-opacity="0.52"><circle cx="480.1" cy="657.4" r="2.3"/><circle cx="544.4" cy="658.5" r="2.3"/><circle cx="489.1" cy="664.9" r="2.3"/><circle cx="470.9" cy="668.8" r="2.3"/><circle cx="485.9" cy="678.2" r="2.3"/><circle cx="501.9" cy="678.9" r="2.3"/><circle cx="490.6" cy="683.6" r="2.3"/><circle cx="467.2" cy="686.8" r="2.3"/><circle cx="445.1" cy="690.0" r="2.3"/><circle cx="515.4" cy="688.1" r="2.3"/><circle cx="514.8" cy="690.0" r="2.3"/><circle cx="523.4" cy="687.9" r="2.3"/><circle cx="543.1" cy="688.9" r="2.3"/><circle cx="456.9" cy="692.8" r="2.3"/><circle cx="430.8" cy="698.1" r="2.3"/><circle cx="474.5" cy="698.6" r="2.3"/><circle cx="504.5" cy="706.7" r="2.3"/><circle cx="449.0" cy="708.2" r="2.3"/><circle cx="470.2" cy="708.2" r="2.3"/><circle cx="512.6" cy="713.8" r="2.3"/><circle cx="536.9" cy="718.9" r="2.3"/><circle cx="452.2" cy="722.1" r="2.3"/><circle cx="531.5" cy="721.7" r="2.3"/><circle cx="450.9" cy="727.7" r="2.3"/><circle cx="535.8" cy="728.8" r="2.3"/><circle cx="415.8" cy="734.6" r="2.3"/><circle cx="505.1" cy="733.9" r="2.3"/><circle cx="438.7" cy="735.6" r="2.3"/><circle cx="664.8" cy="636.0" r="2.3"/><circle cx="623.0" cy="642.9" r="2.3"/><circle cx="665.2" cy="643.9" r="2.3"/><circle cx="565.6" cy="650.4" r="2.3"/><circle cx="629.0" cy="651.6" r="2.3"/><circle cx="589.4" cy="655.9" r="2.3"/><circle cx="626.9" cy="662.1" r="2.3"/><circle cx="618.3" cy="667.5" r="2.3"/><circle cx="670.1" cy="666.6" r="2.3"/><circle cx="579.1" cy="681.0" r="2.3"/><circle cx="624.5" cy="681.6" r="2.3"/><circle cx="612.9" cy="687.4" r="2.3"/><circle cx="610.1" cy="688.5" r="2.3"/><circle cx="587.0" cy="693.4" r="2.3"/><circle cx="627.3" cy="694.3" r="2.3"/><circle cx="645.9" cy="693.9" r="2.3"/><circle cx="635.2" cy="700.9" r="2.3"/><circle cx="582.9" cy="702.4" r="2.3"/><circle cx="558.3" cy="705.2" r="2.3"/><circle cx="562.6" cy="705.2" r="2.3"/><circle cx="660.9" cy="706.3" r="2.3"/><circle cx="604.1" cy="708.2" r="2.3"/><circle cx="678.3" cy="713.8" r="2.3"/><circle cx="559.4" cy="714.9" r="2.3"/><circle cx="617.2" cy="718.5" r="2.3"/><circle cx="666.9" cy="721.7" r="2.3"/><circle cx="575.2" cy="724.3" r="2.3"/><circle cx="646.1" cy="724.5" r="2.3"/><circle cx="567.7" cy="728.6" r="2.3"/><circle cx="691.1" cy="728.6" r="2.3"/><circle cx="592.4" cy="730.3" r="2.3"/><circle cx="623.0" cy="732.9" r="2.3"/><circle cx="652.4" cy="733.5" r="2.3"/><circle cx="594.5" cy="736.1" r="2.3"/><circle cx="416.2" cy="739.2" r="2.3"/><circle cx="423.1" cy="739.2" r="2.3"/><circle cx="426.5" cy="738.8" r="2.3"/><circle cx="427.4" cy="743.1" r="2.3"/><circle cx="466.1" cy="739.2" r="2.3"/><circle cx="460.6" cy="742.4" r="2.3"/><circle cx="443.6" cy="742.4" r="2.3"/><circle cx="459.1" cy="744.6" r="2.3"/><circle cx="462.3" cy="747.1" r="2.3"/><circle cx="437.6" cy="747.1" r="2.3"/><circle cx="477.3" cy="746.1" r="2.3"/><circle cx="491.6" cy="743.9" r="2.3"/><circle cx="475.8" cy="751.6" r="2.3"/><circle cx="477.9" cy="751.6" r="2.3"/><circle cx="417.9" cy="754.6" r="2.3"/><circle cx="434.0" cy="757.4" r="2.3"/><circle cx="466.6" cy="758.1" r="2.3"/><circle cx="424.4" cy="760.6" r="2.3"/><circle cx="455.9" cy="760.6" r="2.3"/><circle cx="477.3" cy="761.3" r="2.3"/><circle cx="441.5" cy="762.4" r="2.3"/><circle cx="470.9" cy="763.4" r="2.3"/><circle cx="459.1" cy="764.5" r="2.3"/><circle cx="490.1" cy="763.9" r="2.3"/><circle cx="485.9" cy="764.5" r="2.3"/><circle cx="476.6" cy="765.4" r="2.3"/><circle cx="426.5" cy="768.1" r="2.3"/><circle cx="422.2" cy="768.1" r="2.3"/><circle cx="486.3" cy="768.1" r="2.3"/><circle cx="417.9" cy="770.9" r="2.3"/><circle cx="435.9" cy="772.0" r="2.3"/><circle cx="436.1" cy="774.6" r="2.3"/><circle cx="453.1" cy="776.1" r="2.3"/><circle cx="465.1" cy="776.1" r="2.3"/><circle cx="466.6" cy="774.6" r="2.3"/><circle cx="490.8" cy="775.2" r="2.3"/><circle cx="424.4" cy="777.4" r="2.3"/><circle cx="425.2" cy="779.9" r="2.3"/><circle cx="438.3" cy="780.6" r="2.3"/><circle cx="435.1" cy="781.0" r="2.3"/><circle cx="464.0" cy="781.6" r="2.3"/><circle cx="471.5" cy="782.1" r="2.3"/><circle cx="479.9" cy="783.1" r="2.3"/><circle cx="478.4" cy="779.9" r="2.3"/><circle cx="483.7" cy="781.0" r="2.3"/><circle cx="487.6" cy="785.3" r="2.3"/><circle cx="424.4" cy="783.8" r="2.3"/><circle cx="471.5" cy="785.9" r="2.3"/><circle cx="484.4" cy="787.9" r="2.3"/><circle cx="416.9" cy="787.4" r="2.3"/><circle cx="420.1" cy="788.1" r="2.3"/><circle cx="443.6" cy="787.4" r="2.3"/><circle cx="473.6" cy="789.1" r="2.3"/><circle cx="479.4" cy="788.1" r="2.3"/><circle cx="488.4" cy="789.1" r="2.3"/><circle cx="431.9" cy="792.8" r="2.3"/><circle cx="485.4" cy="788.5" r="2.3"/><circle cx="490.1" cy="790.2" r="2.3"/><circle cx="436.6" cy="794.9" r="2.3"/><circle cx="445.1" cy="795.6" r="2.3"/><circle cx="448.4" cy="796.4" r="2.3"/><circle cx="456.5" cy="796.4" r="2.3"/><circle cx="458.6" cy="797.5" r="2.3"/><circle cx="471.5" cy="795.6" r="2.3"/><circle cx="472.6" cy="797.7" r="2.3"/><circle cx="423.1" cy="797.1" r="2.3"/><circle cx="424.4" cy="798.1" r="2.3"/><circle cx="435.5" cy="798.1" r="2.3"/><circle cx="461.2" cy="799.9" r="2.3"/><circle cx="466.6" cy="799.2" r="2.3"/><circle cx="436.1" cy="801.4" r="2.3"/><circle cx="426.5" cy="802.0" r="2.3"/><circle cx="415.6" cy="804.1" r="2.3"/><circle cx="455.4" cy="803.1" r="2.3"/><circle cx="460.8" cy="803.9" r="2.3"/><circle cx="476.9" cy="805.6" r="2.3"/><circle cx="459.5" cy="807.1" r="2.3"/><circle cx="427.6" cy="812.1" r="2.3"/><circle cx="416.6" cy="808.9" r="2.3"/><circle cx="448.8" cy="818.9" r="2.3"/><circle cx="491.6" cy="814.2" r="2.3"/><circle cx="485.9" cy="803.5" r="2.3"/><circle cx="428.0" cy="788.5" r="2.3"/><circle cx="430.1" cy="796.0" r="2.3"/><circle cx="440.9" cy="793.9" r="2.3"/><circle cx="429.1" cy="783.1" r="2.3"/><circle cx="451.6" cy="800.3" r="2.3"/><circle cx="453.7" cy="782.1" r="2.3"/><circle cx="462.3" cy="801.4" r="2.3"/><circle cx="505.8" cy="736.0" r="2.3"/><circle cx="539.0" cy="740.3" r="2.3"/><circle cx="547.4" cy="742.9" r="2.3"/><circle cx="515.4" cy="745.6" r="2.3"/><circle cx="500.4" cy="748.4" r="2.3"/><circle cx="535.8" cy="749.5" r="2.3"/><circle cx="525.9" cy="749.9" r="2.3"/><circle cx="504.1" cy="754.2" r="2.3"/><circle cx="501.5" cy="757.4" r="2.3"/><circle cx="515.4" cy="762.1" r="2.3"/><circle cx="498.3" cy="762.4" r="2.3"/><circle cx="533.0" cy="762.8" r="2.3"/><circle cx="528.1" cy="765.6" r="2.3"/><circle cx="540.1" cy="767.1" r="2.3"/><circle cx="525.9" cy="769.2" r="2.3"/><circle cx="506.6" cy="769.6" r="2.3"/><circle cx="505.6" cy="771.8" r="2.3"/><circle cx="522.9" cy="771.4" r="2.3"/><circle cx="501.3" cy="775.0" r="2.3"/><circle cx="510.9" cy="775.6" r="2.3"/><circle cx="521.9" cy="774.1" r="2.3"/><circle cx="524.0" cy="774.6" r="2.3"/><circle cx="505.1" cy="780.4" r="2.3"/><circle cx="497.2" cy="781.6" r="2.3"/><circle cx="507.9" cy="779.9" r="2.3"/><circle cx="545.9" cy="781.0" r="2.3"/><circle cx="496.6" cy="786.8" r="2.3"/><circle cx="500.4" cy="787.4" r="2.3"/><circle cx="506.9" cy="787.4" r="2.3"/><circle cx="504.7" cy="790.2" r="2.3"/><circle cx="512.2" cy="791.1" r="2.3"/><circle cx="516.5" cy="791.7" r="2.3"/><circle cx="520.6" cy="791.3" r="2.3"/><circle cx="547.4" cy="788.5" r="2.3"/><circle cx="503.4" cy="795.6" r="2.3"/><circle cx="506.6" cy="796.0" r="2.3"/><circle cx="511.1" cy="797.1" r="2.3"/><circle cx="547.4" cy="794.9" r="2.3"/><circle cx="504.7" cy="799.9" r="2.3"/><circle cx="527.0" cy="799.2" r="2.3"/><circle cx="495.1" cy="804.1" r="2.3"/><circle cx="522.9" cy="806.7" r="2.3"/><circle cx="497.0" cy="808.2" r="2.3"/><circle cx="498.1" cy="809.9" r="2.3"/><circle cx="511.6" cy="809.9" r="2.3"/><circle cx="547.4" cy="807.1" r="2.3"/><circle cx="514.8" cy="814.2" r="2.3"/><circle cx="539.0" cy="751.0" r="2.3"/><circle cx="587.2" cy="738.1" r="2.3"/><circle cx="594.5" cy="737.7" r="2.3"/><circle cx="549.1" cy="743.1" r="2.3"/><circle cx="554.0" cy="743.5" r="2.3"/><circle cx="560.9" cy="747.8" r="2.3"/><circle cx="594.5" cy="746.7" r="2.3"/><circle cx="582.3" cy="751.0" r="2.3"/><circle cx="554.9" cy="751.4" r="2.3"/><circle cx="561.5" cy="753.1" r="2.3"/><circle cx="567.9" cy="754.9" r="2.3"/><circle cx="674.0" cy="749.5" r="2.3"/><circle cx="636.9" cy="752.5" r="2.3"/><circle cx="559.8" cy="756.4" r="2.3"/><circle cx="564.1" cy="756.4" r="2.3"/><circle cx="580.6" cy="756.4" r="2.3"/><circle cx="600.9" cy="756.4" r="2.3"/><circle cx="572.2" cy="758.9" r="2.3"/><circle cx="581.6" cy="759.6" r="2.3"/><circle cx="562.4" cy="761.7" r="2.3"/><circle cx="579.1" cy="762.4" r="2.3"/><circle cx="583.8" cy="762.4" r="2.3"/><circle cx="604.8" cy="762.1" r="2.3"/><circle cx="601.6" cy="763.2" r="2.3"/><circle cx="610.8" cy="760.6" r="2.3"/><circle cx="558.3" cy="764.9" r="2.3"/><circle cx="563.6" cy="765.6" r="2.3"/><circle cx="675.9" cy="768.1" r="2.3"/><circle cx="552.7" cy="770.3" r="2.3"/><circle cx="561.9" cy="770.7" r="2.3"/><circle cx="589.4" cy="770.3" r="2.3"/><circle cx="575.9" cy="772.0" r="2.3"/><circle cx="557.2" cy="772.4" r="2.3"/><circle cx="568.4" cy="773.9" r="2.3"/><circle cx="588.7" cy="774.1" r="2.3"/><circle cx="607.6" cy="773.5" r="2.3"/><circle cx="581.6" cy="776.3" r="2.3"/><circle cx="578.6" cy="777.4" r="2.3"/><circle cx="550.1" cy="777.4" r="2.3"/><circle cx="548.0" cy="778.2" r="2.3"/><circle cx="643.8" cy="776.7" r="2.3"/><circle cx="634.8" cy="778.2" r="2.3"/><circle cx="595.8" cy="778.4" r="2.3"/><circle cx="549.7" cy="781.0" r="2.3"/><circle cx="646.6" cy="783.1" r="2.3"/><circle cx="563.0" cy="784.2" r="2.3"/><circle cx="579.5" cy="787.0" r="2.3"/><circle cx="584.4" cy="788.5" r="2.3"/><circle cx="556.6" cy="788.9" r="2.3"/><circle cx="551.6" cy="791.1" r="2.3"/><circle cx="572.2" cy="792.8" r="2.3"/><circle cx="549.5" cy="794.3" r="2.3"/><circle cx="555.5" cy="796.6" r="2.3"/><circle cx="609.5" cy="796.4" r="2.3"/><circle cx="563.4" cy="796.6" r="2.3"/><circle cx="567.3" cy="798.1" r="2.3"/><circle cx="549.1" cy="798.1" r="2.3"/><circle cx="565.1" cy="800.9" r="2.3"/><circle cx="562.6" cy="802.0" r="2.3"/><circle cx="577.6" cy="801.4" r="2.3"/><circle cx="604.1" cy="800.9" r="2.3"/><circle cx="568.4" cy="805.2" r="2.3"/></g>
<g fill="#0000ff" fill-opacity="0.52"><circle cx="449.0" cy="640.3" r="2.3"/><circle cx="498.3" cy="656.4" r="2.3"/><circle cx="534.5" cy="655.3" r="2.3"/><circle cx="511.6" cy="704.1" r="2.3"/><circle cx="421.1" cy="712.5" r="2.3"/><circle cx="462.9" cy="721.7" r="2.3"/><circle cx="489.5" cy="726.4" r="2.3"/><circle cx="416.9" cy="732.9" r="2.3"/><circle cx="441.3" cy="735.2" r="2.3"/><circle cx="521.6" cy="735.6" r="2.3"/><circle cx="622.6" cy="656.4" r="2.3"/><circle cx="579.7" cy="687.4" r="2.3"/><circle cx="596.9" cy="706.7" r="2.3"/><circle cx="579.1" cy="712.5" r="2.3"/><circle cx="441.5" cy="736.0" r="2.3"/><circle cx="447.9" cy="754.9" r="2.3"/><circle cx="426.3" cy="758.5" r="2.3"/><circle cx="488.0" cy="757.4" r="2.3"/><circle cx="484.1" cy="758.5" r="2.3"/><circle cx="462.7" cy="762.4" r="2.3"/><circle cx="440.2" cy="767.5" r="2.3"/><circle cx="455.4" cy="769.9" r="2.3"/><circle cx="482.2" cy="768.1" r="2.3"/><circle cx="486.3" cy="768.8" r="2.3"/><circle cx="479.9" cy="769.9" r="2.3"/><circle cx="419.9" cy="772.4" r="2.3"/><circle cx="431.6" cy="772.0" r="2.3"/><circle cx="443.4" cy="772.4" r="2.3"/><circle cx="474.7" cy="772.4" r="2.3"/><circle cx="420.9" cy="775.2" r="2.3"/><circle cx="430.6" cy="774.6" r="2.3"/><circle cx="436.1" cy="776.1" r="2.3"/><circle cx="445.8" cy="774.6" r="2.3"/><circle cx="474.5" cy="776.1" r="2.3"/><circle cx="478.8" cy="773.5" r="2.3"/><circle cx="414.7" cy="778.9" r="2.3"/><circle cx="439.4" cy="778.4" r="2.3"/><circle cx="448.4" cy="777.4" r="2.3"/><circle cx="469.4" cy="778.9" r="2.3"/><circle cx="480.9" cy="774.1" r="2.3"/><circle cx="432.9" cy="779.9" r="2.3"/><circle cx="456.3" cy="778.9" r="2.3"/><circle cx="420.1" cy="783.8" r="2.3"/><circle cx="432.9" cy="785.3" r="2.3"/><circle cx="483.3" cy="787.0" r="2.3"/><circle cx="435.1" cy="787.9" r="2.3"/><circle cx="438.3" cy="788.5" r="2.3"/><circle cx="423.1" cy="791.1" r="2.3"/><circle cx="438.3" cy="791.7" r="2.3"/><circle cx="432.9" cy="793.2" r="2.3"/><circle cx="464.0" cy="791.7" r="2.3"/><circle cx="475.8" cy="790.2" r="2.3"/><circle cx="480.9" cy="793.9" r="2.3"/><circle cx="450.9" cy="794.9" r="2.3"/><circle cx="465.9" cy="797.1" r="2.3"/><circle cx="479.9" cy="795.6" r="2.3"/><circle cx="422.2" cy="799.2" r="2.3"/><circle cx="439.1" cy="797.7" r="2.3"/><circle cx="444.5" cy="798.1" r="2.3"/><circle cx="452.2" cy="799.9" r="2.3"/><circle cx="474.7" cy="799.2" r="2.3"/><circle cx="489.7" cy="798.6" r="2.3"/><circle cx="446.6" cy="802.0" r="2.3"/><circle cx="440.4" cy="802.4" r="2.3"/><circle cx="426.5" cy="803.5" r="2.3"/><circle cx="431.9" cy="804.6" r="2.3"/><circle cx="437.2" cy="806.7" r="2.3"/><circle cx="461.9" cy="805.0" r="2.3"/><circle cx="482.2" cy="803.5" r="2.3"/><circle cx="489.7" cy="803.5" r="2.3"/><circle cx="424.8" cy="807.1" r="2.3"/><circle cx="443.4" cy="808.4" r="2.3"/><circle cx="451.1" cy="807.1" r="2.3"/><circle cx="448.8" cy="809.5" r="2.3"/><circle cx="473.6" cy="808.9" r="2.3"/><circle cx="419.4" cy="810.6" r="2.3"/><circle cx="521.9" cy="736.6" r="2.3"/><circle cx="500.2" cy="748.4" r="2.3"/><circle cx="522.3" cy="752.1" r="2.3"/><circle cx="530.2" cy="755.7" r="2.3"/><circle cx="495.9" cy="766.0" r="2.3"/><circle cx="499.1" cy="768.1" r="2.3"/><circle cx="507.9" cy="772.4" r="2.3"/><circle cx="510.5" cy="783.8" r="2.3"/><circle cx="509.0" cy="788.5" r="2.3"/><circle cx="496.1" cy="792.8" r="2.3"/><circle cx="495.1" cy="795.6" r="2.3"/><circle cx="497.2" cy="795.6" r="2.3"/><circle cx="516.3" cy="794.9" r="2.3"/><circle cx="509.9" cy="799.9" r="2.3"/><circle cx="526.1" cy="804.6" r="2.3"/><circle cx="519.1" cy="806.7" r="2.3"/><circle cx="505.6" cy="807.8" r="2.3"/><circle cx="523.4" cy="810.6" r="2.3"/><circle cx="540.5" cy="808.9" r="2.3"/><circle cx="501.9" cy="814.6" r="2.3"/><circle cx="588.7" cy="747.8" r="2.3"/><circle cx="582.9" cy="750.6" r="2.3"/><circle cx="571.6" cy="752.7" r="2.3"/><circle cx="555.9" cy="757.4" r="2.3"/><circle cx="632.2" cy="762.1" r="2.3"/><circle cx="579.5" cy="767.7" r="2.3"/><circle cx="648.1" cy="769.2" r="2.3"/><circle cx="588.3" cy="774.6" r="2.3"/><circle cx="554.4" cy="776.7" r="2.3"/><circle cx="574.4" cy="781.4" r="2.3"/><circle cx="558.7" cy="784.6" r="2.3"/><circle cx="564.1" cy="785.3" r="2.3"/><circle cx="604.1" cy="805.6" r="2.3"/></g>
</g>
<path d="M492.8 835.8V635.4" stroke="#000" stroke-width="1.7" stroke-dasharray="6.18 2.67" fill="none"/>
<path d="M570.3 835.8V635.4" stroke="#000" stroke-width="1.7" stroke-dasharray="6.18 2.67" fill="none"/>
<path d="M458.8 778.8l6.5 6.5l-6.5 6.5l-6.5 -6.5z" fill="#ff0000" stroke="#000" stroke-width="1.6" stroke-linejoin="miter"/>
<path d="M449.4 784.1l6.5 6.5l-6.5 6.5l-6.5 -6.5z" fill="#0000ff" stroke="#000" stroke-width="1.6" stroke-linejoin="miter"/>
<path d="M454.1 780.5l6.5 6.5l-6.5 6.5l-6.5 -6.5z" fill="#ffa500" stroke="#000" stroke-width="1.6" stroke-linejoin="miter"/>
<path d="M536.3 771.6l6.5 6.5l-6.5 6.5l-6.5 -6.5z" fill="#ff0000" stroke="#000" stroke-width="1.6" stroke-linejoin="miter"/>
<path d="M526.9 781.5l6.5 6.5l-6.5 6.5l-6.5 -6.5z" fill="#0000ff" stroke="#000" stroke-width="1.6" stroke-linejoin="miter"/>
<path d="M531.6 772.5l6.5 6.5l-6.5 6.5l-6.5 -6.5z" fill="#ffa500" stroke="#000" stroke-width="1.6" stroke-linejoin="miter"/>
<path d="M613.9 740.9V758.3" stroke="#000" stroke-width="2"/>
<path d="M613.9 743.1l6.5 6.5l-6.5 6.5l-6.5 -6.5z" fill="#ff0000" stroke="#000" stroke-width="1.6" stroke-linejoin="miter"/>
<path d="M604.5 694.5V741.3" stroke="#000" stroke-width="2"/>
<path d="M604.5 711.4l6.5 6.5l-6.5 6.5l-6.5 -6.5z" fill="#0000ff" stroke="#000" stroke-width="1.6" stroke-linejoin="miter"/>
<path d="M609.2 740.2V759.8" stroke="#000" stroke-width="2"/>
<path d="M609.2 743.5l6.5 6.5l-6.5 6.5l-6.5 -6.5z" fill="#ffa500" stroke="#000" stroke-width="1.6" stroke-linejoin="miter"/>
<path d="M415.3 835.8v-4.2M415.3 635.4v4.2M454.1 835.8v-4.2M454.1 635.4v4.2M492.8 835.8v-4.2M492.8 635.4v4.2M531.5 835.8v-4.2M531.5 635.4v4.2M570.3 835.8v-4.2M570.3 635.4v4.2M609.0 835.8v-4.2M609.0 635.4v4.2M647.8 835.8v-4.2M647.8 635.4v4.2M686.5 835.8v-4.2M686.5 635.4v4.2M399.9 832.1h4.2M694.2 832.1h-4.2M399.9 792.8h4.2M694.2 792.8h-4.2M399.9 753.5h4.2M694.2 753.5h-4.2M399.9 714.1h4.2M694.2 714.1h-4.2M399.9 674.8h4.2M694.2 674.8h-4.2" stroke="#000" stroke-width="1.8" fill="none"/>
<rect x="399.9" y="635.4" width="294.3" height="200.3" fill="none" stroke="#000" stroke-width="1.4"/>
<text x="396.1" y="835.9" font-size="11" text-anchor="end">0</text>
<text x="396.1" y="796.5" font-size="11" text-anchor="end">1</text>
<text x="396.1" y="757.2" font-size="11" text-anchor="end">2</text>
<text x="396.1" y="717.8" font-size="11" text-anchor="end">3</text>
<text x="396.1" y="678.5" font-size="11" text-anchor="end">4</text>
<text x="453.1" y="650.4" font-size="14.8" font-weight="bold" text-anchor="middle">1.1<tspan font-style="italic" font-weight="normal" font-size="19.5">σ</tspan></text>
<text x="535.2" y="650.4" font-size="14.8" font-weight="bold" text-anchor="middle">1.4<tspan font-style="italic" font-weight="normal" font-size="19.5">σ</tspan></text>
<text x="641.9" y="650.4" font-size="14.8" font-weight="bold" text-anchor="middle">1.3<tspan font-style="italic" font-weight="normal" font-size="19.5">σ</tspan></text>
<text x="415.3" y="848.7" font-size="12" text-anchor="middle">9.50</text>
<text x="454.1" y="848.7" font-size="12" text-anchor="middle">9.75</text>
<text x="492.8" y="848.7" font-size="12" text-anchor="middle">10.00</text>
<text x="531.5" y="848.7" font-size="12" text-anchor="middle">10.25</text>
<text x="570.3" y="848.7" font-size="12" text-anchor="middle">10.50</text>
<text x="609.0" y="848.7" font-size="12" text-anchor="middle">10.75</text>
<text x="647.8" y="848.7" font-size="12" text-anchor="middle">11.00</text>
<text x="686.5" y="848.7" font-size="12" text-anchor="middle">11.25</text>
<text x="443.6" y="867.5" font-size="19" textLength="206.7" lengthAdjust="spacing">Log Stellar Mass [M*/M<tspan font-size="13.5" dy="3.2" dx="0.8">⊙</tspan><tspan dy="-3.2" dx="0.6">]</tspan></text>
<text transform="translate(373.7 184.8) rotate(-90)" font-size="18.6" textLength="102.0" lengthAdjust="spacing">Log R<tspan font-size="15.5" font-style="italic" dy="3.7">e</tspan><tspan dy="-3.7"> [kpc]</tspan></text>
<text transform="translate(374.2 410.0) rotate(-90)" font-size="18.6" textLength="150.4" lengthAdjust="spacing">Log SFR [M<tspan font-size="13.5" dy="3.2" dx="0.6">⊙</tspan><tspan dy="-3.2" dx="0.6">yr</tspan><tspan font-size="15.5" dy="-6.6">−1</tspan><tspan dy="6.6">]</tspan></text>
<text transform="translate(375.6 555.6) rotate(-90)" font-size="18.6" textLength="41.6" lengthAdjust="spacing">U - V</text>
<text transform="translate(383.1 782.4) rotate(-90)" font-size="18.6" textLength="92.6" lengthAdjust="spacing">Sérsic Index</text>
<text x="116.4" y="26.4" font-size="21">F275W</text>
<text x="185.6" y="26.4" font-size="21">mag</text>
<text x="257.6" y="26.4" font-size="21">25</text>
<path d="M245.6 15.2L234.0 18.9L245.6 22.7M233 25.8H246" stroke="#000" stroke-width="1.7" fill="none"/>
<text x="470.0" y="26.4" font-size="21">Flux</text>
<text x="514.6" y="26.4" font-size="21">Ratio</text>
<text x="596.6" y="26.4" font-size="21">8%</text>
<path d="M571.3 14.9L583.0 18.5L571.3 22.1M570.9 25.2H584" stroke="#000" stroke-width="1.7" fill="none"/>
<rect x="267.4" y="794.5" width="72.6" height="38.1" rx="1.8" fill="#fff" fill-opacity="0.8" stroke="#ccc" stroke-width="0.8"/>
<circle cx="279.2" cy="801.4" r="2.3" fill="#f00" fill-opacity="0.52"/>
<circle cx="279.2" cy="813.2" r="2.3" fill="#00f" fill-opacity="0.52"/>
<path d="M279.2 818.4l6.5 6.5l-6.5 6.5l-6.5 -6.5z" fill="#ffa500" stroke="#000" stroke-width="1.7"/>
<text x="294.3" y="803.9" font-size="8.4">Non-clumpy</text>
<text x="294.3" y="815.7" font-size="8.4">Clumpy</text>
<text x="294.3" y="827.4" font-size="8.4">All</text>
<rect x="597.7" y="782.9" width="90.6" height="47.4" rx="1.8" fill="#fff" fill-opacity="0.8" stroke="#ccc" stroke-width="0.8"/>
<circle cx="612.2" cy="791.8" r="2.3" fill="#f00" fill-opacity="0.52"/>
<circle cx="612.2" cy="806.5" r="2.3" fill="#00f" fill-opacity="0.52"/>
<path d="M612.2 814.4l6.5 6.5l-6.5 6.5l-6.5 -6.5z" fill="#ffa500" stroke="#000" stroke-width="1.7"/>
<text x="631.4" y="794.9" font-size="10.4">Non-clumpy</text>
<text x="631.4" y="809.6" font-size="10.4">Clumpy</text>
<text x="631.4" y="824.0" font-size="10.4">All</text>
</svg></body></html>
